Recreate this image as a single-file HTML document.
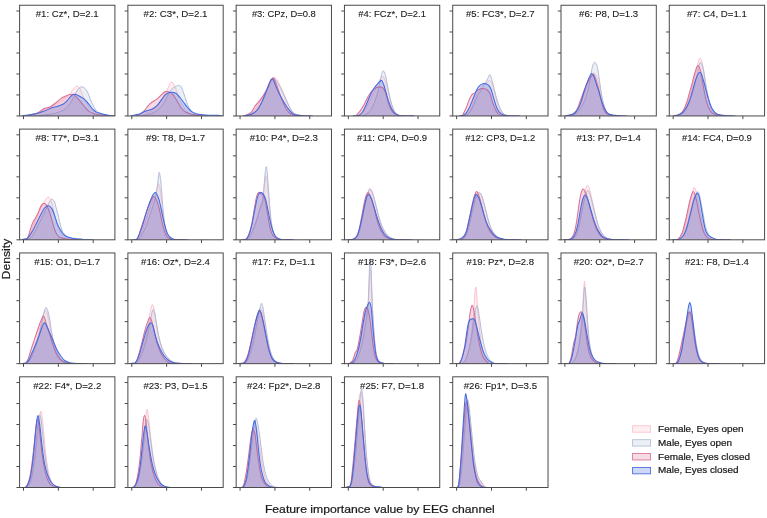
<!DOCTYPE html><html><head><meta charset="utf-8"><style>html,body{margin:0;padding:0;background:#fff;}svg{display:block;will-change:transform;}text{font-family:"Liberation Sans",sans-serif;fill:#1a1a1a;stroke:#1a1a1a;stroke-width:0.22px;}</style></head><body>
<svg width="767" height="518" viewBox="0 0 767 518">
<rect width="767" height="518" fill="#fff"/>
<clipPath id="cp0"><rect x="19.60" y="5.25" width="95.30" height="110.70"/></clipPath>
<g clip-path="url(#cp0)">
<path d="M22.00,115.95C22.50,115.92 23.33,116.04 25.00,115.80C26.67,115.56 29.17,115.30 32.00,114.50C34.83,113.70 38.67,112.42 42.00,111.00C45.33,109.58 49.00,107.58 52.00,106.00C55.00,104.42 57.67,103.00 60.00,101.50C62.33,100.00 64.22,98.38 66.00,97.00C67.78,95.62 69.68,94.25 70.70,93.20C71.72,92.15 71.50,91.58 72.10,90.70C72.70,89.82 73.47,88.63 74.30,87.90C75.13,87.17 76.15,86.18 77.10,86.30C78.05,86.42 79.28,87.63 80.00,88.60C80.72,89.57 80.92,90.92 81.40,92.10C81.88,93.28 82.18,94.15 82.90,95.70C83.62,97.25 84.75,99.62 85.70,101.40C86.65,103.18 87.65,104.97 88.60,106.40C89.55,107.83 90.33,108.98 91.40,110.00C92.47,111.02 93.80,111.90 95.00,112.50C96.20,113.10 96.93,113.05 98.60,113.60C100.27,114.15 103.43,115.41 105.00,115.80C106.57,116.19 107.50,115.92 108.00,115.95Z" fill="rgba(255,192,203,0.25)" stroke="none"/>
<path d="M22.00,115.95L22.00,115.95C22.50,115.92 23.33,116.04 25.00,115.80C26.67,115.56 29.17,115.30 32.00,114.50C34.83,113.70 38.67,112.42 42.00,111.00C45.33,109.58 49.00,107.58 52.00,106.00C55.00,104.42 57.67,103.00 60.00,101.50C62.33,100.00 64.22,98.38 66.00,97.00C67.78,95.62 69.68,94.25 70.70,93.20C71.72,92.15 71.50,91.58 72.10,90.70C72.70,89.82 73.47,88.63 74.30,87.90C75.13,87.17 76.15,86.18 77.10,86.30C78.05,86.42 79.28,87.63 80.00,88.60C80.72,89.57 80.92,90.92 81.40,92.10C81.88,93.28 82.18,94.15 82.90,95.70C83.62,97.25 84.75,99.62 85.70,101.40C86.65,103.18 87.65,104.97 88.60,106.40C89.55,107.83 90.33,108.98 91.40,110.00C92.47,111.02 93.80,111.90 95.00,112.50C96.20,113.10 96.93,113.05 98.60,113.60C100.27,114.15 103.43,115.41 105.00,115.80C106.57,116.19 107.50,115.92 108.00,115.95L114.90,115.95" fill="none" stroke="rgba(250,185,200,0.85)" stroke-width="1.00" stroke-linejoin="round"/>
<path d="M27.00,115.95C27.50,115.94 27.83,115.98 30.00,115.90C32.17,115.83 36.07,115.88 40.00,115.50C43.93,115.12 50.15,114.28 53.60,113.60C57.05,112.92 58.68,112.23 60.70,111.40C62.72,110.57 64.15,109.90 65.70,108.60C67.25,107.30 68.80,105.27 70.00,103.60C71.20,101.93 72.07,100.15 72.90,98.60C73.73,97.05 74.30,95.62 75.00,94.30C75.70,92.98 76.38,91.77 77.10,90.70C77.82,89.63 78.47,88.55 79.30,87.90C80.13,87.25 81.03,86.57 82.10,86.80C83.17,87.03 84.73,88.28 85.70,89.30C86.67,90.32 87.18,91.35 87.90,92.90C88.62,94.45 89.17,96.58 90.00,98.60C90.83,100.62 91.95,103.10 92.90,105.00C93.85,106.90 94.75,108.75 95.70,110.00C96.65,111.25 97.22,111.58 98.60,112.50C99.98,113.42 102.10,114.93 104.00,115.50C105.90,116.07 108.50,115.83 110.00,115.90C111.50,115.98 112.50,115.94 113.00,115.95Z" fill="rgba(176,196,222,0.25)" stroke="none"/>
<path d="M27.00,115.95L27.00,115.95C27.50,115.94 27.83,115.98 30.00,115.90C32.17,115.83 36.07,115.88 40.00,115.50C43.93,115.12 50.15,114.28 53.60,113.60C57.05,112.92 58.68,112.23 60.70,111.40C62.72,110.57 64.15,109.90 65.70,108.60C67.25,107.30 68.80,105.27 70.00,103.60C71.20,101.93 72.07,100.15 72.90,98.60C73.73,97.05 74.30,95.62 75.00,94.30C75.70,92.98 76.38,91.77 77.10,90.70C77.82,89.63 78.47,88.55 79.30,87.90C80.13,87.25 81.03,86.57 82.10,86.80C83.17,87.03 84.73,88.28 85.70,89.30C86.67,90.32 87.18,91.35 87.90,92.90C88.62,94.45 89.17,96.58 90.00,98.60C90.83,100.62 91.95,103.10 92.90,105.00C93.85,106.90 94.75,108.75 95.70,110.00C96.65,111.25 97.22,111.58 98.60,112.50C99.98,113.42 102.10,114.93 104.00,115.50C105.90,116.07 108.50,115.83 110.00,115.90C111.50,115.98 112.50,115.94 113.00,115.95L114.90,115.95" fill="none" stroke="rgba(172,182,208,0.9)" stroke-width="1.00" stroke-linejoin="round"/>
<path d="M27.00,115.95C27.50,115.86 28.40,115.81 30.00,115.40C31.60,114.99 34.20,114.65 36.60,113.50C39.00,112.35 42.23,109.55 44.40,108.50C46.57,107.45 47.72,108.13 49.60,107.20C51.48,106.27 53.85,104.33 55.70,102.90C57.55,101.47 59.03,99.73 60.70,98.60C62.37,97.47 64.15,96.77 65.70,96.10C67.25,95.43 68.80,94.90 70.00,94.60C71.20,94.30 71.95,94.00 72.90,94.30C73.85,94.60 74.75,95.57 75.70,96.40C76.65,97.23 77.53,98.10 78.60,99.30C79.67,100.50 80.92,102.17 82.10,103.60C83.28,105.03 84.50,106.60 85.70,107.90C86.90,109.20 88.10,110.52 89.30,111.40C90.50,112.28 91.48,112.63 92.90,113.20C94.32,113.77 95.67,114.43 97.80,114.80C99.93,115.17 103.88,115.21 105.70,115.40C107.52,115.59 108.20,115.86 108.70,115.95Z" fill="rgba(219,112,147,0.25)" stroke="none"/>
<path d="M27.00,115.95L27.00,115.95C27.50,115.86 28.40,115.81 30.00,115.40C31.60,114.99 34.20,114.65 36.60,113.50C39.00,112.35 42.23,109.55 44.40,108.50C46.57,107.45 47.72,108.13 49.60,107.20C51.48,106.27 53.85,104.33 55.70,102.90C57.55,101.47 59.03,99.73 60.70,98.60C62.37,97.47 64.15,96.77 65.70,96.10C67.25,95.43 68.80,94.90 70.00,94.60C71.20,94.30 71.95,94.00 72.90,94.30C73.85,94.60 74.75,95.57 75.70,96.40C76.65,97.23 77.53,98.10 78.60,99.30C79.67,100.50 80.92,102.17 82.10,103.60C83.28,105.03 84.50,106.60 85.70,107.90C86.90,109.20 88.10,110.52 89.30,111.40C90.50,112.28 91.48,112.63 92.90,113.20C94.32,113.77 95.67,114.43 97.80,114.80C99.93,115.17 103.88,115.21 105.70,115.40C107.52,115.59 108.20,115.86 108.70,115.95L114.90,115.95" fill="none" stroke="rgb(219,112,147)" stroke-width="1.05" stroke-linejoin="round"/>
<path d="M21.80,115.95C22.30,115.86 22.33,115.81 24.80,115.40C27.27,114.99 33.55,114.15 36.60,113.50C39.65,112.85 40.72,112.38 43.10,111.50C45.48,110.62 48.57,109.05 50.90,108.20C53.23,107.35 55.10,107.05 57.10,106.40C59.10,105.75 61.23,105.25 62.90,104.30C64.57,103.35 65.68,102.13 67.10,100.70C68.52,99.27 70.20,96.77 71.40,95.70C72.60,94.63 73.10,94.30 74.30,94.30C75.50,94.30 77.05,94.98 78.60,95.70C80.15,96.42 82.18,97.53 83.60,98.60C85.02,99.67 86.03,100.92 87.10,102.10C88.17,103.28 89.03,104.50 90.00,105.70C90.97,106.90 91.83,108.23 92.90,109.30C93.97,110.37 95.22,111.45 96.40,112.10C97.58,112.75 98.02,112.67 100.00,113.20C101.98,113.73 106.42,114.84 108.30,115.30C110.18,115.76 110.80,115.84 111.30,115.95Z" fill="rgba(65,105,225,0.25)" stroke="none"/>
<path d="M21.80,115.95L21.80,115.95C22.30,115.86 22.33,115.81 24.80,115.40C27.27,114.99 33.55,114.15 36.60,113.50C39.65,112.85 40.72,112.38 43.10,111.50C45.48,110.62 48.57,109.05 50.90,108.20C53.23,107.35 55.10,107.05 57.10,106.40C59.10,105.75 61.23,105.25 62.90,104.30C64.57,103.35 65.68,102.13 67.10,100.70C68.52,99.27 70.20,96.77 71.40,95.70C72.60,94.63 73.10,94.30 74.30,94.30C75.50,94.30 77.05,94.98 78.60,95.70C80.15,96.42 82.18,97.53 83.60,98.60C85.02,99.67 86.03,100.92 87.10,102.10C88.17,103.28 89.03,104.50 90.00,105.70C90.97,106.90 91.83,108.23 92.90,109.30C93.97,110.37 95.22,111.45 96.40,112.10C97.58,112.75 98.02,112.67 100.00,113.20C101.98,113.73 106.42,114.84 108.30,115.30C110.18,115.76 110.80,115.84 111.30,115.95L114.90,115.95" fill="none" stroke="rgb(65,105,225)" stroke-width="1.05" stroke-linejoin="round"/>
</g>
<rect x="19.60" y="5.25" width="95.30" height="110.70" fill="none" stroke="#4a4a4a" stroke-width="1.0"/>
<line x1="16.40" y1="115.95" x2="19.60" y2="115.95" stroke="#4a4a4a" stroke-width="1.0"/>
<line x1="16.40" y1="94.96" x2="19.60" y2="94.96" stroke="#4a4a4a" stroke-width="1.0"/>
<line x1="16.40" y1="73.97" x2="19.60" y2="73.97" stroke="#4a4a4a" stroke-width="1.0"/>
<line x1="16.40" y1="52.98" x2="19.60" y2="52.98" stroke="#4a4a4a" stroke-width="1.0"/>
<line x1="16.40" y1="31.99" x2="19.60" y2="31.99" stroke="#4a4a4a" stroke-width="1.0"/>
<line x1="16.40" y1="11.00" x2="19.60" y2="11.00" stroke="#4a4a4a" stroke-width="1.0"/>
<line x1="23.50" y1="115.95" x2="23.50" y2="119.15" stroke="#4a4a4a" stroke-width="1.0"/>
<line x1="58.35" y1="115.95" x2="58.35" y2="119.15" stroke="#4a4a4a" stroke-width="1.0"/>
<line x1="93.20" y1="115.95" x2="93.20" y2="119.15" stroke="#4a4a4a" stroke-width="1.0"/>
<text x="67.25" y="17.15" font-size="8.6" style="stroke-width:0.1px" text-anchor="middle" textLength="63.02" lengthAdjust="spacingAndGlyphs">#1: Cz*, D=2.1</text>
<clipPath id="cp1"><rect x="127.88" y="5.25" width="95.30" height="110.70"/></clipPath>
<g clip-path="url(#cp1)">
<path d="M140.06,115.95C140.56,115.76 141.47,115.50 143.06,114.83C144.65,114.16 147.43,113.30 149.62,111.94C151.81,110.59 154.22,108.66 156.18,106.69C158.15,104.72 159.90,102.36 161.43,100.13C162.96,97.90 164.28,95.32 165.37,93.31C166.46,91.29 167.23,89.70 167.99,88.06C168.76,86.42 169.42,84.45 169.96,83.46C170.51,82.48 170.77,82.22 171.28,82.15C171.78,82.09 172.43,82.41 172.98,83.07C173.53,83.73 173.97,84.82 174.56,86.09C175.15,87.36 175.87,88.82 176.52,90.68C177.18,92.54 177.51,94.84 178.49,97.24C179.48,99.65 181.12,102.93 182.43,105.12C183.74,107.31 184.84,108.84 186.37,110.37C187.90,111.90 189.87,113.47 191.62,114.30C193.37,115.14 195.49,115.08 196.87,115.35C198.24,115.63 199.37,115.85 199.87,115.95Z" fill="rgba(255,192,203,0.25)" stroke="none"/>
<path d="M140.06,115.95L140.06,115.95C140.56,115.76 141.47,115.50 143.06,114.83C144.65,114.16 147.43,113.30 149.62,111.94C151.81,110.59 154.22,108.66 156.18,106.69C158.15,104.72 159.90,102.36 161.43,100.13C162.96,97.90 164.28,95.32 165.37,93.31C166.46,91.29 167.23,89.70 167.99,88.06C168.76,86.42 169.42,84.45 169.96,83.46C170.51,82.48 170.77,82.22 171.28,82.15C171.78,82.09 172.43,82.41 172.98,83.07C173.53,83.73 173.97,84.82 174.56,86.09C175.15,87.36 175.87,88.82 176.52,90.68C177.18,92.54 177.51,94.84 178.49,97.24C179.48,99.65 181.12,102.93 182.43,105.12C183.74,107.31 184.84,108.84 186.37,110.37C187.90,111.90 189.87,113.47 191.62,114.30C193.37,115.14 195.49,115.08 196.87,115.35C198.24,115.63 199.37,115.85 199.87,115.95L208.87,115.95" fill="none" stroke="rgba(250,185,200,0.85)" stroke-width="1.00" stroke-linejoin="round"/>
<path d="M142.69,115.95C143.19,115.81 144.09,115.54 145.69,115.09C147.28,114.64 150.06,114.22 152.25,113.25C154.43,112.29 156.84,111.07 158.81,109.32C160.78,107.57 162.53,105.16 164.06,102.76C165.59,100.35 166.79,97.11 167.99,94.88C169.20,92.65 170.18,90.66 171.28,89.37C172.37,88.08 173.35,87.80 174.56,87.14C175.76,86.48 177.40,85.50 178.49,85.43C179.59,85.37 180.24,85.43 181.12,86.75C181.99,88.06 182.87,90.90 183.74,93.31C184.62,95.71 185.49,98.78 186.37,101.18C187.24,103.59 187.90,105.88 188.99,107.74C190.09,109.60 191.40,111.20 192.93,112.34C194.46,113.47 195.77,114.06 198.18,114.57C200.58,115.07 205.33,115.12 207.36,115.35C209.40,115.58 209.86,115.85 210.36,115.95Z" fill="rgba(176,196,222,0.25)" stroke="none"/>
<path d="M142.69,115.95L142.69,115.95C143.19,115.81 144.09,115.54 145.69,115.09C147.28,114.64 150.06,114.22 152.25,113.25C154.43,112.29 156.84,111.07 158.81,109.32C160.78,107.57 162.53,105.16 164.06,102.76C165.59,100.35 166.79,97.11 167.99,94.88C169.20,92.65 170.18,90.66 171.28,89.37C172.37,88.08 173.35,87.80 174.56,87.14C175.76,86.48 177.40,85.50 178.49,85.43C179.59,85.37 180.24,85.43 181.12,86.75C181.99,88.06 182.87,90.90 183.74,93.31C184.62,95.71 185.49,98.78 186.37,101.18C187.24,103.59 187.90,105.88 188.99,107.74C190.09,109.60 191.40,111.20 192.93,112.34C194.46,113.47 195.77,114.06 198.18,114.57C200.58,115.07 205.33,115.12 207.36,115.35C209.40,115.58 209.86,115.85 210.36,115.95L219.36,115.95" fill="none" stroke="rgba(172,182,208,0.9)" stroke-width="1.00" stroke-linejoin="round"/>
<path d="M136.12,115.95C136.62,115.72 137.75,115.45 139.12,114.57C140.50,113.68 142.62,112.38 144.37,110.63C146.12,108.88 147.43,106.08 149.62,104.07C151.81,102.06 155.09,100.52 157.50,98.56C159.90,96.59 162.53,93.44 164.06,92.26C165.59,91.08 165.59,91.40 166.68,91.47C167.78,91.54 169.53,92.08 170.62,92.65C171.71,93.22 172.15,93.46 173.24,94.88C174.34,96.30 175.87,99.04 177.18,101.18C178.49,103.32 179.81,105.99 181.12,107.74C182.43,109.49 183.31,110.59 185.06,111.68C186.80,112.77 189.65,113.71 191.62,114.30C193.59,114.90 195.49,114.95 196.87,115.22C198.24,115.50 199.37,115.83 199.87,115.95Z" fill="rgba(219,112,147,0.25)" stroke="none"/>
<path d="M136.12,115.95L136.12,115.95C136.62,115.72 137.75,115.45 139.12,114.57C140.50,113.68 142.62,112.38 144.37,110.63C146.12,108.88 147.43,106.08 149.62,104.07C151.81,102.06 155.09,100.52 157.50,98.56C159.90,96.59 162.53,93.44 164.06,92.26C165.59,91.08 165.59,91.40 166.68,91.47C167.78,91.54 169.53,92.08 170.62,92.65C171.71,93.22 172.15,93.46 173.24,94.88C174.34,96.30 175.87,99.04 177.18,101.18C178.49,103.32 179.81,105.99 181.12,107.74C182.43,109.49 183.31,110.59 185.06,111.68C186.80,112.77 189.65,113.71 191.62,114.30C193.59,114.90 195.49,114.95 196.87,115.22C198.24,115.50 199.37,115.83 199.87,115.95L208.87,115.95" fill="none" stroke="rgb(219,112,147)" stroke-width="1.05" stroke-linejoin="round"/>
<path d="M130.87,115.95C131.37,115.83 132.28,115.61 133.87,115.22C135.47,114.84 138.47,114.35 140.44,113.65C142.40,112.95 143.72,111.79 145.69,111.02C147.65,110.26 150.28,110.04 152.25,109.06C154.22,108.07 155.97,106.65 157.50,105.12C159.03,103.59 160.12,101.62 161.43,99.87C162.75,98.12 163.84,95.89 165.37,94.62C166.90,93.35 168.87,92.48 170.62,92.26C172.37,92.04 174.34,92.48 175.87,93.31C177.40,94.14 178.49,95.71 179.81,97.24C181.12,98.78 182.43,100.74 183.74,102.49C185.06,104.24 186.37,106.21 187.68,107.74C188.99,109.27 190.09,110.65 191.62,111.68C193.15,112.71 194.68,113.36 196.87,113.91C199.05,114.46 201.24,114.72 204.74,114.96C208.24,115.20 215.18,115.19 217.86,115.35C220.55,115.52 220.36,115.85 220.86,115.95Z" fill="rgba(65,105,225,0.25)" stroke="none"/>
<path d="M130.87,115.95L130.87,115.95C131.37,115.83 132.28,115.61 133.87,115.22C135.47,114.84 138.47,114.35 140.44,113.65C142.40,112.95 143.72,111.79 145.69,111.02C147.65,110.26 150.28,110.04 152.25,109.06C154.22,108.07 155.97,106.65 157.50,105.12C159.03,103.59 160.12,101.62 161.43,99.87C162.75,98.12 163.84,95.89 165.37,94.62C166.90,93.35 168.87,92.48 170.62,92.26C172.37,92.04 174.34,92.48 175.87,93.31C177.40,94.14 178.49,95.71 179.81,97.24C181.12,98.78 182.43,100.74 183.74,102.49C185.06,104.24 186.37,106.21 187.68,107.74C188.99,109.27 190.09,110.65 191.62,111.68C193.15,112.71 194.68,113.36 196.87,113.91C199.05,114.46 201.24,114.72 204.74,114.96C208.24,115.20 215.18,115.19 217.86,115.35C220.55,115.52 220.36,115.85 220.86,115.95L223.18,115.95" fill="none" stroke="rgb(65,105,225)" stroke-width="1.05" stroke-linejoin="round"/>
</g>
<rect x="127.88" y="5.25" width="95.30" height="110.70" fill="none" stroke="#4a4a4a" stroke-width="1.0"/>
<line x1="124.68" y1="115.95" x2="127.88" y2="115.95" stroke="#4a4a4a" stroke-width="1.0"/>
<line x1="124.68" y1="94.96" x2="127.88" y2="94.96" stroke="#4a4a4a" stroke-width="1.0"/>
<line x1="124.68" y1="73.97" x2="127.88" y2="73.97" stroke="#4a4a4a" stroke-width="1.0"/>
<line x1="124.68" y1="52.98" x2="127.88" y2="52.98" stroke="#4a4a4a" stroke-width="1.0"/>
<line x1="124.68" y1="31.99" x2="127.88" y2="31.99" stroke="#4a4a4a" stroke-width="1.0"/>
<line x1="124.68" y1="11.00" x2="127.88" y2="11.00" stroke="#4a4a4a" stroke-width="1.0"/>
<line x1="131.78" y1="115.95" x2="131.78" y2="119.15" stroke="#4a4a4a" stroke-width="1.0"/>
<line x1="166.63" y1="115.95" x2="166.63" y2="119.15" stroke="#4a4a4a" stroke-width="1.0"/>
<line x1="201.48" y1="115.95" x2="201.48" y2="119.15" stroke="#4a4a4a" stroke-width="1.0"/>
<text x="175.53" y="17.15" font-size="8.6" style="stroke-width:0.1px" text-anchor="middle" textLength="63.94" lengthAdjust="spacingAndGlyphs">#2: C3*, D=2.1</text>
<clipPath id="cp2"><rect x="236.16" y="5.25" width="95.30" height="110.70"/></clipPath>
<g clip-path="url(#cp2)">
<path d="M245.44,115.95C245.94,115.81 247.28,115.63 248.44,115.09C249.59,114.56 250.84,114.28 252.37,112.73C253.90,111.18 255.87,108.53 257.62,105.77C259.37,103.02 261.34,99.10 262.87,96.19C264.40,93.29 265.50,90.94 266.81,88.32C268.12,85.70 269.70,82.20 270.75,80.45C271.80,78.70 272.45,78.35 273.11,77.82C273.76,77.30 274.16,77.17 274.68,77.30C275.21,77.43 275.64,77.80 276.26,78.61C276.87,79.42 277.48,80.47 278.36,82.15C279.23,83.84 280.33,86.15 281.51,88.71C282.69,91.27 284.13,94.55 285.44,97.51C286.76,100.46 288.07,103.94 289.38,106.43C290.69,108.92 291.79,111.05 293.32,112.47C294.85,113.89 297.19,114.38 298.57,114.96C299.94,115.54 301.07,115.79 301.57,115.95Z" fill="rgba(255,192,203,0.25)" stroke="none"/>
<path d="M245.44,115.95L245.44,115.95C245.94,115.81 247.28,115.63 248.44,115.09C249.59,114.56 250.84,114.28 252.37,112.73C253.90,111.18 255.87,108.53 257.62,105.77C259.37,103.02 261.34,99.10 262.87,96.19C264.40,93.29 265.50,90.94 266.81,88.32C268.12,85.70 269.70,82.20 270.75,80.45C271.80,78.70 272.45,78.35 273.11,77.82C273.76,77.30 274.16,77.17 274.68,77.30C275.21,77.43 275.64,77.80 276.26,78.61C276.87,79.42 277.48,80.47 278.36,82.15C279.23,83.84 280.33,86.15 281.51,88.71C282.69,91.27 284.13,94.55 285.44,97.51C286.76,100.46 288.07,103.94 289.38,106.43C290.69,108.92 291.79,111.05 293.32,112.47C294.85,113.89 297.19,114.38 298.57,114.96C299.94,115.54 301.07,115.79 301.57,115.95L310.57,115.95" fill="none" stroke="rgba(250,185,200,0.85)" stroke-width="1.00" stroke-linejoin="round"/>
<path d="M245.44,115.95C245.94,115.83 247.06,115.67 248.44,115.22C249.81,114.77 251.94,114.50 253.69,113.25C255.43,112.01 257.18,110.41 258.93,107.74C260.68,105.07 262.65,100.70 264.18,97.24C265.71,93.79 266.92,89.90 268.12,87.01C269.32,84.12 270.48,81.36 271.40,79.92C272.32,78.48 272.91,78.35 273.63,78.35C274.35,78.35 274.86,78.83 275.73,79.92C276.61,81.01 277.70,82.79 278.88,84.91C280.06,87.03 281.51,89.90 282.82,92.65C284.13,95.41 285.44,98.67 286.76,101.44C288.07,104.22 289.38,107.26 290.69,109.32C292.01,111.37 293.14,112.80 294.63,113.78C296.12,114.76 298.29,114.86 299.62,115.22C300.95,115.58 302.12,115.83 302.62,115.95Z" fill="rgba(176,196,222,0.25)" stroke="none"/>
<path d="M245.44,115.95L245.44,115.95C245.94,115.83 247.06,115.67 248.44,115.22C249.81,114.77 251.94,114.50 253.69,113.25C255.43,112.01 257.18,110.41 258.93,107.74C260.68,105.07 262.65,100.70 264.18,97.24C265.71,93.79 266.92,89.90 268.12,87.01C269.32,84.12 270.48,81.36 271.40,79.92C272.32,78.48 272.91,78.35 273.63,78.35C274.35,78.35 274.86,78.83 275.73,79.92C276.61,81.01 277.70,82.79 278.88,84.91C280.06,87.03 281.51,89.90 282.82,92.65C284.13,95.41 285.44,98.67 286.76,101.44C288.07,104.22 289.38,107.26 290.69,109.32C292.01,111.37 293.14,112.80 294.63,113.78C296.12,114.76 298.29,114.86 299.62,115.22C300.95,115.58 302.12,115.83 302.62,115.95L311.62,115.95" fill="none" stroke="rgba(172,182,208,0.9)" stroke-width="1.00" stroke-linejoin="round"/>
<path d="M242.81,115.95C243.31,115.83 244.44,115.80 245.81,115.22C247.19,114.64 249.53,113.98 251.06,112.47C252.59,110.96 253.58,108.14 255.00,106.17C256.42,104.20 258.04,102.67 259.59,100.66C261.14,98.64 262.92,96.26 264.31,94.09C265.71,91.93 266.92,89.83 267.99,87.66C269.06,85.50 270.02,82.57 270.75,81.10C271.47,79.64 271.84,79.37 272.32,78.87C272.80,78.37 272.89,77.03 273.63,78.08C274.38,79.13 275.86,82.85 276.78,85.17C277.70,87.49 278.29,89.59 279.14,91.99C280.00,94.40 280.98,97.27 281.90,99.61C282.82,101.95 283.74,104.18 284.66,106.04C285.57,107.90 286.49,109.51 287.41,110.76C288.33,112.01 289.10,112.80 290.17,113.52C291.24,114.24 292.49,114.76 293.84,115.09C295.20,115.42 297.06,115.34 298.30,115.49C299.55,115.63 300.80,115.87 301.30,115.95Z" fill="rgba(219,112,147,0.25)" stroke="none"/>
<path d="M242.81,115.95L242.81,115.95C243.31,115.83 244.44,115.80 245.81,115.22C247.19,114.64 249.53,113.98 251.06,112.47C252.59,110.96 253.58,108.14 255.00,106.17C256.42,104.20 258.04,102.67 259.59,100.66C261.14,98.64 262.92,96.26 264.31,94.09C265.71,91.93 266.92,89.83 267.99,87.66C269.06,85.50 270.02,82.57 270.75,81.10C271.47,79.64 271.84,79.37 272.32,78.87C272.80,78.37 272.89,77.03 273.63,78.08C274.38,79.13 275.86,82.85 276.78,85.17C277.70,87.49 278.29,89.59 279.14,91.99C280.00,94.40 280.98,97.27 281.90,99.61C282.82,101.95 283.74,104.18 284.66,106.04C285.57,107.90 286.49,109.51 287.41,110.76C288.33,112.01 289.10,112.80 290.17,113.52C291.24,114.24 292.49,114.76 293.84,115.09C295.20,115.42 297.06,115.34 298.30,115.49C299.55,115.63 300.80,115.87 301.30,115.95L310.30,115.95" fill="none" stroke="rgb(219,112,147)" stroke-width="1.05" stroke-linejoin="round"/>
<path d="M244.12,115.95C244.62,115.83 245.75,115.58 247.12,115.22C248.50,114.86 250.62,114.76 252.37,113.78C254.12,112.80 256.09,111.20 257.62,109.32C259.15,107.44 260.25,105.16 261.56,102.49C262.87,99.83 264.29,96.33 265.50,93.31C266.70,90.29 267.90,86.61 268.78,84.38C269.65,82.15 270.20,80.80 270.75,79.92C271.29,79.05 271.58,79.05 272.06,79.13C272.54,79.22 272.78,78.74 273.63,80.45C274.49,82.15 275.97,86.64 277.18,89.37C278.38,92.10 279.60,94.53 280.85,96.85C282.10,99.17 283.41,101.27 284.66,103.28C285.90,105.29 287.11,107.31 288.33,108.92C289.56,110.54 290.78,111.99 292.01,112.99C293.23,114.00 294.19,114.55 295.68,114.96C297.17,115.38 299.55,115.32 300.93,115.49C302.30,115.65 303.43,115.87 303.93,115.95Z" fill="rgba(65,105,225,0.25)" stroke="none"/>
<path d="M244.12,115.95L244.12,115.95C244.62,115.83 245.75,115.58 247.12,115.22C248.50,114.86 250.62,114.76 252.37,113.78C254.12,112.80 256.09,111.20 257.62,109.32C259.15,107.44 260.25,105.16 261.56,102.49C262.87,99.83 264.29,96.33 265.50,93.31C266.70,90.29 267.90,86.61 268.78,84.38C269.65,82.15 270.20,80.80 270.75,79.92C271.29,79.05 271.58,79.05 272.06,79.13C272.54,79.22 272.78,78.74 273.63,80.45C274.49,82.15 275.97,86.64 277.18,89.37C278.38,92.10 279.60,94.53 280.85,96.85C282.10,99.17 283.41,101.27 284.66,103.28C285.90,105.29 287.11,107.31 288.33,108.92C289.56,110.54 290.78,111.99 292.01,112.99C293.23,114.00 294.19,114.55 295.68,114.96C297.17,115.38 299.55,115.32 300.93,115.49C302.30,115.65 303.43,115.87 303.93,115.95L312.93,115.95" fill="none" stroke="rgb(65,105,225)" stroke-width="1.05" stroke-linejoin="round"/>
</g>
<rect x="236.16" y="5.25" width="95.30" height="110.70" fill="none" stroke="#4a4a4a" stroke-width="1.0"/>
<line x1="232.96" y1="115.95" x2="236.16" y2="115.95" stroke="#4a4a4a" stroke-width="1.0"/>
<line x1="232.96" y1="94.96" x2="236.16" y2="94.96" stroke="#4a4a4a" stroke-width="1.0"/>
<line x1="232.96" y1="73.97" x2="236.16" y2="73.97" stroke="#4a4a4a" stroke-width="1.0"/>
<line x1="232.96" y1="52.98" x2="236.16" y2="52.98" stroke="#4a4a4a" stroke-width="1.0"/>
<line x1="232.96" y1="31.99" x2="236.16" y2="31.99" stroke="#4a4a4a" stroke-width="1.0"/>
<line x1="232.96" y1="11.00" x2="236.16" y2="11.00" stroke="#4a4a4a" stroke-width="1.0"/>
<line x1="240.06" y1="115.95" x2="240.06" y2="119.15" stroke="#4a4a4a" stroke-width="1.0"/>
<line x1="274.91" y1="115.95" x2="274.91" y2="119.15" stroke="#4a4a4a" stroke-width="1.0"/>
<line x1="309.76" y1="115.95" x2="309.76" y2="119.15" stroke="#4a4a4a" stroke-width="1.0"/>
<text x="283.81" y="17.15" font-size="8.6" style="stroke-width:0.1px" text-anchor="middle" textLength="63.87" lengthAdjust="spacingAndGlyphs">#3: CPz, D=0.8</text>
<clipPath id="cp3"><rect x="344.44" y="5.25" width="95.30" height="110.70"/></clipPath>
<g clip-path="url(#cp3)">
<path d="M355.36,115.95C355.86,115.95 357.39,116.22 358.36,115.95C359.33,115.68 360.13,115.24 361.16,114.31C362.19,113.38 363.40,111.98 364.52,110.39C365.64,108.81 366.76,106.85 367.88,104.79C369.00,102.74 370.12,100.31 371.24,98.07C372.36,95.83 373.57,93.59 374.60,91.35C375.62,89.12 376.52,86.60 377.40,84.64C378.27,82.68 379.11,80.87 379.86,79.60C380.61,78.33 381.26,77.49 381.88,77.02C382.49,76.55 382.90,75.90 383.56,76.80C384.21,77.69 385.05,80.16 385.80,82.40C386.54,84.64 387.34,87.62 388.03,90.24C388.73,92.85 389.29,95.46 389.94,98.07C390.59,100.69 391.15,103.58 391.95,105.91C392.76,108.25 393.73,110.58 394.75,112.07C395.78,113.56 396.99,114.22 398.11,114.87C399.23,115.52 400.41,115.77 401.47,115.95C402.53,116.13 403.97,115.95 404.47,115.95Z" fill="rgba(255,192,203,0.25)" stroke="none"/>
<path d="M355.36,115.95L355.36,115.95C355.86,115.95 357.39,116.22 358.36,115.95C359.33,115.68 360.13,115.24 361.16,114.31C362.19,113.38 363.40,111.98 364.52,110.39C365.64,108.81 366.76,106.85 367.88,104.79C369.00,102.74 370.12,100.31 371.24,98.07C372.36,95.83 373.57,93.59 374.60,91.35C375.62,89.12 376.52,86.60 377.40,84.64C378.27,82.68 379.11,80.87 379.86,79.60C380.61,78.33 381.26,77.49 381.88,77.02C382.49,76.55 382.90,75.90 383.56,76.80C384.21,77.69 385.05,80.16 385.80,82.40C386.54,84.64 387.34,87.62 388.03,90.24C388.73,92.85 389.29,95.46 389.94,98.07C390.59,100.69 391.15,103.58 391.95,105.91C392.76,108.25 393.73,110.58 394.75,112.07C395.78,113.56 396.99,114.22 398.11,114.87C399.23,115.52 400.41,115.77 401.47,115.95C402.53,116.13 403.97,115.95 404.47,115.95L413.47,115.95" fill="none" stroke="rgba(250,185,200,0.85)" stroke-width="1.00" stroke-linejoin="round"/>
<path d="M358.72,115.95C359.22,115.95 360.66,116.13 361.72,115.95C362.78,115.77 363.87,115.52 365.08,114.87C366.29,114.22 367.78,113.38 369.00,112.07C370.21,110.77 371.33,108.99 372.36,107.03C373.38,105.07 374.32,102.55 375.16,100.31C376.00,98.07 376.74,95.83 377.40,93.59C378.05,91.35 378.55,89.30 379.08,86.88C379.60,84.45 380.07,81.28 380.53,79.04C381.00,76.80 381.41,74.80 381.88,73.44C382.34,72.08 382.77,70.68 383.33,70.86C383.89,71.05 384.64,72.64 385.24,74.56C385.83,76.48 386.35,79.60 386.91,82.40C387.47,85.20 387.98,88.37 388.59,91.35C389.21,94.34 389.86,97.51 390.61,100.31C391.36,103.11 392.20,106.01 393.07,108.15C393.95,110.30 394.75,111.98 395.87,113.19C396.99,114.40 398.58,114.97 399.79,115.43C401.01,115.89 402.09,115.86 403.15,115.95C404.21,116.04 405.65,115.95 406.15,115.95Z" fill="rgba(176,196,222,0.25)" stroke="none"/>
<path d="M358.72,115.95L358.72,115.95C359.22,115.95 360.66,116.13 361.72,115.95C362.78,115.77 363.87,115.52 365.08,114.87C366.29,114.22 367.78,113.38 369.00,112.07C370.21,110.77 371.33,108.99 372.36,107.03C373.38,105.07 374.32,102.55 375.16,100.31C376.00,98.07 376.74,95.83 377.40,93.59C378.05,91.35 378.55,89.30 379.08,86.88C379.60,84.45 380.07,81.28 380.53,79.04C381.00,76.80 381.41,74.80 381.88,73.44C382.34,72.08 382.77,70.68 383.33,70.86C383.89,71.05 384.64,72.64 385.24,74.56C385.83,76.48 386.35,79.60 386.91,82.40C387.47,85.20 387.98,88.37 388.59,91.35C389.21,94.34 389.86,97.51 390.61,100.31C391.36,103.11 392.20,106.01 393.07,108.15C393.95,110.30 394.75,111.98 395.87,113.19C396.99,114.40 398.58,114.97 399.79,115.43C401.01,115.89 402.09,115.86 403.15,115.95C404.21,116.04 405.65,115.95 406.15,115.95L415.15,115.95" fill="none" stroke="rgba(172,182,208,0.9)" stroke-width="1.00" stroke-linejoin="round"/>
<path d="M352.56,115.95C353.06,115.95 354.78,116.22 355.56,115.95C356.34,115.68 356.40,115.24 357.24,114.31C358.08,113.38 359.48,111.98 360.60,110.39C361.72,108.81 362.84,106.85 363.96,104.79C365.08,102.74 366.20,100.13 367.32,98.07C368.44,96.02 369.56,93.97 370.68,92.47C371.80,90.98 373.01,89.96 374.04,89.12C375.06,88.28 375.81,87.81 376.84,87.44C377.86,87.06 379.17,86.78 380.20,86.88C381.22,86.97 382.30,87.47 383.00,88.00C383.69,88.52 383.87,89.08 384.34,90.01C384.81,90.94 385.31,92.16 385.80,93.59C386.28,95.03 386.78,96.95 387.25,98.63C387.72,100.31 388.00,101.90 388.59,103.67C389.19,105.45 389.99,107.69 390.83,109.27C391.67,110.86 392.51,112.20 393.63,113.19C394.75,114.18 396.34,114.75 397.55,115.21C398.77,115.67 399.85,115.83 400.91,115.95C401.97,116.07 403.41,115.95 403.91,115.95Z" fill="rgba(219,112,147,0.25)" stroke="none"/>
<path d="M352.56,115.95L352.56,115.95C353.06,115.95 354.78,116.22 355.56,115.95C356.34,115.68 356.40,115.24 357.24,114.31C358.08,113.38 359.48,111.98 360.60,110.39C361.72,108.81 362.84,106.85 363.96,104.79C365.08,102.74 366.20,100.13 367.32,98.07C368.44,96.02 369.56,93.97 370.68,92.47C371.80,90.98 373.01,89.96 374.04,89.12C375.06,88.28 375.81,87.81 376.84,87.44C377.86,87.06 379.17,86.78 380.20,86.88C381.22,86.97 382.30,87.47 383.00,88.00C383.69,88.52 383.87,89.08 384.34,90.01C384.81,90.94 385.31,92.16 385.80,93.59C386.28,95.03 386.78,96.95 387.25,98.63C387.72,100.31 388.00,101.90 388.59,103.67C389.19,105.45 389.99,107.69 390.83,109.27C391.67,110.86 392.51,112.20 393.63,113.19C394.75,114.18 396.34,114.75 397.55,115.21C398.77,115.67 399.85,115.83 400.91,115.95C401.97,116.07 403.41,115.95 403.91,115.95L412.91,115.95" fill="none" stroke="rgb(219,112,147)" stroke-width="1.05" stroke-linejoin="round"/>
<path d="M353.12,115.95C353.62,115.95 355.43,116.00 356.12,115.95C356.81,115.90 356.68,115.83 357.24,115.66C357.80,115.48 358.55,115.56 359.48,114.87C360.41,114.18 361.72,113.19 362.84,111.51C363.96,109.83 365.17,107.03 366.20,104.79C367.22,102.55 368.06,100.22 369.00,98.07C369.93,95.93 370.86,93.69 371.80,91.91C372.73,90.14 373.66,88.74 374.60,87.44C375.53,86.13 376.59,84.99 377.40,84.08C378.20,83.16 378.76,82.56 379.41,81.95C380.07,81.33 380.76,80.31 381.32,80.38C381.88,80.46 382.30,81.50 382.77,82.40C383.24,83.29 383.52,83.89 384.12,85.76C384.71,87.62 385.61,90.98 386.35,93.59C387.10,96.21 387.75,99.01 388.59,101.43C389.43,103.86 390.46,106.29 391.39,108.15C392.33,110.02 393.17,111.51 394.19,112.63C395.22,113.75 396.25,114.32 397.55,114.87C398.86,115.42 400.79,115.77 402.03,115.95C403.28,116.13 404.53,115.95 405.03,115.95Z" fill="rgba(65,105,225,0.25)" stroke="none"/>
<path d="M353.12,115.95L353.12,115.95C353.62,115.95 355.43,116.00 356.12,115.95C356.81,115.90 356.68,115.83 357.24,115.66C357.80,115.48 358.55,115.56 359.48,114.87C360.41,114.18 361.72,113.19 362.84,111.51C363.96,109.83 365.17,107.03 366.20,104.79C367.22,102.55 368.06,100.22 369.00,98.07C369.93,95.93 370.86,93.69 371.80,91.91C372.73,90.14 373.66,88.74 374.60,87.44C375.53,86.13 376.59,84.99 377.40,84.08C378.20,83.16 378.76,82.56 379.41,81.95C380.07,81.33 380.76,80.31 381.32,80.38C381.88,80.46 382.30,81.50 382.77,82.40C383.24,83.29 383.52,83.89 384.12,85.76C384.71,87.62 385.61,90.98 386.35,93.59C387.10,96.21 387.75,99.01 388.59,101.43C389.43,103.86 390.46,106.29 391.39,108.15C392.33,110.02 393.17,111.51 394.19,112.63C395.22,113.75 396.25,114.32 397.55,114.87C398.86,115.42 400.79,115.77 402.03,115.95C403.28,116.13 404.53,115.95 405.03,115.95L414.03,115.95" fill="none" stroke="rgb(65,105,225)" stroke-width="1.05" stroke-linejoin="round"/>
</g>
<rect x="344.44" y="5.25" width="95.30" height="110.70" fill="none" stroke="#4a4a4a" stroke-width="1.0"/>
<line x1="341.24" y1="115.95" x2="344.44" y2="115.95" stroke="#4a4a4a" stroke-width="1.0"/>
<line x1="341.24" y1="94.96" x2="344.44" y2="94.96" stroke="#4a4a4a" stroke-width="1.0"/>
<line x1="341.24" y1="73.97" x2="344.44" y2="73.97" stroke="#4a4a4a" stroke-width="1.0"/>
<line x1="341.24" y1="52.98" x2="344.44" y2="52.98" stroke="#4a4a4a" stroke-width="1.0"/>
<line x1="341.24" y1="31.99" x2="344.44" y2="31.99" stroke="#4a4a4a" stroke-width="1.0"/>
<line x1="341.24" y1="11.00" x2="344.44" y2="11.00" stroke="#4a4a4a" stroke-width="1.0"/>
<line x1="348.34" y1="115.95" x2="348.34" y2="119.15" stroke="#4a4a4a" stroke-width="1.0"/>
<line x1="383.19" y1="115.95" x2="383.19" y2="119.15" stroke="#4a4a4a" stroke-width="1.0"/>
<line x1="418.04" y1="115.95" x2="418.04" y2="119.15" stroke="#4a4a4a" stroke-width="1.0"/>
<text x="392.09" y="17.15" font-size="8.6" style="stroke-width:0.1px" text-anchor="middle" textLength="67.74" lengthAdjust="spacingAndGlyphs">#4: FCz*, D=2.1</text>
<clipPath id="cp4"><rect x="452.72" y="5.25" width="95.30" height="110.70"/></clipPath>
<g clip-path="url(#cp4)">
<path d="M462.12,115.95C462.62,115.89 464.11,116.04 465.12,115.56C466.13,115.09 467.16,114.37 468.19,113.11C469.21,111.84 470.24,110.04 471.26,107.99C472.28,105.94 473.31,103.21 474.33,100.82C475.35,98.44 476.38,95.79 477.40,93.66C478.42,91.53 479.45,89.56 480.47,88.03C481.49,86.49 482.52,85.39 483.54,84.45C484.56,83.51 485.59,83.05 486.61,82.40C487.64,81.75 488.83,80.56 489.68,80.56C490.54,80.56 491.13,81.41 491.73,82.40C492.33,83.39 492.75,84.87 493.27,86.49C493.78,88.11 494.29,90.08 494.80,92.12C495.31,94.17 495.74,96.47 496.34,98.78C496.93,101.08 497.62,103.81 498.38,105.94C499.15,108.07 500.00,110.12 500.94,111.57C501.88,113.02 502.99,113.98 504.01,114.64C505.04,115.31 506.07,115.34 507.08,115.56C508.09,115.78 509.58,115.89 510.08,115.95Z" fill="rgba(255,192,203,0.25)" stroke="none"/>
<path d="M462.12,115.95L462.12,115.95C462.62,115.89 464.11,116.04 465.12,115.56C466.13,115.09 467.16,114.37 468.19,113.11C469.21,111.84 470.24,110.04 471.26,107.99C472.28,105.94 473.31,103.21 474.33,100.82C475.35,98.44 476.38,95.79 477.40,93.66C478.42,91.53 479.45,89.56 480.47,88.03C481.49,86.49 482.52,85.39 483.54,84.45C484.56,83.51 485.59,83.05 486.61,82.40C487.64,81.75 488.83,80.56 489.68,80.56C490.54,80.56 491.13,81.41 491.73,82.40C492.33,83.39 492.75,84.87 493.27,86.49C493.78,88.11 494.29,90.08 494.80,92.12C495.31,94.17 495.74,96.47 496.34,98.78C496.93,101.08 497.62,103.81 498.38,105.94C499.15,108.07 500.00,110.12 500.94,111.57C501.88,113.02 502.99,113.98 504.01,114.64C505.04,115.31 506.07,115.34 507.08,115.56C508.09,115.78 509.58,115.89 510.08,115.95L519.08,115.95" fill="none" stroke="rgba(250,185,200,0.85)" stroke-width="1.00" stroke-linejoin="round"/>
<path d="M463.14,115.95C463.64,115.89 465.13,116.04 466.14,115.56C467.15,115.09 468.19,114.37 469.21,113.11C470.24,111.84 471.26,110.04 472.28,107.99C473.31,105.94 474.33,103.04 475.35,100.82C476.38,98.61 477.40,96.56 478.42,94.68C479.45,92.81 480.47,91.27 481.49,89.56C482.52,87.86 483.75,85.81 484.56,84.45C485.38,83.08 485.81,82.49 486.41,81.38C487.00,80.27 487.57,78.90 488.15,77.79C488.73,76.69 489.29,74.47 489.89,74.72C490.48,74.98 491.08,77.20 491.73,79.33C492.38,81.46 493.09,84.79 493.78,87.52C494.46,90.25 495.06,92.98 495.82,95.71C496.59,98.44 497.53,101.51 498.38,103.89C499.24,106.28 500.00,108.33 500.94,110.04C501.88,111.74 502.99,113.21 504.01,114.13C505.04,115.05 506.07,115.26 507.08,115.56C508.09,115.87 509.58,115.89 510.08,115.95Z" fill="rgba(176,196,222,0.25)" stroke="none"/>
<path d="M463.14,115.95L463.14,115.95C463.64,115.89 465.13,116.04 466.14,115.56C467.15,115.09 468.19,114.37 469.21,113.11C470.24,111.84 471.26,110.04 472.28,107.99C473.31,105.94 474.33,103.04 475.35,100.82C476.38,98.61 477.40,96.56 478.42,94.68C479.45,92.81 480.47,91.27 481.49,89.56C482.52,87.86 483.75,85.81 484.56,84.45C485.38,83.08 485.81,82.49 486.41,81.38C487.00,80.27 487.57,78.90 488.15,77.79C488.73,76.69 489.29,74.47 489.89,74.72C490.48,74.98 491.08,77.20 491.73,79.33C492.38,81.46 493.09,84.79 493.78,87.52C494.46,90.25 495.06,92.98 495.82,95.71C496.59,98.44 497.53,101.51 498.38,103.89C499.24,106.28 500.00,108.33 500.94,110.04C501.88,111.74 502.99,113.21 504.01,114.13C505.04,115.05 506.07,115.26 507.08,115.56C508.09,115.87 509.58,115.89 510.08,115.95L519.08,115.95" fill="none" stroke="rgba(172,182,208,0.9)" stroke-width="1.00" stroke-linejoin="round"/>
<path d="M459.05,115.95C459.55,115.85 461.38,115.66 462.05,115.36C462.72,115.05 462.39,115.36 463.07,114.13C463.75,112.90 465.12,110.38 466.14,107.99C467.16,105.60 468.36,101.85 469.21,99.80C470.06,97.75 470.66,96.68 471.26,95.71C471.86,94.73 472.20,94.44 472.79,93.97C473.39,93.49 474.07,93.44 474.84,92.84C475.61,92.24 476.46,91.07 477.40,90.38C478.34,89.70 479.45,89.05 480.47,88.75C481.49,88.44 482.52,88.40 483.54,88.54C484.56,88.68 485.67,88.97 486.61,89.56C487.55,90.16 488.49,91.10 489.17,92.12C489.85,93.15 490.11,93.92 490.71,95.71C491.30,97.50 492.07,100.82 492.75,102.87C493.44,104.92 494.12,106.45 494.80,107.99C495.48,109.52 495.99,110.97 496.85,112.08C497.70,113.19 498.72,114.06 499.92,114.64C501.11,115.22 502.83,115.34 504.01,115.56C505.19,115.78 506.51,115.89 507.01,115.95Z" fill="rgba(219,112,147,0.25)" stroke="none"/>
<path d="M459.05,115.95L459.05,115.95C459.55,115.85 461.38,115.66 462.05,115.36C462.72,115.05 462.39,115.36 463.07,114.13C463.75,112.90 465.12,110.38 466.14,107.99C467.16,105.60 468.36,101.85 469.21,99.80C470.06,97.75 470.66,96.68 471.26,95.71C471.86,94.73 472.20,94.44 472.79,93.97C473.39,93.49 474.07,93.44 474.84,92.84C475.61,92.24 476.46,91.07 477.40,90.38C478.34,89.70 479.45,89.05 480.47,88.75C481.49,88.44 482.52,88.40 483.54,88.54C484.56,88.68 485.67,88.97 486.61,89.56C487.55,90.16 488.49,91.10 489.17,92.12C489.85,93.15 490.11,93.92 490.71,95.71C491.30,97.50 492.07,100.82 492.75,102.87C493.44,104.92 494.12,106.45 494.80,107.99C495.48,109.52 495.99,110.97 496.85,112.08C497.70,113.19 498.72,114.06 499.92,114.64C501.11,115.22 502.83,115.34 504.01,115.56C505.19,115.78 506.51,115.89 507.01,115.95L516.01,115.95" fill="none" stroke="rgb(219,112,147)" stroke-width="1.05" stroke-linejoin="round"/>
<path d="M459.56,115.95C460.06,115.89 461.89,115.70 462.56,115.56C463.23,115.43 462.99,115.56 463.58,115.15C464.18,114.74 465.20,114.30 466.14,113.11C467.08,111.91 468.27,109.87 469.21,107.99C470.15,106.11 470.92,103.89 471.77,101.85C472.62,99.80 473.56,97.58 474.33,95.71C475.10,93.83 475.69,92.04 476.38,90.59C477.06,89.14 477.66,88.00 478.42,87.01C479.19,86.02 479.96,85.25 480.98,84.65C482.01,84.05 483.37,83.37 484.56,83.42C485.76,83.47 487.12,84.11 488.15,84.96C489.17,85.81 489.94,86.92 490.71,88.54C491.47,90.16 492.07,92.47 492.75,94.68C493.44,96.90 494.12,99.63 494.80,101.85C495.48,104.07 496.08,106.28 496.85,107.99C497.62,109.69 498.38,110.97 499.41,112.08C500.43,113.19 501.54,114.04 502.99,114.64C504.44,115.24 506.75,115.45 508.11,115.67C509.46,115.88 510.61,115.90 511.11,115.95Z" fill="rgba(65,105,225,0.25)" stroke="none"/>
<path d="M459.56,115.95L459.56,115.95C460.06,115.89 461.89,115.70 462.56,115.56C463.23,115.43 462.99,115.56 463.58,115.15C464.18,114.74 465.20,114.30 466.14,113.11C467.08,111.91 468.27,109.87 469.21,107.99C470.15,106.11 470.92,103.89 471.77,101.85C472.62,99.80 473.56,97.58 474.33,95.71C475.10,93.83 475.69,92.04 476.38,90.59C477.06,89.14 477.66,88.00 478.42,87.01C479.19,86.02 479.96,85.25 480.98,84.65C482.01,84.05 483.37,83.37 484.56,83.42C485.76,83.47 487.12,84.11 488.15,84.96C489.17,85.81 489.94,86.92 490.71,88.54C491.47,90.16 492.07,92.47 492.75,94.68C493.44,96.90 494.12,99.63 494.80,101.85C495.48,104.07 496.08,106.28 496.85,107.99C497.62,109.69 498.38,110.97 499.41,112.08C500.43,113.19 501.54,114.04 502.99,114.64C504.44,115.24 506.75,115.45 508.11,115.67C509.46,115.88 510.61,115.90 511.11,115.95L520.11,115.95" fill="none" stroke="rgb(65,105,225)" stroke-width="1.05" stroke-linejoin="round"/>
</g>
<rect x="452.72" y="5.25" width="95.30" height="110.70" fill="none" stroke="#4a4a4a" stroke-width="1.0"/>
<line x1="449.52" y1="115.95" x2="452.72" y2="115.95" stroke="#4a4a4a" stroke-width="1.0"/>
<line x1="449.52" y1="94.96" x2="452.72" y2="94.96" stroke="#4a4a4a" stroke-width="1.0"/>
<line x1="449.52" y1="73.97" x2="452.72" y2="73.97" stroke="#4a4a4a" stroke-width="1.0"/>
<line x1="449.52" y1="52.98" x2="452.72" y2="52.98" stroke="#4a4a4a" stroke-width="1.0"/>
<line x1="449.52" y1="31.99" x2="452.72" y2="31.99" stroke="#4a4a4a" stroke-width="1.0"/>
<line x1="449.52" y1="11.00" x2="452.72" y2="11.00" stroke="#4a4a4a" stroke-width="1.0"/>
<line x1="456.62" y1="115.95" x2="456.62" y2="119.15" stroke="#4a4a4a" stroke-width="1.0"/>
<line x1="491.47" y1="115.95" x2="491.47" y2="119.15" stroke="#4a4a4a" stroke-width="1.0"/>
<line x1="526.32" y1="115.95" x2="526.32" y2="119.15" stroke="#4a4a4a" stroke-width="1.0"/>
<text x="500.37" y="17.15" font-size="8.6" style="stroke-width:0.1px" text-anchor="middle" textLength="68.65" lengthAdjust="spacingAndGlyphs">#5: FC3*, D=2.7</text>
<clipPath id="cp5"><rect x="561.00" y="5.25" width="95.30" height="110.70"/></clipPath>
<g clip-path="url(#cp5)">
<path d="M569.12,115.95C569.62,115.81 570.97,115.72 572.12,115.09C573.28,114.47 574.75,113.87 576.06,112.20C577.37,110.54 578.69,108.05 580.00,105.12C581.31,102.19 582.62,98.12 583.93,94.62C585.25,91.12 586.67,87.18 587.87,84.12C589.07,81.06 590.10,78.11 591.15,76.25C592.20,74.39 593.19,72.75 594.17,72.97C595.15,73.18 596.25,75.66 597.06,77.56C597.87,79.46 598.37,81.71 599.03,84.38C599.68,87.05 600.34,90.55 600.99,93.57C601.65,96.59 602.31,99.91 602.96,102.49C603.62,105.07 604.17,107.20 604.93,109.06C605.70,110.91 606.46,112.62 607.56,113.65C608.65,114.68 610.34,114.84 611.49,115.22C612.65,115.61 613.99,115.83 614.49,115.95Z" fill="rgba(255,192,203,0.25)" stroke="none"/>
<path d="M569.12,115.95L569.12,115.95C569.62,115.81 570.97,115.72 572.12,115.09C573.28,114.47 574.75,113.87 576.06,112.20C577.37,110.54 578.69,108.05 580.00,105.12C581.31,102.19 582.62,98.12 583.93,94.62C585.25,91.12 586.67,87.18 587.87,84.12C589.07,81.06 590.10,78.11 591.15,76.25C592.20,74.39 593.19,72.75 594.17,72.97C595.15,73.18 596.25,75.66 597.06,77.56C597.87,79.46 598.37,81.71 599.03,84.38C599.68,87.05 600.34,90.55 600.99,93.57C601.65,96.59 602.31,99.91 602.96,102.49C603.62,105.07 604.17,107.20 604.93,109.06C605.70,110.91 606.46,112.62 607.56,113.65C608.65,114.68 610.34,114.84 611.49,115.22C612.65,115.61 613.99,115.83 614.49,115.95L623.49,115.95" fill="none" stroke="rgba(250,185,200,0.85)" stroke-width="1.00" stroke-linejoin="round"/>
<path d="M567.81,115.95C568.31,115.83 569.65,115.50 570.81,115.22C571.97,114.95 573.44,115.00 574.75,114.30C576.06,113.60 577.37,112.55 578.69,111.02C580.00,109.49 581.42,107.41 582.62,105.12C583.83,102.82 584.92,100.09 585.90,97.24C586.89,94.40 587.81,91.12 588.53,88.06C589.25,85.00 589.73,81.71 590.23,78.87C590.74,76.03 591.11,73.29 591.55,71.00C591.98,68.70 592.33,66.56 592.86,65.09C593.38,63.63 594.04,62.20 594.70,62.20C595.35,62.20 596.23,63.63 596.80,65.09C597.36,66.56 597.67,68.48 598.11,71.00C598.55,73.51 598.98,77.12 599.42,80.18C599.86,83.25 600.25,86.31 600.73,89.37C601.21,92.43 601.72,95.71 602.31,98.56C602.90,101.40 603.62,104.24 604.28,106.43C604.93,108.62 605.48,110.37 606.24,111.68C607.01,112.99 607.78,113.71 608.87,114.30C609.96,114.90 611.65,114.95 612.81,115.22C613.96,115.50 615.31,115.83 615.81,115.95Z" fill="rgba(176,196,222,0.25)" stroke="none"/>
<path d="M567.81,115.95L567.81,115.95C568.31,115.83 569.65,115.50 570.81,115.22C571.97,114.95 573.44,115.00 574.75,114.30C576.06,113.60 577.37,112.55 578.69,111.02C580.00,109.49 581.42,107.41 582.62,105.12C583.83,102.82 584.92,100.09 585.90,97.24C586.89,94.40 587.81,91.12 588.53,88.06C589.25,85.00 589.73,81.71 590.23,78.87C590.74,76.03 591.11,73.29 591.55,71.00C591.98,68.70 592.33,66.56 592.86,65.09C593.38,63.63 594.04,62.20 594.70,62.20C595.35,62.20 596.23,63.63 596.80,65.09C597.36,66.56 597.67,68.48 598.11,71.00C598.55,73.51 598.98,77.12 599.42,80.18C599.86,83.25 600.25,86.31 600.73,89.37C601.21,92.43 601.72,95.71 602.31,98.56C602.90,101.40 603.62,104.24 604.28,106.43C604.93,108.62 605.48,110.37 606.24,111.68C607.01,112.99 607.78,113.71 608.87,114.30C609.96,114.90 611.65,114.95 612.81,115.22C613.96,115.50 615.31,115.83 615.81,115.95L624.81,115.95" fill="none" stroke="rgba(172,182,208,0.9)" stroke-width="1.00" stroke-linejoin="round"/>
<path d="M566.50,115.95C567.00,115.83 568.56,115.45 569.50,115.22C570.44,114.99 571.14,115.16 572.12,114.57C573.11,113.98 574.42,112.93 575.40,111.68C576.39,110.43 577.15,109.06 578.03,107.09C578.90,105.12 579.67,102.56 580.65,99.87C581.64,97.18 582.84,93.74 583.93,90.94C585.03,88.15 586.12,85.30 587.22,83.07C588.31,80.84 589.47,79.02 590.50,77.56C591.52,76.09 592.51,74.06 593.38,74.28C594.26,74.50 595.02,77.01 595.75,78.87C596.47,80.73 597.06,83.03 597.71,85.43C598.37,87.84 599.03,90.46 599.68,93.31C600.34,96.15 600.99,99.87 601.65,102.49C602.31,105.12 602.85,107.26 603.62,109.06C604.38,110.85 605.15,112.25 606.24,113.25C607.34,114.26 609.02,114.64 610.18,115.09C611.34,115.54 612.68,115.81 613.18,115.95Z" fill="rgba(219,112,147,0.25)" stroke="none"/>
<path d="M566.50,115.95L566.50,115.95C567.00,115.83 568.56,115.45 569.50,115.22C570.44,114.99 571.14,115.16 572.12,114.57C573.11,113.98 574.42,112.93 575.40,111.68C576.39,110.43 577.15,109.06 578.03,107.09C578.90,105.12 579.67,102.56 580.65,99.87C581.64,97.18 582.84,93.74 583.93,90.94C585.03,88.15 586.12,85.30 587.22,83.07C588.31,80.84 589.47,79.02 590.50,77.56C591.52,76.09 592.51,74.06 593.38,74.28C594.26,74.50 595.02,77.01 595.75,78.87C596.47,80.73 597.06,83.03 597.71,85.43C598.37,87.84 599.03,90.46 599.68,93.31C600.34,96.15 600.99,99.87 601.65,102.49C602.31,105.12 602.85,107.26 603.62,109.06C604.38,110.85 605.15,112.25 606.24,113.25C607.34,114.26 609.02,114.64 610.18,115.09C611.34,115.54 612.68,115.81 613.18,115.95L622.18,115.95" fill="none" stroke="rgb(219,112,147)" stroke-width="1.05" stroke-linejoin="round"/>
<path d="M565.19,115.95C565.69,115.85 566.81,115.67 568.19,115.35C569.56,115.04 572.12,114.65 573.44,114.04C574.75,113.43 575.19,112.73 576.06,111.68C576.94,110.63 577.81,109.49 578.69,107.74C579.56,105.99 580.43,103.81 581.31,101.18C582.18,98.56 583.06,94.84 583.93,91.99C584.81,89.15 585.68,86.53 586.56,84.12C587.43,81.71 588.37,79.31 589.18,77.56C589.99,75.81 590.65,73.84 591.41,73.62C592.18,73.40 592.95,74.50 593.78,76.25C594.61,78.00 595.53,81.50 596.40,84.12C597.28,86.75 598.15,89.15 599.03,91.99C599.90,94.84 600.78,98.56 601.65,101.18C602.53,103.81 603.40,105.88 604.28,107.74C605.15,109.60 605.92,111.20 606.90,112.34C607.88,113.47 608.76,114.06 610.18,114.57C611.60,115.07 614.06,115.12 615.43,115.35C616.81,115.58 617.93,115.85 618.43,115.95Z" fill="rgba(65,105,225,0.25)" stroke="none"/>
<path d="M565.19,115.95L565.19,115.95C565.69,115.85 566.81,115.67 568.19,115.35C569.56,115.04 572.12,114.65 573.44,114.04C574.75,113.43 575.19,112.73 576.06,111.68C576.94,110.63 577.81,109.49 578.69,107.74C579.56,105.99 580.43,103.81 581.31,101.18C582.18,98.56 583.06,94.84 583.93,91.99C584.81,89.15 585.68,86.53 586.56,84.12C587.43,81.71 588.37,79.31 589.18,77.56C589.99,75.81 590.65,73.84 591.41,73.62C592.18,73.40 592.95,74.50 593.78,76.25C594.61,78.00 595.53,81.50 596.40,84.12C597.28,86.75 598.15,89.15 599.03,91.99C599.90,94.84 600.78,98.56 601.65,101.18C602.53,103.81 603.40,105.88 604.28,107.74C605.15,109.60 605.92,111.20 606.90,112.34C607.88,113.47 608.76,114.06 610.18,114.57C611.60,115.07 614.06,115.12 615.43,115.35C616.81,115.58 617.93,115.85 618.43,115.95L627.43,115.95" fill="none" stroke="rgb(65,105,225)" stroke-width="1.05" stroke-linejoin="round"/>
</g>
<rect x="561.00" y="5.25" width="95.30" height="110.70" fill="none" stroke="#4a4a4a" stroke-width="1.0"/>
<line x1="557.80" y1="115.95" x2="561.00" y2="115.95" stroke="#4a4a4a" stroke-width="1.0"/>
<line x1="557.80" y1="94.96" x2="561.00" y2="94.96" stroke="#4a4a4a" stroke-width="1.0"/>
<line x1="557.80" y1="73.97" x2="561.00" y2="73.97" stroke="#4a4a4a" stroke-width="1.0"/>
<line x1="557.80" y1="52.98" x2="561.00" y2="52.98" stroke="#4a4a4a" stroke-width="1.0"/>
<line x1="557.80" y1="31.99" x2="561.00" y2="31.99" stroke="#4a4a4a" stroke-width="1.0"/>
<line x1="557.80" y1="11.00" x2="561.00" y2="11.00" stroke="#4a4a4a" stroke-width="1.0"/>
<line x1="564.90" y1="115.95" x2="564.90" y2="119.15" stroke="#4a4a4a" stroke-width="1.0"/>
<line x1="599.75" y1="115.95" x2="599.75" y2="119.15" stroke="#4a4a4a" stroke-width="1.0"/>
<line x1="634.60" y1="115.95" x2="634.60" y2="119.15" stroke="#4a4a4a" stroke-width="1.0"/>
<text x="608.65" y="17.15" font-size="8.6" style="stroke-width:0.1px" text-anchor="middle" textLength="59.06" lengthAdjust="spacingAndGlyphs">#6: P8, D=1.3</text>
<clipPath id="cp6"><rect x="669.28" y="5.25" width="95.30" height="110.70"/></clipPath>
<g clip-path="url(#cp6)">
<path d="M674.50,115.95C675.00,115.83 676.45,115.61 677.50,115.22C678.55,114.84 679.58,114.68 680.78,113.65C681.98,112.62 683.51,111.13 684.72,109.06C685.92,106.98 687.01,104.02 688.00,101.18C688.98,98.34 689.75,95.06 690.62,91.99C691.50,88.93 692.42,85.87 693.25,82.81C694.08,79.75 694.95,76.25 695.61,73.62C696.27,71.00 696.70,69.14 697.18,67.06C697.66,64.98 698.01,62.64 698.50,61.15C698.98,59.67 699.52,58.14 700.07,58.14C700.62,58.14 701.27,59.67 701.78,61.15C702.28,62.64 702.65,64.76 703.09,67.06C703.53,69.36 703.96,72.09 704.40,74.93C704.84,77.78 705.21,81.06 705.71,84.12C706.22,87.18 706.83,90.24 707.42,93.31C708.01,96.37 708.56,99.87 709.26,102.49C709.96,105.12 710.79,107.31 711.62,109.06C712.45,110.80 713.15,112.01 714.24,112.99C715.34,113.98 717.02,114.47 718.18,114.96C719.34,115.45 720.68,115.79 721.18,115.95Z" fill="rgba(255,192,203,0.25)" stroke="none"/>
<path d="M674.50,115.95L674.50,115.95C675.00,115.83 676.45,115.61 677.50,115.22C678.55,114.84 679.58,114.68 680.78,113.65C681.98,112.62 683.51,111.13 684.72,109.06C685.92,106.98 687.01,104.02 688.00,101.18C688.98,98.34 689.75,95.06 690.62,91.99C691.50,88.93 692.42,85.87 693.25,82.81C694.08,79.75 694.95,76.25 695.61,73.62C696.27,71.00 696.70,69.14 697.18,67.06C697.66,64.98 698.01,62.64 698.50,61.15C698.98,59.67 699.52,58.14 700.07,58.14C700.62,58.14 701.27,59.67 701.78,61.15C702.28,62.64 702.65,64.76 703.09,67.06C703.53,69.36 703.96,72.09 704.40,74.93C704.84,77.78 705.21,81.06 705.71,84.12C706.22,87.18 706.83,90.24 707.42,93.31C708.01,96.37 708.56,99.87 709.26,102.49C709.96,105.12 710.79,107.31 711.62,109.06C712.45,110.80 713.15,112.01 714.24,112.99C715.34,113.98 717.02,114.47 718.18,114.96C719.34,115.45 720.68,115.79 721.18,115.95L730.18,115.95" fill="none" stroke="rgba(250,185,200,0.85)" stroke-width="1.00" stroke-linejoin="round"/>
<path d="M677.12,115.95C677.62,115.76 678.97,115.54 680.12,114.83C681.28,114.12 682.75,113.19 684.06,111.68C685.37,110.17 686.79,108.18 688.00,105.77C689.20,103.37 690.29,100.20 691.28,97.24C692.26,94.29 693.09,91.12 693.90,88.06C694.71,85.00 695.48,81.71 696.13,78.87C696.79,76.03 697.34,73.29 697.84,71.00C698.34,68.70 698.71,66.51 699.15,65.09C699.59,63.67 699.96,62.47 700.46,62.47C700.97,62.47 701.62,63.56 702.17,65.09C702.72,66.62 703.26,69.14 703.75,71.65C704.23,74.17 704.58,77.23 705.06,80.18C705.54,83.14 706.06,86.31 706.63,89.37C707.20,92.43 707.79,95.71 708.47,98.56C709.15,101.40 709.85,104.24 710.70,106.43C711.55,108.62 712.56,110.37 713.59,111.68C714.62,112.99 715.45,113.69 716.87,114.30C718.29,114.92 720.74,115.08 722.12,115.35C723.49,115.63 724.62,115.85 725.12,115.95Z" fill="rgba(176,196,222,0.25)" stroke="none"/>
<path d="M677.12,115.95L677.12,115.95C677.62,115.76 678.97,115.54 680.12,114.83C681.28,114.12 682.75,113.19 684.06,111.68C685.37,110.17 686.79,108.18 688.00,105.77C689.20,103.37 690.29,100.20 691.28,97.24C692.26,94.29 693.09,91.12 693.90,88.06C694.71,85.00 695.48,81.71 696.13,78.87C696.79,76.03 697.34,73.29 697.84,71.00C698.34,68.70 698.71,66.51 699.15,65.09C699.59,63.67 699.96,62.47 700.46,62.47C700.97,62.47 701.62,63.56 702.17,65.09C702.72,66.62 703.26,69.14 703.75,71.65C704.23,74.17 704.58,77.23 705.06,80.18C705.54,83.14 706.06,86.31 706.63,89.37C707.20,92.43 707.79,95.71 708.47,98.56C709.15,101.40 709.85,104.24 710.70,106.43C711.55,108.62 712.56,110.37 713.59,111.68C714.62,112.99 715.45,113.69 716.87,114.30C718.29,114.92 720.74,115.08 722.12,115.35C723.49,115.63 724.62,115.85 725.12,115.95L734.12,115.95" fill="none" stroke="rgba(172,182,208,0.9)" stroke-width="1.00" stroke-linejoin="round"/>
<path d="M673.19,115.95C673.69,115.83 675.03,115.54 676.19,115.22C677.34,114.91 678.92,114.85 680.12,114.04C681.33,113.23 682.31,112.29 683.40,110.37C684.50,108.44 685.70,105.34 686.69,102.49C687.67,99.65 688.43,96.37 689.31,93.31C690.18,90.24 691.17,86.96 691.93,84.12C692.70,81.28 693.25,78.65 693.90,76.25C694.56,73.84 695.22,71.48 695.87,69.69C696.53,67.89 697.18,65.70 697.84,65.49C698.50,65.27 699.22,66.80 699.81,68.37C700.40,69.95 700.90,72.53 701.38,74.93C701.86,77.34 702.19,79.97 702.70,82.81C703.20,85.65 703.79,88.93 704.40,91.99C705.01,95.06 705.65,98.56 706.37,101.18C707.09,103.81 707.86,105.88 708.73,107.74C709.61,109.60 710.48,111.18 711.62,112.34C712.76,113.50 714.03,114.20 715.56,114.70C717.09,115.20 719.43,115.15 720.81,115.35C722.18,115.56 723.31,115.85 723.81,115.95Z" fill="rgba(219,112,147,0.25)" stroke="none"/>
<path d="M673.19,115.95L673.19,115.95C673.69,115.83 675.03,115.54 676.19,115.22C677.34,114.91 678.92,114.85 680.12,114.04C681.33,113.23 682.31,112.29 683.40,110.37C684.50,108.44 685.70,105.34 686.69,102.49C687.67,99.65 688.43,96.37 689.31,93.31C690.18,90.24 691.17,86.96 691.93,84.12C692.70,81.28 693.25,78.65 693.90,76.25C694.56,73.84 695.22,71.48 695.87,69.69C696.53,67.89 697.18,65.70 697.84,65.49C698.50,65.27 699.22,66.80 699.81,68.37C700.40,69.95 700.90,72.53 701.38,74.93C701.86,77.34 702.19,79.97 702.70,82.81C703.20,85.65 703.79,88.93 704.40,91.99C705.01,95.06 705.65,98.56 706.37,101.18C707.09,103.81 707.86,105.88 708.73,107.74C709.61,109.60 710.48,111.18 711.62,112.34C712.76,113.50 714.03,114.20 715.56,114.70C717.09,115.20 719.43,115.15 720.81,115.35C722.18,115.56 723.31,115.85 723.81,115.95L732.81,115.95" fill="none" stroke="rgb(219,112,147)" stroke-width="1.05" stroke-linejoin="round"/>
<path d="M674.50,115.95C675.00,115.83 676.23,115.72 677.50,115.22C678.76,114.73 680.78,113.98 682.09,112.99C683.40,112.01 684.28,111.02 685.37,109.32C686.47,107.61 687.67,105.16 688.65,102.76C689.64,100.35 690.40,97.73 691.28,94.88C692.15,92.04 693.14,88.32 693.90,85.70C694.67,83.07 695.22,81.01 695.87,79.13C696.53,77.25 697.18,75.55 697.84,74.41C698.50,73.27 699.15,72.22 699.81,72.31C700.46,72.40 701.12,73.40 701.78,74.93C702.43,76.47 703.02,78.87 703.75,81.50C704.47,84.12 705.28,87.62 706.11,90.68C706.94,93.74 707.81,97.03 708.73,99.87C709.65,102.71 710.59,105.66 711.62,107.74C712.65,109.82 713.81,111.20 714.90,112.34C715.99,113.47 716.76,114.06 718.18,114.57C719.60,115.07 722.06,115.12 723.43,115.35C724.81,115.58 725.93,115.85 726.43,115.95Z" fill="rgba(65,105,225,0.25)" stroke="none"/>
<path d="M674.50,115.95L674.50,115.95C675.00,115.83 676.23,115.72 677.50,115.22C678.76,114.73 680.78,113.98 682.09,112.99C683.40,112.01 684.28,111.02 685.37,109.32C686.47,107.61 687.67,105.16 688.65,102.76C689.64,100.35 690.40,97.73 691.28,94.88C692.15,92.04 693.14,88.32 693.90,85.70C694.67,83.07 695.22,81.01 695.87,79.13C696.53,77.25 697.18,75.55 697.84,74.41C698.50,73.27 699.15,72.22 699.81,72.31C700.46,72.40 701.12,73.40 701.78,74.93C702.43,76.47 703.02,78.87 703.75,81.50C704.47,84.12 705.28,87.62 706.11,90.68C706.94,93.74 707.81,97.03 708.73,99.87C709.65,102.71 710.59,105.66 711.62,107.74C712.65,109.82 713.81,111.20 714.90,112.34C715.99,113.47 716.76,114.06 718.18,114.57C719.60,115.07 722.06,115.12 723.43,115.35C724.81,115.58 725.93,115.85 726.43,115.95L735.43,115.95" fill="none" stroke="rgb(65,105,225)" stroke-width="1.05" stroke-linejoin="round"/>
</g>
<rect x="669.28" y="5.25" width="95.30" height="110.70" fill="none" stroke="#4a4a4a" stroke-width="1.0"/>
<line x1="666.08" y1="115.95" x2="669.28" y2="115.95" stroke="#4a4a4a" stroke-width="1.0"/>
<line x1="666.08" y1="94.96" x2="669.28" y2="94.96" stroke="#4a4a4a" stroke-width="1.0"/>
<line x1="666.08" y1="73.97" x2="669.28" y2="73.97" stroke="#4a4a4a" stroke-width="1.0"/>
<line x1="666.08" y1="52.98" x2="669.28" y2="52.98" stroke="#4a4a4a" stroke-width="1.0"/>
<line x1="666.08" y1="31.99" x2="669.28" y2="31.99" stroke="#4a4a4a" stroke-width="1.0"/>
<line x1="666.08" y1="11.00" x2="669.28" y2="11.00" stroke="#4a4a4a" stroke-width="1.0"/>
<line x1="673.18" y1="115.95" x2="673.18" y2="119.15" stroke="#4a4a4a" stroke-width="1.0"/>
<line x1="708.03" y1="115.95" x2="708.03" y2="119.15" stroke="#4a4a4a" stroke-width="1.0"/>
<line x1="742.88" y1="115.95" x2="742.88" y2="119.15" stroke="#4a4a4a" stroke-width="1.0"/>
<text x="716.93" y="17.15" font-size="8.6" style="stroke-width:0.1px" text-anchor="middle" textLength="59.84" lengthAdjust="spacingAndGlyphs">#7: C4, D=1.1</text>
<clipPath id="cp7"><rect x="19.60" y="129.10" width="95.30" height="110.70"/></clipPath>
<g clip-path="url(#cp7)">
<path d="M23.25,239.80C23.75,239.67 25.40,239.43 26.25,239.03C27.10,238.62 27.52,238.68 28.33,237.36C29.14,236.04 30.19,233.31 31.11,231.11C32.04,228.91 32.96,226.48 33.89,224.17C34.81,221.85 35.74,219.42 36.67,217.22C37.59,215.02 38.52,212.94 39.44,210.97C40.37,209.00 41.30,207.15 42.22,205.42C43.15,203.68 44.19,201.83 45.00,200.56C45.81,199.28 46.50,198.36 47.08,197.78C47.66,197.20 48.01,196.97 48.47,197.08C48.94,197.20 49.28,197.43 49.86,198.47C50.44,199.51 51.25,201.13 51.94,203.33C52.64,205.53 53.33,208.66 54.03,211.67C54.72,214.68 55.30,218.38 56.11,221.39C56.92,224.40 57.85,227.29 58.89,229.72C59.93,232.15 60.97,234.47 62.36,235.97C63.75,237.48 65.72,238.24 67.22,238.75C68.73,239.26 70.19,238.85 71.39,239.03C72.58,239.20 73.89,239.67 74.39,239.80Z" fill="rgba(255,192,203,0.25)" stroke="none"/>
<path d="M23.25,239.80L23.25,239.80C23.75,239.67 25.40,239.43 26.25,239.03C27.10,238.62 27.52,238.68 28.33,237.36C29.14,236.04 30.19,233.31 31.11,231.11C32.04,228.91 32.96,226.48 33.89,224.17C34.81,221.85 35.74,219.42 36.67,217.22C37.59,215.02 38.52,212.94 39.44,210.97C40.37,209.00 41.30,207.15 42.22,205.42C43.15,203.68 44.19,201.83 45.00,200.56C45.81,199.28 46.50,198.36 47.08,197.78C47.66,197.20 48.01,196.97 48.47,197.08C48.94,197.20 49.28,197.43 49.86,198.47C50.44,199.51 51.25,201.13 51.94,203.33C52.64,205.53 53.33,208.66 54.03,211.67C54.72,214.68 55.30,218.38 56.11,221.39C56.92,224.40 57.85,227.29 58.89,229.72C59.93,232.15 60.97,234.47 62.36,235.97C63.75,237.48 65.72,238.24 67.22,238.75C68.73,239.26 70.19,238.85 71.39,239.03C72.58,239.20 73.89,239.67 74.39,239.80L83.39,239.80" fill="none" stroke="rgba(250,185,200,0.85)" stroke-width="1.00" stroke-linejoin="round"/>
<path d="M25.33,239.80C25.83,239.67 27.37,239.43 28.33,239.03C29.30,238.62 29.95,238.68 31.11,237.36C32.27,236.04 33.89,233.54 35.28,231.11C36.67,228.68 38.06,225.56 39.44,222.78C40.83,220.00 42.34,217.11 43.61,214.44C44.88,211.78 46.04,209.00 47.08,206.81C48.12,204.61 49.00,202.52 49.86,201.25C50.72,199.98 51.46,199.05 52.22,199.17C52.99,199.28 53.75,200.32 54.44,201.94C55.14,203.56 55.69,206.34 56.39,208.89C57.08,211.44 57.92,214.44 58.61,217.22C59.31,220.00 59.81,223.01 60.56,225.56C61.30,228.10 61.94,230.65 63.06,232.50C64.17,234.35 65.60,235.63 67.22,236.67C68.84,237.71 70.93,238.36 72.78,238.75C74.63,239.14 76.91,238.85 78.33,239.03C79.76,239.20 80.83,239.67 81.33,239.80Z" fill="rgba(176,196,222,0.25)" stroke="none"/>
<path d="M25.33,239.80L25.33,239.80C25.83,239.67 27.37,239.43 28.33,239.03C29.30,238.62 29.95,238.68 31.11,237.36C32.27,236.04 33.89,233.54 35.28,231.11C36.67,228.68 38.06,225.56 39.44,222.78C40.83,220.00 42.34,217.11 43.61,214.44C44.88,211.78 46.04,209.00 47.08,206.81C48.12,204.61 49.00,202.52 49.86,201.25C50.72,199.98 51.46,199.05 52.22,199.17C52.99,199.28 53.75,200.32 54.44,201.94C55.14,203.56 55.69,206.34 56.39,208.89C57.08,211.44 57.92,214.44 58.61,217.22C59.31,220.00 59.81,223.01 60.56,225.56C61.30,228.10 61.94,230.65 63.06,232.50C64.17,234.35 65.60,235.63 67.22,236.67C68.84,237.71 70.93,238.36 72.78,238.75C74.63,239.14 76.91,238.85 78.33,239.03C79.76,239.20 80.83,239.67 81.33,239.80L90.33,239.80" fill="none" stroke="rgba(172,182,208,0.9)" stroke-width="1.00" stroke-linejoin="round"/>
<path d="M23.25,239.80C23.75,239.67 25.52,239.32 26.25,239.03C26.98,238.74 27.18,238.91 27.64,238.06C28.10,237.20 28.45,235.74 29.03,233.89C29.61,232.04 30.42,228.98 31.11,226.94C31.81,224.91 32.50,223.06 33.19,221.67C33.89,220.28 34.47,220.05 35.28,218.61C36.09,217.18 37.13,215.09 38.06,213.06C38.98,211.02 39.86,208.01 40.83,206.39C41.81,204.77 42.85,203.38 43.89,203.33C44.93,203.29 46.09,204.49 47.08,206.11C48.08,207.73 48.94,210.28 49.86,213.06C50.79,215.83 51.83,220.00 52.64,222.78C53.45,225.56 53.91,227.64 54.72,229.72C55.53,231.81 56.34,233.89 57.50,235.28C58.66,236.67 60.05,237.43 61.67,238.06C63.29,238.68 65.80,238.74 67.22,239.03C68.65,239.32 69.72,239.67 70.22,239.80Z" fill="rgba(219,112,147,0.25)" stroke="none"/>
<path d="M23.25,239.80L23.25,239.80C23.75,239.67 25.52,239.32 26.25,239.03C26.98,238.74 27.18,238.91 27.64,238.06C28.10,237.20 28.45,235.74 29.03,233.89C29.61,232.04 30.42,228.98 31.11,226.94C31.81,224.91 32.50,223.06 33.19,221.67C33.89,220.28 34.47,220.05 35.28,218.61C36.09,217.18 37.13,215.09 38.06,213.06C38.98,211.02 39.86,208.01 40.83,206.39C41.81,204.77 42.85,203.38 43.89,203.33C44.93,203.29 46.09,204.49 47.08,206.11C48.08,207.73 48.94,210.28 49.86,213.06C50.79,215.83 51.83,220.00 52.64,222.78C53.45,225.56 53.91,227.64 54.72,229.72C55.53,231.81 56.34,233.89 57.50,235.28C58.66,236.67 60.05,237.43 61.67,238.06C63.29,238.68 65.80,238.74 67.22,239.03C68.65,239.32 69.72,239.67 70.22,239.80L79.22,239.80" fill="none" stroke="rgb(219,112,147)" stroke-width="1.05" stroke-linejoin="round"/>
<path d="M21.17,239.80C21.67,239.67 23.44,239.16 24.17,239.03C24.90,238.90 24.86,239.31 25.56,239.03C26.25,238.75 27.18,238.68 28.33,237.36C29.49,236.04 31.11,233.54 32.50,231.11C33.89,228.68 35.28,225.56 36.67,222.78C38.06,220.00 39.44,216.99 40.83,214.44C42.22,211.90 43.73,208.94 45.00,207.50C46.27,206.06 47.31,205.60 48.47,205.83C49.63,206.06 50.90,207.22 51.94,208.89C52.99,210.56 53.80,213.29 54.72,215.83C55.65,218.38 56.57,221.85 57.50,224.17C58.43,226.48 59.24,227.99 60.28,229.72C61.32,231.46 62.36,233.31 63.75,234.58C65.14,235.86 66.64,236.67 68.61,237.36C70.58,238.06 73.47,238.47 75.56,238.75C77.64,239.03 79.69,238.85 81.11,239.03C82.54,239.20 83.61,239.67 84.11,239.80Z" fill="rgba(65,105,225,0.25)" stroke="none"/>
<path d="M21.17,239.80L21.17,239.80C21.67,239.67 23.44,239.16 24.17,239.03C24.90,238.90 24.86,239.31 25.56,239.03C26.25,238.75 27.18,238.68 28.33,237.36C29.49,236.04 31.11,233.54 32.50,231.11C33.89,228.68 35.28,225.56 36.67,222.78C38.06,220.00 39.44,216.99 40.83,214.44C42.22,211.90 43.73,208.94 45.00,207.50C46.27,206.06 47.31,205.60 48.47,205.83C49.63,206.06 50.90,207.22 51.94,208.89C52.99,210.56 53.80,213.29 54.72,215.83C55.65,218.38 56.57,221.85 57.50,224.17C58.43,226.48 59.24,227.99 60.28,229.72C61.32,231.46 62.36,233.31 63.75,234.58C65.14,235.86 66.64,236.67 68.61,237.36C70.58,238.06 73.47,238.47 75.56,238.75C77.64,239.03 79.69,238.85 81.11,239.03C82.54,239.20 83.61,239.67 84.11,239.80L93.11,239.80" fill="none" stroke="rgb(65,105,225)" stroke-width="1.05" stroke-linejoin="round"/>
</g>
<rect x="19.60" y="129.10" width="95.30" height="110.70" fill="none" stroke="#4a4a4a" stroke-width="1.0"/>
<line x1="16.40" y1="239.80" x2="19.60" y2="239.80" stroke="#4a4a4a" stroke-width="1.0"/>
<line x1="16.40" y1="218.81" x2="19.60" y2="218.81" stroke="#4a4a4a" stroke-width="1.0"/>
<line x1="16.40" y1="197.82" x2="19.60" y2="197.82" stroke="#4a4a4a" stroke-width="1.0"/>
<line x1="16.40" y1="176.83" x2="19.60" y2="176.83" stroke="#4a4a4a" stroke-width="1.0"/>
<line x1="16.40" y1="155.84" x2="19.60" y2="155.84" stroke="#4a4a4a" stroke-width="1.0"/>
<line x1="16.40" y1="134.85" x2="19.60" y2="134.85" stroke="#4a4a4a" stroke-width="1.0"/>
<line x1="23.50" y1="239.80" x2="23.50" y2="243.00" stroke="#4a4a4a" stroke-width="1.0"/>
<line x1="58.35" y1="239.80" x2="58.35" y2="243.00" stroke="#4a4a4a" stroke-width="1.0"/>
<line x1="93.20" y1="239.80" x2="93.20" y2="243.00" stroke="#4a4a4a" stroke-width="1.0"/>
<text x="67.25" y="141.00" font-size="8.6" style="stroke-width:0.1px" text-anchor="middle" textLength="63.22" lengthAdjust="spacingAndGlyphs">#8: T7*, D=3.1</text>
<clipPath id="cp8"><rect x="127.88" y="129.10" width="95.30" height="110.70"/></clipPath>
<g clip-path="url(#cp8)">
<path d="M134.12,239.80C134.62,239.80 136.23,240.24 137.12,239.78C138.02,239.33 138.57,238.78 139.50,237.09C140.42,235.40 141.61,232.48 142.66,229.65C143.72,226.83 144.77,223.32 145.83,220.16C146.89,216.99 147.94,213.69 149.00,210.66C150.05,207.62 151.16,204.59 152.16,201.95C153.17,199.31 154.22,197.07 155.01,194.83C155.80,192.58 156.38,190.34 156.91,188.49C157.44,186.65 157.76,184.14 158.18,183.75C158.60,183.35 159.02,184.54 159.44,186.12C159.87,187.70 160.29,190.21 160.71,193.24C161.13,196.28 161.56,200.37 161.98,204.32C162.40,208.28 162.77,213.03 163.24,216.99C163.72,220.95 164.25,225.04 164.83,228.07C165.41,231.10 165.93,233.43 166.73,235.19C167.52,236.96 168.57,237.91 169.58,238.68C170.58,239.44 171.71,239.60 172.74,239.78C173.77,239.97 175.24,239.80 175.74,239.80Z" fill="rgba(255,192,203,0.25)" stroke="none"/>
<path d="M134.12,239.80L134.12,239.80C134.62,239.80 136.23,240.24 137.12,239.78C138.02,239.33 138.57,238.78 139.50,237.09C140.42,235.40 141.61,232.48 142.66,229.65C143.72,226.83 144.77,223.32 145.83,220.16C146.89,216.99 147.94,213.69 149.00,210.66C150.05,207.62 151.16,204.59 152.16,201.95C153.17,199.31 154.22,197.07 155.01,194.83C155.80,192.58 156.38,190.34 156.91,188.49C157.44,186.65 157.76,184.14 158.18,183.75C158.60,183.35 159.02,184.54 159.44,186.12C159.87,187.70 160.29,190.21 160.71,193.24C161.13,196.28 161.56,200.37 161.98,204.32C162.40,208.28 162.77,213.03 163.24,216.99C163.72,220.95 164.25,225.04 164.83,228.07C165.41,231.10 165.93,233.43 166.73,235.19C167.52,236.96 168.57,237.91 169.58,238.68C170.58,239.44 171.71,239.60 172.74,239.78C173.77,239.97 175.24,239.80 175.74,239.80L184.74,239.80" fill="none" stroke="rgba(250,185,200,0.85)" stroke-width="1.00" stroke-linejoin="round"/>
<path d="M134.92,239.80C135.42,239.80 137.02,240.16 137.92,239.78C138.81,239.41 139.37,238.86 140.29,237.57C141.21,236.28 142.40,234.14 143.46,232.03C144.51,229.92 145.57,227.67 146.62,224.90C147.68,222.13 148.73,218.57 149.79,215.41C150.84,212.24 152.03,208.81 152.95,205.91C153.88,203.01 154.67,200.63 155.33,197.99C155.99,195.35 156.49,192.72 156.91,190.08C157.33,187.44 157.60,184.54 157.86,182.16C158.13,179.79 158.26,177.47 158.49,175.83C158.73,174.19 159.02,172.35 159.29,172.35C159.55,172.35 159.81,174.19 160.08,175.83C160.34,177.47 160.61,179.52 160.87,182.16C161.13,184.80 161.37,187.97 161.66,191.66C161.95,195.35 162.24,200.10 162.61,204.32C162.98,208.55 163.45,213.30 163.88,216.99C164.30,220.68 164.64,223.72 165.14,226.49C165.64,229.26 166.20,231.76 166.88,233.61C167.57,235.46 168.28,236.54 169.26,237.57C170.24,238.60 171.66,239.41 172.74,239.78C173.82,240.16 175.24,239.80 175.74,239.80Z" fill="rgba(176,196,222,0.25)" stroke="none"/>
<path d="M134.92,239.80L134.92,239.80C135.42,239.80 137.02,240.16 137.92,239.78C138.81,239.41 139.37,238.86 140.29,237.57C141.21,236.28 142.40,234.14 143.46,232.03C144.51,229.92 145.57,227.67 146.62,224.90C147.68,222.13 148.73,218.57 149.79,215.41C150.84,212.24 152.03,208.81 152.95,205.91C153.88,203.01 154.67,200.63 155.33,197.99C155.99,195.35 156.49,192.72 156.91,190.08C157.33,187.44 157.60,184.54 157.86,182.16C158.13,179.79 158.26,177.47 158.49,175.83C158.73,174.19 159.02,172.35 159.29,172.35C159.55,172.35 159.81,174.19 160.08,175.83C160.34,177.47 160.61,179.52 160.87,182.16C161.13,184.80 161.37,187.97 161.66,191.66C161.95,195.35 162.24,200.10 162.61,204.32C162.98,208.55 163.45,213.30 163.88,216.99C164.30,220.68 164.64,223.72 165.14,226.49C165.64,229.26 166.20,231.76 166.88,233.61C167.57,235.46 168.28,236.54 169.26,237.57C170.24,238.60 171.66,239.41 172.74,239.78C173.82,240.16 175.24,239.80 175.74,239.80L184.74,239.80" fill="none" stroke="rgba(172,182,208,0.9)" stroke-width="1.00" stroke-linejoin="round"/>
<path d="M133.33,239.80C133.83,239.80 135.44,240.42 136.33,239.78C137.23,239.15 137.92,237.94 138.71,235.99C139.50,234.03 140.16,230.97 141.08,228.07C142.00,225.17 143.19,221.74 144.25,218.57C145.30,215.41 146.36,211.98 147.41,209.07C148.47,206.17 149.52,203.27 150.58,201.16C151.63,199.05 152.69,196.41 153.75,196.41C154.80,196.41 155.99,199.05 156.91,201.16C157.83,203.27 158.49,205.91 159.29,209.07C160.08,212.24 160.87,216.73 161.66,220.16C162.45,223.59 163.24,227.01 164.04,229.65C164.83,232.29 165.49,234.48 166.41,235.99C167.33,237.49 168.52,238.04 169.58,238.68C170.63,239.31 171.71,239.60 172.74,239.78C173.77,239.97 175.24,239.80 175.74,239.80Z" fill="rgba(219,112,147,0.25)" stroke="none"/>
<path d="M133.33,239.80L133.33,239.80C133.83,239.80 135.44,240.42 136.33,239.78C137.23,239.15 137.92,237.94 138.71,235.99C139.50,234.03 140.16,230.97 141.08,228.07C142.00,225.17 143.19,221.74 144.25,218.57C145.30,215.41 146.36,211.98 147.41,209.07C148.47,206.17 149.52,203.27 150.58,201.16C151.63,199.05 152.69,196.41 153.75,196.41C154.80,196.41 155.99,199.05 156.91,201.16C157.83,203.27 158.49,205.91 159.29,209.07C160.08,212.24 160.87,216.73 161.66,220.16C162.45,223.59 163.24,227.01 164.04,229.65C164.83,232.29 165.49,234.48 166.41,235.99C167.33,237.49 168.52,238.04 169.58,238.68C170.63,239.31 171.71,239.60 172.74,239.78C173.77,239.97 175.24,239.80 175.74,239.80L184.74,239.80" fill="none" stroke="rgb(219,112,147)" stroke-width="1.05" stroke-linejoin="round"/>
<path d="M132.54,239.80C133.04,239.80 134.78,239.95 135.54,239.78C136.30,239.62 136.46,239.86 137.12,238.83C137.78,237.81 138.57,235.93 139.50,233.61C140.42,231.29 141.61,228.20 142.66,224.90C143.72,221.61 144.77,217.25 145.83,213.82C146.89,210.39 147.94,207.23 149.00,204.32C150.05,201.42 151.11,198.39 152.16,196.41C153.22,194.43 154.27,192.19 155.33,192.45C156.38,192.72 157.57,195.49 158.49,197.99C159.42,200.50 160.08,204.06 160.87,207.49C161.66,210.92 162.45,215.14 163.24,218.57C164.04,222.00 164.83,225.43 165.62,228.07C166.41,230.71 167.07,232.74 167.99,234.40C168.92,236.06 169.84,237.15 171.16,238.04C172.48,238.94 174.62,239.49 175.91,239.78C177.20,240.08 178.41,239.80 178.91,239.80Z" fill="rgba(65,105,225,0.25)" stroke="none"/>
<path d="M132.54,239.80L132.54,239.80C133.04,239.80 134.78,239.95 135.54,239.78C136.30,239.62 136.46,239.86 137.12,238.83C137.78,237.81 138.57,235.93 139.50,233.61C140.42,231.29 141.61,228.20 142.66,224.90C143.72,221.61 144.77,217.25 145.83,213.82C146.89,210.39 147.94,207.23 149.00,204.32C150.05,201.42 151.11,198.39 152.16,196.41C153.22,194.43 154.27,192.19 155.33,192.45C156.38,192.72 157.57,195.49 158.49,197.99C159.42,200.50 160.08,204.06 160.87,207.49C161.66,210.92 162.45,215.14 163.24,218.57C164.04,222.00 164.83,225.43 165.62,228.07C166.41,230.71 167.07,232.74 167.99,234.40C168.92,236.06 169.84,237.15 171.16,238.04C172.48,238.94 174.62,239.49 175.91,239.78C177.20,240.08 178.41,239.80 178.91,239.80L187.91,239.80" fill="none" stroke="rgb(65,105,225)" stroke-width="1.05" stroke-linejoin="round"/>
</g>
<rect x="127.88" y="129.10" width="95.30" height="110.70" fill="none" stroke="#4a4a4a" stroke-width="1.0"/>
<line x1="124.68" y1="239.80" x2="127.88" y2="239.80" stroke="#4a4a4a" stroke-width="1.0"/>
<line x1="124.68" y1="218.81" x2="127.88" y2="218.81" stroke="#4a4a4a" stroke-width="1.0"/>
<line x1="124.68" y1="197.82" x2="127.88" y2="197.82" stroke="#4a4a4a" stroke-width="1.0"/>
<line x1="124.68" y1="176.83" x2="127.88" y2="176.83" stroke="#4a4a4a" stroke-width="1.0"/>
<line x1="124.68" y1="155.84" x2="127.88" y2="155.84" stroke="#4a4a4a" stroke-width="1.0"/>
<line x1="124.68" y1="134.85" x2="127.88" y2="134.85" stroke="#4a4a4a" stroke-width="1.0"/>
<line x1="131.78" y1="239.80" x2="131.78" y2="243.00" stroke="#4a4a4a" stroke-width="1.0"/>
<line x1="166.63" y1="239.80" x2="166.63" y2="243.00" stroke="#4a4a4a" stroke-width="1.0"/>
<line x1="201.48" y1="239.80" x2="201.48" y2="243.00" stroke="#4a4a4a" stroke-width="1.0"/>
<text x="175.53" y="141.00" font-size="8.6" style="stroke-width:0.1px" text-anchor="middle" textLength="59.12" lengthAdjust="spacingAndGlyphs">#9: T8, D=1.7</text>
<clipPath id="cp9"><rect x="236.16" y="129.10" width="95.30" height="110.70"/></clipPath>
<g clip-path="url(#cp9)">
<path d="M242.92,239.80C243.42,239.80 245.02,240.08 245.92,239.78C246.81,239.49 247.37,239.20 248.29,238.04C249.21,236.88 250.40,235.01 251.46,232.82C252.51,230.63 253.57,227.81 254.62,224.90C255.68,222.00 256.81,218.57 257.79,215.41C258.76,212.24 259.69,208.55 260.48,205.91C261.27,203.27 262.01,201.95 262.54,199.58C263.06,197.20 263.30,194.56 263.65,191.66C263.99,188.76 264.28,184.67 264.59,182.16C264.91,179.66 265.23,177.41 265.54,176.62C265.86,175.83 266.18,176.23 266.49,177.41C266.81,178.60 267.13,180.84 267.44,183.75C267.76,186.65 268.05,190.61 268.39,194.83C268.74,199.05 269.08,204.59 269.50,209.07C269.92,213.56 270.37,217.91 270.93,221.74C271.48,225.56 271.98,229.39 272.83,232.03C273.67,234.67 274.88,236.28 275.99,237.57C277.10,238.86 278.39,239.41 279.48,239.78C280.56,240.16 281.98,239.80 282.48,239.80Z" fill="rgba(255,192,203,0.25)" stroke="none"/>
<path d="M242.92,239.80L242.92,239.80C243.42,239.80 245.02,240.08 245.92,239.78C246.81,239.49 247.37,239.20 248.29,238.04C249.21,236.88 250.40,235.01 251.46,232.82C252.51,230.63 253.57,227.81 254.62,224.90C255.68,222.00 256.81,218.57 257.79,215.41C258.76,212.24 259.69,208.55 260.48,205.91C261.27,203.27 262.01,201.95 262.54,199.58C263.06,197.20 263.30,194.56 263.65,191.66C263.99,188.76 264.28,184.67 264.59,182.16C264.91,179.66 265.23,177.41 265.54,176.62C265.86,175.83 266.18,176.23 266.49,177.41C266.81,178.60 267.13,180.84 267.44,183.75C267.76,186.65 268.05,190.61 268.39,194.83C268.74,199.05 269.08,204.59 269.50,209.07C269.92,213.56 270.37,217.91 270.93,221.74C271.48,225.56 271.98,229.39 272.83,232.03C273.67,234.67 274.88,236.28 275.99,237.57C277.10,238.86 278.39,239.41 279.48,239.78C280.56,240.16 281.98,239.80 282.48,239.80L291.48,239.80" fill="none" stroke="rgba(250,185,200,0.85)" stroke-width="1.00" stroke-linejoin="round"/>
<path d="M242.92,239.80C243.42,239.80 245.02,240.02 245.92,239.78C246.81,239.54 247.37,239.39 248.29,238.36C249.21,237.33 250.40,235.59 251.46,233.61C252.51,231.63 253.57,229.26 254.62,226.49C255.68,223.72 256.81,220.16 257.79,216.99C258.76,213.82 259.69,209.87 260.48,207.49C261.27,205.12 262.06,204.85 262.54,202.74C263.01,200.63 263.04,197.99 263.33,194.83C263.62,191.66 263.96,187.44 264.28,183.75C264.59,180.05 264.91,175.51 265.23,172.66C265.54,169.81 265.83,166.65 266.18,166.65C266.52,166.65 266.97,169.81 267.29,172.66C267.60,175.51 267.79,179.79 268.08,183.75C268.37,187.70 268.68,191.92 269.03,196.41C269.37,200.89 269.71,206.17 270.14,210.66C270.56,215.14 270.98,219.63 271.56,223.32C272.14,227.01 272.75,230.39 273.62,232.82C274.49,235.25 275.73,236.72 276.78,237.89C277.84,239.05 278.92,239.47 279.95,239.78C280.98,240.10 282.45,239.80 282.95,239.80Z" fill="rgba(176,196,222,0.25)" stroke="none"/>
<path d="M242.92,239.80L242.92,239.80C243.42,239.80 245.02,240.02 245.92,239.78C246.81,239.54 247.37,239.39 248.29,238.36C249.21,237.33 250.40,235.59 251.46,233.61C252.51,231.63 253.57,229.26 254.62,226.49C255.68,223.72 256.81,220.16 257.79,216.99C258.76,213.82 259.69,209.87 260.48,207.49C261.27,205.12 262.06,204.85 262.54,202.74C263.01,200.63 263.04,197.99 263.33,194.83C263.62,191.66 263.96,187.44 264.28,183.75C264.59,180.05 264.91,175.51 265.23,172.66C265.54,169.81 265.83,166.65 266.18,166.65C266.52,166.65 266.97,169.81 267.29,172.66C267.60,175.51 267.79,179.79 268.08,183.75C268.37,187.70 268.68,191.92 269.03,196.41C269.37,200.89 269.71,206.17 270.14,210.66C270.56,215.14 270.98,219.63 271.56,223.32C272.14,227.01 272.75,230.39 273.62,232.82C274.49,235.25 275.73,236.72 276.78,237.89C277.84,239.05 278.92,239.47 279.95,239.78C280.98,240.10 282.45,239.80 282.95,239.80L291.95,239.80" fill="none" stroke="rgba(172,182,208,0.9)" stroke-width="1.00" stroke-linejoin="round"/>
<path d="M242.12,239.80C242.62,239.80 244.23,240.16 245.12,239.78C246.02,239.41 246.71,238.99 247.50,237.57C248.29,236.14 249.13,233.61 249.87,231.24C250.61,228.86 251.32,226.22 251.93,223.32C252.54,220.42 252.99,216.99 253.51,213.82C254.04,210.66 254.57,207.23 255.10,204.32C255.62,201.42 256.10,198.39 256.68,196.41C257.26,194.43 257.74,192.85 258.58,192.45C259.42,192.06 260.82,193.24 261.75,194.04C262.67,194.83 263.46,195.75 264.12,197.20C264.78,198.65 265.18,200.24 265.70,202.74C266.23,205.25 266.76,209.07 267.29,212.24C267.81,215.41 268.34,218.84 268.87,221.74C269.40,224.64 269.79,227.41 270.45,229.65C271.11,231.90 271.90,233.74 272.83,235.19C273.75,236.65 274.94,237.59 275.99,238.36C277.05,239.13 278.13,239.54 279.16,239.78C280.19,240.02 281.66,239.80 282.16,239.80Z" fill="rgba(219,112,147,0.25)" stroke="none"/>
<path d="M242.12,239.80L242.12,239.80C242.62,239.80 244.23,240.16 245.12,239.78C246.02,239.41 246.71,238.99 247.50,237.57C248.29,236.14 249.13,233.61 249.87,231.24C250.61,228.86 251.32,226.22 251.93,223.32C252.54,220.42 252.99,216.99 253.51,213.82C254.04,210.66 254.57,207.23 255.10,204.32C255.62,201.42 256.10,198.39 256.68,196.41C257.26,194.43 257.74,192.85 258.58,192.45C259.42,192.06 260.82,193.24 261.75,194.04C262.67,194.83 263.46,195.75 264.12,197.20C264.78,198.65 265.18,200.24 265.70,202.74C266.23,205.25 266.76,209.07 267.29,212.24C267.81,215.41 268.34,218.84 268.87,221.74C269.40,224.64 269.79,227.41 270.45,229.65C271.11,231.90 271.90,233.74 272.83,235.19C273.75,236.65 274.94,237.59 275.99,238.36C277.05,239.13 278.13,239.54 279.16,239.78C280.19,240.02 281.66,239.80 282.16,239.80L291.16,239.80" fill="none" stroke="rgb(219,112,147)" stroke-width="1.05" stroke-linejoin="round"/>
<path d="M241.33,239.80C241.83,239.80 243.44,239.97 244.33,239.78C245.23,239.60 245.86,239.71 246.71,238.68C247.55,237.65 248.61,235.64 249.40,233.61C250.19,231.58 250.85,228.99 251.46,226.49C252.06,223.98 252.51,221.21 253.04,218.57C253.57,215.93 254.09,213.30 254.62,210.66C255.15,208.02 255.68,205.12 256.20,202.74C256.73,200.37 257.13,198.12 257.79,196.41C258.45,194.69 259.24,192.85 260.16,192.45C261.09,192.06 262.48,193.11 263.33,194.04C264.17,194.96 264.70,196.54 265.23,197.99C265.76,199.44 266.02,200.63 266.49,202.74C266.97,204.85 267.55,208.02 268.08,210.66C268.61,213.30 269.08,215.93 269.66,218.57C270.24,221.21 270.90,224.11 271.56,226.49C272.22,228.86 272.88,231.10 273.62,232.82C274.36,234.53 275.07,235.77 275.99,236.78C276.92,237.78 278.10,238.33 279.16,238.83C280.21,239.34 281.30,239.62 282.32,239.78C283.35,239.95 284.82,239.80 285.32,239.80Z" fill="rgba(65,105,225,0.25)" stroke="none"/>
<path d="M241.33,239.80L241.33,239.80C241.83,239.80 243.44,239.97 244.33,239.78C245.23,239.60 245.86,239.71 246.71,238.68C247.55,237.65 248.61,235.64 249.40,233.61C250.19,231.58 250.85,228.99 251.46,226.49C252.06,223.98 252.51,221.21 253.04,218.57C253.57,215.93 254.09,213.30 254.62,210.66C255.15,208.02 255.68,205.12 256.20,202.74C256.73,200.37 257.13,198.12 257.79,196.41C258.45,194.69 259.24,192.85 260.16,192.45C261.09,192.06 262.48,193.11 263.33,194.04C264.17,194.96 264.70,196.54 265.23,197.99C265.76,199.44 266.02,200.63 266.49,202.74C266.97,204.85 267.55,208.02 268.08,210.66C268.61,213.30 269.08,215.93 269.66,218.57C270.24,221.21 270.90,224.11 271.56,226.49C272.22,228.86 272.88,231.10 273.62,232.82C274.36,234.53 275.07,235.77 275.99,236.78C276.92,237.78 278.10,238.33 279.16,238.83C280.21,239.34 281.30,239.62 282.32,239.78C283.35,239.95 284.82,239.80 285.32,239.80L294.32,239.80" fill="none" stroke="rgb(65,105,225)" stroke-width="1.05" stroke-linejoin="round"/>
</g>
<rect x="236.16" y="129.10" width="95.30" height="110.70" fill="none" stroke="#4a4a4a" stroke-width="1.0"/>
<line x1="232.96" y1="239.80" x2="236.16" y2="239.80" stroke="#4a4a4a" stroke-width="1.0"/>
<line x1="232.96" y1="218.81" x2="236.16" y2="218.81" stroke="#4a4a4a" stroke-width="1.0"/>
<line x1="232.96" y1="197.82" x2="236.16" y2="197.82" stroke="#4a4a4a" stroke-width="1.0"/>
<line x1="232.96" y1="176.83" x2="236.16" y2="176.83" stroke="#4a4a4a" stroke-width="1.0"/>
<line x1="232.96" y1="155.84" x2="236.16" y2="155.84" stroke="#4a4a4a" stroke-width="1.0"/>
<line x1="232.96" y1="134.85" x2="236.16" y2="134.85" stroke="#4a4a4a" stroke-width="1.0"/>
<line x1="240.06" y1="239.80" x2="240.06" y2="243.00" stroke="#4a4a4a" stroke-width="1.0"/>
<line x1="274.91" y1="239.80" x2="274.91" y2="243.00" stroke="#4a4a4a" stroke-width="1.0"/>
<line x1="309.76" y1="239.80" x2="309.76" y2="243.00" stroke="#4a4a4a" stroke-width="1.0"/>
<text x="283.81" y="141.00" font-size="8.6" style="stroke-width:0.1px" text-anchor="middle" textLength="68.37" lengthAdjust="spacingAndGlyphs">#10: P4*, D=2.3</text>
<clipPath id="cp10"><rect x="344.44" y="129.10" width="95.30" height="110.70"/></clipPath>
<g clip-path="url(#cp10)">
<path d="M349.47,239.80C349.97,239.80 351.64,239.91 352.47,239.80C353.29,239.69 353.65,239.66 354.41,239.17C355.16,238.67 356.24,237.94 357.00,236.84C357.75,235.74 358.29,234.57 358.94,232.57C359.58,230.56 360.23,227.72 360.88,224.81C361.52,221.90 362.17,218.45 362.82,215.10C363.46,211.76 364.11,207.99 364.76,204.75C365.40,201.52 366.05,198.11 366.70,195.70C367.35,193.28 368.10,191.45 368.64,190.27C369.18,189.08 369.39,188.43 369.93,188.58C370.47,188.73 371.12,189.34 371.87,191.17C372.63,193.00 373.60,196.45 374.46,199.58C375.32,202.71 376.19,206.59 377.05,209.93C377.91,213.27 378.73,216.61 379.64,219.63C380.54,222.65 381.40,225.56 382.48,228.04C383.56,230.52 384.75,232.78 386.10,234.51C387.46,236.23 389.12,237.51 390.63,238.39C392.14,239.27 393.90,239.56 395.16,239.80C396.41,240.04 397.66,239.80 398.16,239.80Z" fill="rgba(255,192,203,0.25)" stroke="none"/>
<path d="M349.47,239.80L349.47,239.80C349.97,239.80 351.64,239.91 352.47,239.80C353.29,239.69 353.65,239.66 354.41,239.17C355.16,238.67 356.24,237.94 357.00,236.84C357.75,235.74 358.29,234.57 358.94,232.57C359.58,230.56 360.23,227.72 360.88,224.81C361.52,221.90 362.17,218.45 362.82,215.10C363.46,211.76 364.11,207.99 364.76,204.75C365.40,201.52 366.05,198.11 366.70,195.70C367.35,193.28 368.10,191.45 368.64,190.27C369.18,189.08 369.39,188.43 369.93,188.58C370.47,188.73 371.12,189.34 371.87,191.17C372.63,193.00 373.60,196.45 374.46,199.58C375.32,202.71 376.19,206.59 377.05,209.93C377.91,213.27 378.73,216.61 379.64,219.63C380.54,222.65 381.40,225.56 382.48,228.04C383.56,230.52 384.75,232.78 386.10,234.51C387.46,236.23 389.12,237.51 390.63,238.39C392.14,239.27 393.90,239.56 395.16,239.80C396.41,240.04 397.66,239.80 398.16,239.80L407.16,239.80" fill="none" stroke="rgba(250,185,200,0.85)" stroke-width="1.00" stroke-linejoin="round"/>
<path d="M349.47,239.80C349.97,239.80 351.64,239.88 352.47,239.80C353.29,239.72 353.65,239.75 354.41,239.29C355.16,238.84 356.24,238.15 357.00,237.10C357.75,236.04 358.29,234.90 358.94,232.96C359.58,231.02 360.23,228.26 360.88,225.45C361.52,222.65 362.17,219.37 362.82,216.14C363.46,212.90 364.11,209.24 364.76,206.05C365.40,202.86 366.05,199.47 366.70,196.99C367.35,194.51 368.06,192.42 368.64,191.17C369.22,189.92 369.54,189.17 370.19,189.49C370.84,189.81 371.70,191.00 372.52,193.11C373.34,195.22 374.24,198.93 375.11,202.17C375.97,205.40 376.83,209.28 377.69,212.52C378.56,215.75 379.31,218.77 380.28,221.57C381.25,224.37 382.33,227.07 383.52,229.33C384.70,231.60 386.00,233.65 387.40,235.16C388.80,236.66 390.42,237.62 391.92,238.39C393.43,239.16 395.20,239.56 396.45,239.80C397.71,240.04 398.95,239.80 399.45,239.80Z" fill="rgba(176,196,222,0.25)" stroke="none"/>
<path d="M349.47,239.80L349.47,239.80C349.97,239.80 351.64,239.88 352.47,239.80C353.29,239.72 353.65,239.75 354.41,239.29C355.16,238.84 356.24,238.15 357.00,237.10C357.75,236.04 358.29,234.90 358.94,232.96C359.58,231.02 360.23,228.26 360.88,225.45C361.52,222.65 362.17,219.37 362.82,216.14C363.46,212.90 364.11,209.24 364.76,206.05C365.40,202.86 366.05,199.47 366.70,196.99C367.35,194.51 368.06,192.42 368.64,191.17C369.22,189.92 369.54,189.17 370.19,189.49C370.84,189.81 371.70,191.00 372.52,193.11C373.34,195.22 374.24,198.93 375.11,202.17C375.97,205.40 376.83,209.28 377.69,212.52C378.56,215.75 379.31,218.77 380.28,221.57C381.25,224.37 382.33,227.07 383.52,229.33C384.70,231.60 386.00,233.65 387.40,235.16C388.80,236.66 390.42,237.62 391.92,238.39C393.43,239.16 395.20,239.56 396.45,239.80C397.71,240.04 398.95,239.80 399.45,239.80L408.45,239.80" fill="none" stroke="rgba(172,182,208,0.9)" stroke-width="1.00" stroke-linejoin="round"/>
<path d="M348.82,239.80C349.32,239.80 351.00,239.91 351.82,239.80C352.64,239.69 353.01,239.62 353.76,239.17C354.52,238.71 355.59,238.20 356.35,237.10C357.10,236.00 357.64,234.72 358.29,232.57C358.94,230.41 359.58,227.29 360.23,224.16C360.88,221.03 361.52,217.26 362.17,213.81C362.82,210.36 363.46,206.48 364.11,203.46C364.76,200.44 365.40,197.53 366.05,195.70C366.70,193.87 367.24,192.36 367.99,192.46C368.75,192.57 369.72,194.30 370.58,196.35C371.44,198.39 372.30,201.63 373.17,204.75C374.03,207.88 374.89,211.87 375.75,215.10C376.62,218.34 377.48,221.57 378.34,224.16C379.20,226.75 379.96,228.69 380.93,230.63C381.90,232.57 382.98,234.51 384.16,235.80C385.35,237.10 386.64,237.72 388.04,238.39C389.45,239.06 391.32,239.56 392.57,239.80C393.83,240.04 395.07,239.80 395.57,239.80Z" fill="rgba(219,112,147,0.25)" stroke="none"/>
<path d="M348.82,239.80L348.82,239.80C349.32,239.80 351.00,239.91 351.82,239.80C352.64,239.69 353.01,239.62 353.76,239.17C354.52,238.71 355.59,238.20 356.35,237.10C357.10,236.00 357.64,234.72 358.29,232.57C358.94,230.41 359.58,227.29 360.23,224.16C360.88,221.03 361.52,217.26 362.17,213.81C362.82,210.36 363.46,206.48 364.11,203.46C364.76,200.44 365.40,197.53 366.05,195.70C366.70,193.87 367.24,192.36 367.99,192.46C368.75,192.57 369.72,194.30 370.58,196.35C371.44,198.39 372.30,201.63 373.17,204.75C374.03,207.88 374.89,211.87 375.75,215.10C376.62,218.34 377.48,221.57 378.34,224.16C379.20,226.75 379.96,228.69 380.93,230.63C381.90,232.57 382.98,234.51 384.16,235.80C385.35,237.10 386.64,237.72 388.04,238.39C389.45,239.06 391.32,239.56 392.57,239.80C393.83,240.04 395.07,239.80 395.57,239.80L404.57,239.80" fill="none" stroke="rgb(219,112,147)" stroke-width="1.05" stroke-linejoin="round"/>
<path d="M346.88,239.80C347.38,239.80 349.17,239.84 349.88,239.80C350.60,239.76 350.42,239.75 351.17,239.55C351.93,239.36 353.44,239.27 354.41,238.65C355.38,238.02 356.24,237.14 357.00,235.80C357.75,234.47 358.29,232.78 358.94,230.63C359.58,228.47 360.23,225.67 360.88,222.87C361.52,220.06 362.17,216.83 362.82,213.81C363.46,210.79 364.11,207.56 364.76,204.75C365.40,201.95 366.05,198.72 366.70,196.99C367.35,195.27 367.88,194.19 368.64,194.40C369.39,194.62 370.36,196.35 371.23,198.29C372.09,200.23 372.95,203.24 373.81,206.05C374.68,208.85 375.54,212.30 376.40,215.10C377.26,217.91 378.13,220.49 378.99,222.87C379.85,225.24 380.61,227.39 381.58,229.33C382.55,231.27 383.62,233.11 384.81,234.51C386.00,235.91 387.18,236.97 388.69,237.74C390.20,238.52 391.92,238.82 393.87,239.17C395.81,239.51 398.76,239.69 400.33,239.80C401.91,239.91 402.83,239.80 403.33,239.80Z" fill="rgba(65,105,225,0.25)" stroke="none"/>
<path d="M346.88,239.80L346.88,239.80C347.38,239.80 349.17,239.84 349.88,239.80C350.60,239.76 350.42,239.75 351.17,239.55C351.93,239.36 353.44,239.27 354.41,238.65C355.38,238.02 356.24,237.14 357.00,235.80C357.75,234.47 358.29,232.78 358.94,230.63C359.58,228.47 360.23,225.67 360.88,222.87C361.52,220.06 362.17,216.83 362.82,213.81C363.46,210.79 364.11,207.56 364.76,204.75C365.40,201.95 366.05,198.72 366.70,196.99C367.35,195.27 367.88,194.19 368.64,194.40C369.39,194.62 370.36,196.35 371.23,198.29C372.09,200.23 372.95,203.24 373.81,206.05C374.68,208.85 375.54,212.30 376.40,215.10C377.26,217.91 378.13,220.49 378.99,222.87C379.85,225.24 380.61,227.39 381.58,229.33C382.55,231.27 383.62,233.11 384.81,234.51C386.00,235.91 387.18,236.97 388.69,237.74C390.20,238.52 391.92,238.82 393.87,239.17C395.81,239.51 398.76,239.69 400.33,239.80C401.91,239.91 402.83,239.80 403.33,239.80L412.33,239.80" fill="none" stroke="rgb(65,105,225)" stroke-width="1.05" stroke-linejoin="round"/>
</g>
<rect x="344.44" y="129.10" width="95.30" height="110.70" fill="none" stroke="#4a4a4a" stroke-width="1.0"/>
<line x1="341.24" y1="239.80" x2="344.44" y2="239.80" stroke="#4a4a4a" stroke-width="1.0"/>
<line x1="341.24" y1="218.81" x2="344.44" y2="218.81" stroke="#4a4a4a" stroke-width="1.0"/>
<line x1="341.24" y1="197.82" x2="344.44" y2="197.82" stroke="#4a4a4a" stroke-width="1.0"/>
<line x1="341.24" y1="176.83" x2="344.44" y2="176.83" stroke="#4a4a4a" stroke-width="1.0"/>
<line x1="341.24" y1="155.84" x2="344.44" y2="155.84" stroke="#4a4a4a" stroke-width="1.0"/>
<line x1="341.24" y1="134.85" x2="344.44" y2="134.85" stroke="#4a4a4a" stroke-width="1.0"/>
<line x1="348.34" y1="239.80" x2="348.34" y2="243.00" stroke="#4a4a4a" stroke-width="1.0"/>
<line x1="383.19" y1="239.80" x2="383.19" y2="243.00" stroke="#4a4a4a" stroke-width="1.0"/>
<line x1="418.04" y1="239.80" x2="418.04" y2="243.00" stroke="#4a4a4a" stroke-width="1.0"/>
<text x="392.09" y="141.00" font-size="8.6" style="stroke-width:0.1px" text-anchor="middle" textLength="70.00" lengthAdjust="spacingAndGlyphs">#11: CP4, D=0.9</text>
<clipPath id="cp11"><rect x="452.72" y="129.10" width="95.30" height="110.70"/></clipPath>
<g clip-path="url(#cp11)">
<path d="M457.82,239.80C458.32,239.80 459.89,239.99 460.82,239.80C461.75,239.61 462.55,239.42 463.41,238.65C464.27,237.87 465.24,236.71 466.00,235.16C466.75,233.60 467.29,231.60 467.94,229.33C468.58,227.07 469.23,224.37 469.88,221.57C470.52,218.77 471.17,215.43 471.82,212.52C472.46,209.61 473.11,206.69 473.76,204.11C474.40,201.52 475.05,198.82 475.70,196.99C476.35,195.16 476.99,193.87 477.64,193.11C478.29,192.36 478.93,192.03 479.58,192.46C480.23,192.90 480.77,193.76 481.52,195.70C482.27,197.64 483.24,200.98 484.11,204.11C484.97,207.23 485.83,211.22 486.69,214.46C487.56,217.69 488.31,220.71 489.28,223.51C490.25,226.32 491.33,229.12 492.52,231.27C493.70,233.43 495.00,235.18 496.40,236.45C497.80,237.72 499.42,238.35 500.92,238.91C502.43,239.47 504.20,239.65 505.45,239.80C506.71,239.95 507.95,239.80 508.45,239.80Z" fill="rgba(255,192,203,0.25)" stroke="none"/>
<path d="M457.82,239.80L457.82,239.80C458.32,239.80 459.89,239.99 460.82,239.80C461.75,239.61 462.55,239.42 463.41,238.65C464.27,237.87 465.24,236.71 466.00,235.16C466.75,233.60 467.29,231.60 467.94,229.33C468.58,227.07 469.23,224.37 469.88,221.57C470.52,218.77 471.17,215.43 471.82,212.52C472.46,209.61 473.11,206.69 473.76,204.11C474.40,201.52 475.05,198.82 475.70,196.99C476.35,195.16 476.99,193.87 477.64,193.11C478.29,192.36 478.93,192.03 479.58,192.46C480.23,192.90 480.77,193.76 481.52,195.70C482.27,197.64 483.24,200.98 484.11,204.11C484.97,207.23 485.83,211.22 486.69,214.46C487.56,217.69 488.31,220.71 489.28,223.51C490.25,226.32 491.33,229.12 492.52,231.27C493.70,233.43 495.00,235.18 496.40,236.45C497.80,237.72 499.42,238.35 500.92,238.91C502.43,239.47 504.20,239.65 505.45,239.80C506.71,239.95 507.95,239.80 508.45,239.80L517.45,239.80" fill="none" stroke="rgba(250,185,200,0.85)" stroke-width="1.00" stroke-linejoin="round"/>
<path d="M457.82,239.80C458.32,239.80 459.89,239.97 460.82,239.80C461.75,239.63 462.55,239.49 463.41,238.78C464.27,238.07 465.24,237.01 466.00,235.54C466.75,234.08 467.29,232.20 467.94,229.98C468.58,227.76 469.23,224.96 469.88,222.22C470.52,219.48 471.17,216.35 471.82,213.55C472.46,210.75 473.11,207.95 473.76,205.40C474.40,202.86 474.99,200.16 475.70,198.29C476.41,196.41 477.29,195.01 478.03,194.15C478.76,193.28 479.41,192.64 480.10,193.11C480.79,193.59 481.39,194.84 482.17,196.99C482.94,199.15 483.89,202.81 484.75,206.05C485.62,209.28 486.48,213.16 487.34,216.40C488.20,219.63 488.96,222.76 489.93,225.45C490.90,228.15 491.87,230.63 493.16,232.57C494.46,234.51 496.18,236.00 497.69,237.10C499.20,238.20 500.71,238.71 502.22,239.17C503.73,239.62 505.49,239.69 506.75,239.80C508.00,239.91 509.25,239.80 509.75,239.80Z" fill="rgba(176,196,222,0.25)" stroke="none"/>
<path d="M457.82,239.80L457.82,239.80C458.32,239.80 459.89,239.97 460.82,239.80C461.75,239.63 462.55,239.49 463.41,238.78C464.27,238.07 465.24,237.01 466.00,235.54C466.75,234.08 467.29,232.20 467.94,229.98C468.58,227.76 469.23,224.96 469.88,222.22C470.52,219.48 471.17,216.35 471.82,213.55C472.46,210.75 473.11,207.95 473.76,205.40C474.40,202.86 474.99,200.16 475.70,198.29C476.41,196.41 477.29,195.01 478.03,194.15C478.76,193.28 479.41,192.64 480.10,193.11C480.79,193.59 481.39,194.84 482.17,196.99C482.94,199.15 483.89,202.81 484.75,206.05C485.62,209.28 486.48,213.16 487.34,216.40C488.20,219.63 488.96,222.76 489.93,225.45C490.90,228.15 491.87,230.63 493.16,232.57C494.46,234.51 496.18,236.00 497.69,237.10C499.20,238.20 500.71,238.71 502.22,239.17C503.73,239.62 505.49,239.69 506.75,239.80C508.00,239.91 509.25,239.80 509.75,239.80L518.75,239.80" fill="none" stroke="rgba(172,182,208,0.9)" stroke-width="1.00" stroke-linejoin="round"/>
<path d="M457.17,239.80C457.67,239.80 459.24,240.04 460.17,239.80C461.11,239.56 461.94,239.16 462.76,238.39C463.58,237.62 464.40,236.66 465.09,235.16C465.78,233.65 466.32,231.60 466.90,229.33C467.48,227.07 467.98,224.37 468.58,221.57C469.19,218.77 469.88,215.53 470.52,212.52C471.17,209.50 471.82,206.26 472.46,203.46C473.11,200.66 473.71,197.68 474.40,195.70C475.09,193.71 475.85,191.56 476.60,191.56C477.36,191.56 478.11,193.50 478.93,195.70C479.75,197.90 480.66,201.52 481.52,204.75C482.38,207.99 483.24,211.87 484.11,215.10C484.97,218.34 485.72,221.46 486.69,224.16C487.66,226.85 488.74,229.33 489.93,231.27C491.11,233.21 492.52,234.62 493.81,235.80C495.10,236.99 496.29,237.72 497.69,238.39C499.09,239.06 500.96,239.56 502.22,239.80C503.47,240.04 504.72,239.80 505.22,239.80Z" fill="rgba(219,112,147,0.25)" stroke="none"/>
<path d="M457.17,239.80L457.17,239.80C457.67,239.80 459.24,240.04 460.17,239.80C461.11,239.56 461.94,239.16 462.76,238.39C463.58,237.62 464.40,236.66 465.09,235.16C465.78,233.65 466.32,231.60 466.90,229.33C467.48,227.07 467.98,224.37 468.58,221.57C469.19,218.77 469.88,215.53 470.52,212.52C471.17,209.50 471.82,206.26 472.46,203.46C473.11,200.66 473.71,197.68 474.40,195.70C475.09,193.71 475.85,191.56 476.60,191.56C477.36,191.56 478.11,193.50 478.93,195.70C479.75,197.90 480.66,201.52 481.52,204.75C482.38,207.99 483.24,211.87 484.11,215.10C484.97,218.34 485.72,221.46 486.69,224.16C487.66,226.85 488.74,229.33 489.93,231.27C491.11,233.21 492.52,234.62 493.81,235.80C495.10,236.99 496.29,237.72 497.69,238.39C499.09,239.06 500.96,239.56 502.22,239.80C503.47,240.04 504.72,239.80 505.22,239.80L514.22,239.80" fill="none" stroke="rgb(219,112,147)" stroke-width="1.05" stroke-linejoin="round"/>
<path d="M453.29,239.80C453.79,239.80 455.58,239.86 456.29,239.80C457.01,239.74 456.83,239.66 457.59,239.42C458.34,239.19 459.74,238.99 460.82,238.39C461.90,237.79 463.09,237.10 464.06,235.80C465.03,234.51 465.89,232.78 466.64,230.63C467.40,228.47 467.94,225.67 468.58,222.87C469.23,220.06 469.88,216.83 470.52,213.81C471.17,210.79 471.82,207.45 472.46,204.75C473.11,202.06 473.76,199.36 474.40,197.64C475.05,195.91 475.59,194.30 476.35,194.40C477.10,194.51 478.07,196.35 478.93,198.29C479.80,200.23 480.66,203.24 481.52,206.05C482.38,208.85 483.24,212.30 484.11,215.10C484.97,217.91 485.72,220.49 486.69,222.87C487.66,225.24 488.74,227.39 489.93,229.33C491.11,231.27 492.41,233.11 493.81,234.51C495.21,235.91 496.61,236.97 498.34,237.74C500.06,238.52 502.33,238.82 504.16,239.17C505.99,239.51 507.97,239.69 509.33,239.80C510.70,239.91 511.83,239.80 512.33,239.80Z" fill="rgba(65,105,225,0.25)" stroke="none"/>
<path d="M453.29,239.80L453.29,239.80C453.79,239.80 455.58,239.86 456.29,239.80C457.01,239.74 456.83,239.66 457.59,239.42C458.34,239.19 459.74,238.99 460.82,238.39C461.90,237.79 463.09,237.10 464.06,235.80C465.03,234.51 465.89,232.78 466.64,230.63C467.40,228.47 467.94,225.67 468.58,222.87C469.23,220.06 469.88,216.83 470.52,213.81C471.17,210.79 471.82,207.45 472.46,204.75C473.11,202.06 473.76,199.36 474.40,197.64C475.05,195.91 475.59,194.30 476.35,194.40C477.10,194.51 478.07,196.35 478.93,198.29C479.80,200.23 480.66,203.24 481.52,206.05C482.38,208.85 483.24,212.30 484.11,215.10C484.97,217.91 485.72,220.49 486.69,222.87C487.66,225.24 488.74,227.39 489.93,229.33C491.11,231.27 492.41,233.11 493.81,234.51C495.21,235.91 496.61,236.97 498.34,237.74C500.06,238.52 502.33,238.82 504.16,239.17C505.99,239.51 507.97,239.69 509.33,239.80C510.70,239.91 511.83,239.80 512.33,239.80L521.33,239.80" fill="none" stroke="rgb(65,105,225)" stroke-width="1.05" stroke-linejoin="round"/>
</g>
<rect x="452.72" y="129.10" width="95.30" height="110.70" fill="none" stroke="#4a4a4a" stroke-width="1.0"/>
<line x1="449.52" y1="239.80" x2="452.72" y2="239.80" stroke="#4a4a4a" stroke-width="1.0"/>
<line x1="449.52" y1="218.81" x2="452.72" y2="218.81" stroke="#4a4a4a" stroke-width="1.0"/>
<line x1="449.52" y1="197.82" x2="452.72" y2="197.82" stroke="#4a4a4a" stroke-width="1.0"/>
<line x1="449.52" y1="176.83" x2="452.72" y2="176.83" stroke="#4a4a4a" stroke-width="1.0"/>
<line x1="449.52" y1="155.84" x2="452.72" y2="155.84" stroke="#4a4a4a" stroke-width="1.0"/>
<line x1="449.52" y1="134.85" x2="452.72" y2="134.85" stroke="#4a4a4a" stroke-width="1.0"/>
<line x1="456.62" y1="239.80" x2="456.62" y2="243.00" stroke="#4a4a4a" stroke-width="1.0"/>
<line x1="491.47" y1="239.80" x2="491.47" y2="243.00" stroke="#4a4a4a" stroke-width="1.0"/>
<line x1="526.32" y1="239.80" x2="526.32" y2="243.00" stroke="#4a4a4a" stroke-width="1.0"/>
<text x="500.37" y="141.00" font-size="8.6" style="stroke-width:0.1px" text-anchor="middle" textLength="70.00" lengthAdjust="spacingAndGlyphs">#12: CP3, D=1.2</text>
<clipPath id="cp12"><rect x="561.00" y="129.10" width="95.30" height="110.70"/></clipPath>
<g clip-path="url(#cp12)">
<path d="M565.82,239.80C566.32,239.80 568.11,239.82 568.82,239.80C569.54,239.78 569.40,239.92 570.12,239.68C570.83,239.45 572.12,239.25 573.09,238.39C574.06,237.53 575.07,236.45 575.94,234.51C576.80,232.57 577.51,229.76 578.27,226.75C579.02,223.73 579.77,220.06 580.46,216.40C581.15,212.73 581.76,208.42 582.40,204.75C583.05,201.09 583.74,197.21 584.35,194.40C584.95,191.60 585.49,189.45 586.03,187.94C586.57,186.43 587.00,185.13 587.58,185.35C588.16,185.56 588.83,187.07 589.52,189.23C590.21,191.39 590.96,195.05 591.72,198.29C592.47,201.52 593.27,205.19 594.05,208.64C594.82,212.08 595.56,215.75 596.38,218.98C597.20,222.22 597.95,225.45 598.96,228.04C599.98,230.63 601.12,232.78 602.46,234.51C603.79,236.23 605.37,237.51 606.98,238.39C608.60,239.27 610.80,239.56 612.16,239.80C613.52,240.04 614.66,239.80 615.16,239.80Z" fill="rgba(255,192,203,0.25)" stroke="none"/>
<path d="M565.82,239.80L565.82,239.80C566.32,239.80 568.11,239.82 568.82,239.80C569.54,239.78 569.40,239.92 570.12,239.68C570.83,239.45 572.12,239.25 573.09,238.39C574.06,237.53 575.07,236.45 575.94,234.51C576.80,232.57 577.51,229.76 578.27,226.75C579.02,223.73 579.77,220.06 580.46,216.40C581.15,212.73 581.76,208.42 582.40,204.75C583.05,201.09 583.74,197.21 584.35,194.40C584.95,191.60 585.49,189.45 586.03,187.94C586.57,186.43 587.00,185.13 587.58,185.35C588.16,185.56 588.83,187.07 589.52,189.23C590.21,191.39 590.96,195.05 591.72,198.29C592.47,201.52 593.27,205.19 594.05,208.64C594.82,212.08 595.56,215.75 596.38,218.98C597.20,222.22 597.95,225.45 598.96,228.04C599.98,230.63 601.12,232.78 602.46,234.51C603.79,236.23 605.37,237.51 606.98,238.39C608.60,239.27 610.80,239.56 612.16,239.80C613.52,240.04 614.66,239.80 615.16,239.80L624.16,239.80" fill="none" stroke="rgba(250,185,200,0.85)" stroke-width="1.00" stroke-linejoin="round"/>
<path d="M566.47,239.80C566.97,239.80 568.75,239.82 569.47,239.80C570.18,239.78 570.07,239.92 570.76,239.68C571.45,239.45 572.66,239.25 573.61,238.39C574.56,237.53 575.59,236.34 576.45,234.51C577.32,232.68 578.05,230.20 578.78,227.39C579.52,224.59 580.18,221.03 580.85,217.69C581.52,214.35 582.15,210.58 582.79,207.34C583.44,204.11 584.11,200.77 584.73,198.29C585.36,195.81 585.96,193.76 586.54,192.46C587.13,191.17 587.58,189.98 588.23,190.52C588.87,191.06 589.67,193.33 590.43,195.70C591.18,198.07 591.93,201.52 592.75,204.75C593.57,207.99 594.48,211.87 595.34,215.10C596.20,218.34 596.96,221.36 597.93,224.16C598.90,226.96 599.98,229.81 601.16,231.92C602.35,234.03 603.64,235.65 605.04,236.84C606.45,238.02 608.06,238.54 609.57,239.04C611.08,239.53 612.84,239.67 614.10,239.80C615.35,239.93 616.60,239.80 617.10,239.80Z" fill="rgba(176,196,222,0.25)" stroke="none"/>
<path d="M566.47,239.80L566.47,239.80C566.97,239.80 568.75,239.82 569.47,239.80C570.18,239.78 570.07,239.92 570.76,239.68C571.45,239.45 572.66,239.25 573.61,238.39C574.56,237.53 575.59,236.34 576.45,234.51C577.32,232.68 578.05,230.20 578.78,227.39C579.52,224.59 580.18,221.03 580.85,217.69C581.52,214.35 582.15,210.58 582.79,207.34C583.44,204.11 584.11,200.77 584.73,198.29C585.36,195.81 585.96,193.76 586.54,192.46C587.13,191.17 587.58,189.98 588.23,190.52C588.87,191.06 589.67,193.33 590.43,195.70C591.18,198.07 591.93,201.52 592.75,204.75C593.57,207.99 594.48,211.87 595.34,215.10C596.20,218.34 596.96,221.36 597.93,224.16C598.90,226.96 599.98,229.81 601.16,231.92C602.35,234.03 603.64,235.65 605.04,236.84C606.45,238.02 608.06,238.54 609.57,239.04C611.08,239.53 612.84,239.67 614.10,239.80C615.35,239.93 616.60,239.80 617.10,239.80L626.10,239.80" fill="none" stroke="rgba(172,182,208,0.9)" stroke-width="1.00" stroke-linejoin="round"/>
<path d="M564.53,239.80C565.03,239.80 566.81,239.82 567.53,239.80C568.24,239.78 568.17,239.92 568.82,239.68C569.47,239.45 570.61,239.25 571.41,238.39C572.21,237.53 572.94,236.23 573.61,234.51C574.28,232.78 574.86,230.63 575.42,228.04C575.98,225.45 576.50,222.00 576.97,218.98C577.45,215.97 577.83,212.95 578.27,209.93C578.70,206.91 579.08,203.68 579.56,200.87C580.03,198.07 580.53,195.09 581.11,193.11C581.69,191.13 582.30,189.08 583.05,188.97C583.81,188.86 584.78,190.48 585.64,192.46C586.50,194.45 587.36,197.75 588.23,200.87C589.09,204.00 589.95,207.99 590.81,211.22C591.68,214.46 592.54,217.48 593.40,220.28C594.26,223.08 595.02,225.78 595.99,228.04C596.96,230.30 598.04,232.24 599.22,233.86C600.41,235.48 601.70,236.82 603.10,237.74C604.50,238.67 606.34,239.08 607.63,239.42C608.92,239.77 609.83,239.74 610.87,239.80C611.90,239.86 613.37,239.80 613.87,239.80Z" fill="rgba(219,112,147,0.25)" stroke="none"/>
<path d="M564.53,239.80L564.53,239.80C565.03,239.80 566.81,239.82 567.53,239.80C568.24,239.78 568.17,239.92 568.82,239.68C569.47,239.45 570.61,239.25 571.41,238.39C572.21,237.53 572.94,236.23 573.61,234.51C574.28,232.78 574.86,230.63 575.42,228.04C575.98,225.45 576.50,222.00 576.97,218.98C577.45,215.97 577.83,212.95 578.27,209.93C578.70,206.91 579.08,203.68 579.56,200.87C580.03,198.07 580.53,195.09 581.11,193.11C581.69,191.13 582.30,189.08 583.05,188.97C583.81,188.86 584.78,190.48 585.64,192.46C586.50,194.45 587.36,197.75 588.23,200.87C589.09,204.00 589.95,207.99 590.81,211.22C591.68,214.46 592.54,217.48 593.40,220.28C594.26,223.08 595.02,225.78 595.99,228.04C596.96,230.30 598.04,232.24 599.22,233.86C600.41,235.48 601.70,236.82 603.10,237.74C604.50,238.67 606.34,239.08 607.63,239.42C608.92,239.77 609.83,239.74 610.87,239.80C611.90,239.86 613.37,239.80 613.87,239.80L622.87,239.80" fill="none" stroke="rgb(219,112,147)" stroke-width="1.05" stroke-linejoin="round"/>
<path d="M563.23,239.80C563.73,239.80 565.52,239.82 566.23,239.80C566.95,239.78 566.77,239.83 567.53,239.68C568.28,239.53 569.75,239.38 570.76,238.91C571.78,238.43 572.75,238.00 573.61,236.84C574.47,235.67 575.23,234.03 575.94,231.92C576.65,229.81 577.27,226.96 577.88,224.16C578.48,221.36 579.02,218.12 579.56,215.10C580.10,212.08 580.53,208.85 581.11,206.05C581.69,203.24 582.40,200.12 583.05,198.29C583.70,196.45 584.24,194.94 584.99,195.05C585.75,195.16 586.72,196.88 587.58,198.93C588.44,200.98 589.30,204.43 590.17,207.34C591.03,210.25 591.89,213.59 592.75,216.40C593.62,219.20 594.44,221.79 595.34,224.16C596.25,226.53 597.11,228.69 598.19,230.63C599.27,232.57 600.45,234.51 601.81,235.80C603.17,237.10 604.61,237.79 606.34,238.39C608.06,238.99 610.33,239.19 612.16,239.42C613.99,239.66 615.97,239.74 617.33,239.80C618.70,239.86 619.83,239.80 620.33,239.80Z" fill="rgba(65,105,225,0.25)" stroke="none"/>
<path d="M563.23,239.80L563.23,239.80C563.73,239.80 565.52,239.82 566.23,239.80C566.95,239.78 566.77,239.83 567.53,239.68C568.28,239.53 569.75,239.38 570.76,238.91C571.78,238.43 572.75,238.00 573.61,236.84C574.47,235.67 575.23,234.03 575.94,231.92C576.65,229.81 577.27,226.96 577.88,224.16C578.48,221.36 579.02,218.12 579.56,215.10C580.10,212.08 580.53,208.85 581.11,206.05C581.69,203.24 582.40,200.12 583.05,198.29C583.70,196.45 584.24,194.94 584.99,195.05C585.75,195.16 586.72,196.88 587.58,198.93C588.44,200.98 589.30,204.43 590.17,207.34C591.03,210.25 591.89,213.59 592.75,216.40C593.62,219.20 594.44,221.79 595.34,224.16C596.25,226.53 597.11,228.69 598.19,230.63C599.27,232.57 600.45,234.51 601.81,235.80C603.17,237.10 604.61,237.79 606.34,238.39C608.06,238.99 610.33,239.19 612.16,239.42C613.99,239.66 615.97,239.74 617.33,239.80C618.70,239.86 619.83,239.80 620.33,239.80L629.33,239.80" fill="none" stroke="rgb(65,105,225)" stroke-width="1.05" stroke-linejoin="round"/>
</g>
<rect x="561.00" y="129.10" width="95.30" height="110.70" fill="none" stroke="#4a4a4a" stroke-width="1.0"/>
<line x1="557.80" y1="239.80" x2="561.00" y2="239.80" stroke="#4a4a4a" stroke-width="1.0"/>
<line x1="557.80" y1="218.81" x2="561.00" y2="218.81" stroke="#4a4a4a" stroke-width="1.0"/>
<line x1="557.80" y1="197.82" x2="561.00" y2="197.82" stroke="#4a4a4a" stroke-width="1.0"/>
<line x1="557.80" y1="176.83" x2="561.00" y2="176.83" stroke="#4a4a4a" stroke-width="1.0"/>
<line x1="557.80" y1="155.84" x2="561.00" y2="155.84" stroke="#4a4a4a" stroke-width="1.0"/>
<line x1="557.80" y1="134.85" x2="561.00" y2="134.85" stroke="#4a4a4a" stroke-width="1.0"/>
<line x1="564.90" y1="239.80" x2="564.90" y2="243.00" stroke="#4a4a4a" stroke-width="1.0"/>
<line x1="599.75" y1="239.80" x2="599.75" y2="243.00" stroke="#4a4a4a" stroke-width="1.0"/>
<line x1="634.60" y1="239.80" x2="634.60" y2="243.00" stroke="#4a4a4a" stroke-width="1.0"/>
<text x="608.65" y="141.00" font-size="8.6" style="stroke-width:0.1px" text-anchor="middle" textLength="64.27" lengthAdjust="spacingAndGlyphs">#13: P7, D=1.4</text>
<clipPath id="cp13"><rect x="669.28" y="129.10" width="95.30" height="110.70"/></clipPath>
<g clip-path="url(#cp13)">
<path d="M673.82,239.80C674.32,239.80 676.11,239.86 676.82,239.80C677.54,239.74 677.47,239.88 678.12,239.42C678.76,238.97 679.84,238.35 680.70,237.10C681.56,235.85 682.54,233.86 683.29,231.92C684.04,229.98 684.58,228.04 685.23,225.45C685.88,222.87 686.52,219.42 687.17,216.40C687.82,213.38 688.46,210.36 689.11,207.34C689.76,204.32 690.40,201.09 691.05,198.29C691.70,195.48 692.45,192.36 692.99,190.52C693.53,188.69 693.81,187.29 694.29,187.29C694.76,187.29 695.30,188.69 695.84,190.52C696.38,192.36 696.92,195.27 697.52,198.29C698.12,201.30 698.81,205.19 699.46,208.64C700.11,212.08 700.75,215.75 701.40,218.98C702.05,222.22 702.59,225.45 703.34,228.04C704.10,230.63 704.96,232.83 705.93,234.51C706.90,236.19 707.98,237.25 709.16,238.13C710.35,239.01 711.90,239.52 713.04,239.80C714.19,240.08 715.54,239.80 716.04,239.80Z" fill="rgba(255,192,203,0.25)" stroke="none"/>
<path d="M673.82,239.80L673.82,239.80C674.32,239.80 676.11,239.86 676.82,239.80C677.54,239.74 677.47,239.88 678.12,239.42C678.76,238.97 679.84,238.35 680.70,237.10C681.56,235.85 682.54,233.86 683.29,231.92C684.04,229.98 684.58,228.04 685.23,225.45C685.88,222.87 686.52,219.42 687.17,216.40C687.82,213.38 688.46,210.36 689.11,207.34C689.76,204.32 690.40,201.09 691.05,198.29C691.70,195.48 692.45,192.36 692.99,190.52C693.53,188.69 693.81,187.29 694.29,187.29C694.76,187.29 695.30,188.69 695.84,190.52C696.38,192.36 696.92,195.27 697.52,198.29C698.12,201.30 698.81,205.19 699.46,208.64C700.11,212.08 700.75,215.75 701.40,218.98C702.05,222.22 702.59,225.45 703.34,228.04C704.10,230.63 704.96,232.83 705.93,234.51C706.90,236.19 707.98,237.25 709.16,238.13C710.35,239.01 711.90,239.52 713.04,239.80C714.19,240.08 715.54,239.80 716.04,239.80L725.04,239.80" fill="none" stroke="rgba(250,185,200,0.85)" stroke-width="1.00" stroke-linejoin="round"/>
<path d="M674.47,239.80C674.97,239.80 676.75,239.84 677.47,239.80C678.18,239.76 678.07,239.90 678.76,239.55C679.45,239.21 680.70,238.80 681.61,237.74C682.51,236.69 683.38,235.05 684.20,233.21C685.01,231.38 685.75,229.23 686.52,226.75C687.30,224.27 688.10,221.36 688.85,218.34C689.61,215.32 690.32,211.65 691.05,208.64C691.78,205.62 692.50,202.64 693.25,200.23C694.01,197.81 694.80,195.55 695.58,194.15C696.36,192.74 697.22,191.56 697.91,191.82C698.60,192.08 699.14,193.54 699.72,195.70C700.30,197.85 700.80,201.52 701.40,204.75C702.00,207.99 702.69,211.65 703.34,215.10C703.99,218.55 704.53,222.43 705.28,225.45C706.04,228.47 706.90,231.27 707.87,233.21C708.84,235.16 709.92,236.13 711.10,237.10C712.29,238.07 713.80,238.59 714.98,239.04C716.17,239.49 717.18,239.67 718.22,239.80C719.26,239.93 720.72,239.80 721.22,239.80Z" fill="rgba(176,196,222,0.25)" stroke="none"/>
<path d="M674.47,239.80L674.47,239.80C674.97,239.80 676.75,239.84 677.47,239.80C678.18,239.76 678.07,239.90 678.76,239.55C679.45,239.21 680.70,238.80 681.61,237.74C682.51,236.69 683.38,235.05 684.20,233.21C685.01,231.38 685.75,229.23 686.52,226.75C687.30,224.27 688.10,221.36 688.85,218.34C689.61,215.32 690.32,211.65 691.05,208.64C691.78,205.62 692.50,202.64 693.25,200.23C694.01,197.81 694.80,195.55 695.58,194.15C696.36,192.74 697.22,191.56 697.91,191.82C698.60,192.08 699.14,193.54 699.72,195.70C700.30,197.85 700.80,201.52 701.40,204.75C702.00,207.99 702.69,211.65 703.34,215.10C703.99,218.55 704.53,222.43 705.28,225.45C706.04,228.47 706.90,231.27 707.87,233.21C708.84,235.16 709.92,236.13 711.10,237.10C712.29,238.07 713.80,238.59 714.98,239.04C716.17,239.49 717.18,239.67 718.22,239.80C719.26,239.93 720.72,239.80 721.22,239.80L730.22,239.80" fill="none" stroke="rgba(172,182,208,0.9)" stroke-width="1.00" stroke-linejoin="round"/>
<path d="M672.53,239.80C673.03,239.80 674.81,239.82 675.53,239.80C676.24,239.78 676.17,240.03 676.82,239.68C677.47,239.34 678.55,238.82 679.41,237.74C680.27,236.66 681.24,235.05 682.00,233.21C682.75,231.38 683.29,229.12 683.94,226.75C684.58,224.37 685.23,221.79 685.88,218.98C686.52,216.18 687.17,212.95 687.82,209.93C688.46,206.91 689.11,203.46 689.76,200.87C690.40,198.29 691.12,195.96 691.70,194.40C692.28,192.85 692.71,191.56 693.25,191.56C693.79,191.56 694.33,192.64 694.93,194.40C695.54,196.17 696.23,199.15 696.87,202.17C697.52,205.19 698.17,209.28 698.81,212.52C699.46,215.75 700.11,218.77 700.75,221.57C701.40,224.37 701.94,227.07 702.69,229.33C703.45,231.60 704.31,233.65 705.28,235.16C706.25,236.66 707.33,237.62 708.52,238.39C709.70,239.16 711.25,239.56 712.40,239.80C713.54,240.04 714.90,239.80 715.40,239.80Z" fill="rgba(219,112,147,0.25)" stroke="none"/>
<path d="M672.53,239.80L672.53,239.80C673.03,239.80 674.81,239.82 675.53,239.80C676.24,239.78 676.17,240.03 676.82,239.68C677.47,239.34 678.55,238.82 679.41,237.74C680.27,236.66 681.24,235.05 682.00,233.21C682.75,231.38 683.29,229.12 683.94,226.75C684.58,224.37 685.23,221.79 685.88,218.98C686.52,216.18 687.17,212.95 687.82,209.93C688.46,206.91 689.11,203.46 689.76,200.87C690.40,198.29 691.12,195.96 691.70,194.40C692.28,192.85 692.71,191.56 693.25,191.56C693.79,191.56 694.33,192.64 694.93,194.40C695.54,196.17 696.23,199.15 696.87,202.17C697.52,205.19 698.17,209.28 698.81,212.52C699.46,215.75 700.11,218.77 700.75,221.57C701.40,224.37 701.94,227.07 702.69,229.33C703.45,231.60 704.31,233.65 705.28,235.16C706.25,236.66 707.33,237.62 708.52,238.39C709.70,239.16 711.25,239.56 712.40,239.80C713.54,240.04 714.90,239.80 715.40,239.80L724.40,239.80" fill="none" stroke="rgb(219,112,147)" stroke-width="1.05" stroke-linejoin="round"/>
<path d="M672.53,239.80C673.03,239.80 674.81,239.82 675.53,239.80C676.24,239.78 676.07,239.88 676.82,239.68C677.58,239.49 678.98,239.29 680.06,238.65C681.13,238.00 682.32,237.14 683.29,235.80C684.26,234.47 685.12,232.57 685.88,230.63C686.63,228.69 687.17,226.53 687.82,224.16C688.46,221.79 689.11,218.98 689.76,216.40C690.40,213.81 691.05,211.22 691.70,208.64C692.35,206.05 692.99,203.03 693.64,200.87C694.29,198.72 694.98,196.99 695.58,195.70C696.18,194.40 696.72,193.11 697.26,193.11C697.80,193.11 698.27,193.97 698.81,195.70C699.35,197.42 699.96,200.66 700.50,203.46C701.03,206.26 701.53,209.50 702.05,212.52C702.57,215.53 703.06,218.77 703.60,221.57C704.14,224.37 704.68,227.29 705.28,229.33C705.89,231.38 706.47,232.68 707.22,233.86C707.98,235.05 708.95,235.78 709.81,236.45C710.67,237.12 711.43,237.42 712.40,237.87C713.37,238.32 714.55,238.84 715.63,239.17C716.71,239.49 717.83,239.69 718.87,239.80C719.90,239.91 721.37,239.80 721.87,239.80Z" fill="rgba(65,105,225,0.25)" stroke="none"/>
<path d="M672.53,239.80L672.53,239.80C673.03,239.80 674.81,239.82 675.53,239.80C676.24,239.78 676.07,239.88 676.82,239.68C677.58,239.49 678.98,239.29 680.06,238.65C681.13,238.00 682.32,237.14 683.29,235.80C684.26,234.47 685.12,232.57 685.88,230.63C686.63,228.69 687.17,226.53 687.82,224.16C688.46,221.79 689.11,218.98 689.76,216.40C690.40,213.81 691.05,211.22 691.70,208.64C692.35,206.05 692.99,203.03 693.64,200.87C694.29,198.72 694.98,196.99 695.58,195.70C696.18,194.40 696.72,193.11 697.26,193.11C697.80,193.11 698.27,193.97 698.81,195.70C699.35,197.42 699.96,200.66 700.50,203.46C701.03,206.26 701.53,209.50 702.05,212.52C702.57,215.53 703.06,218.77 703.60,221.57C704.14,224.37 704.68,227.29 705.28,229.33C705.89,231.38 706.47,232.68 707.22,233.86C707.98,235.05 708.95,235.78 709.81,236.45C710.67,237.12 711.43,237.42 712.40,237.87C713.37,238.32 714.55,238.84 715.63,239.17C716.71,239.49 717.83,239.69 718.87,239.80C719.90,239.91 721.37,239.80 721.87,239.80L730.87,239.80" fill="none" stroke="rgb(65,105,225)" stroke-width="1.05" stroke-linejoin="round"/>
</g>
<rect x="669.28" y="129.10" width="95.30" height="110.70" fill="none" stroke="#4a4a4a" stroke-width="1.0"/>
<line x1="666.08" y1="239.80" x2="669.28" y2="239.80" stroke="#4a4a4a" stroke-width="1.0"/>
<line x1="666.08" y1="218.81" x2="669.28" y2="218.81" stroke="#4a4a4a" stroke-width="1.0"/>
<line x1="666.08" y1="197.82" x2="669.28" y2="197.82" stroke="#4a4a4a" stroke-width="1.0"/>
<line x1="666.08" y1="176.83" x2="669.28" y2="176.83" stroke="#4a4a4a" stroke-width="1.0"/>
<line x1="666.08" y1="155.84" x2="669.28" y2="155.84" stroke="#4a4a4a" stroke-width="1.0"/>
<line x1="666.08" y1="134.85" x2="669.28" y2="134.85" stroke="#4a4a4a" stroke-width="1.0"/>
<line x1="673.18" y1="239.80" x2="673.18" y2="243.00" stroke="#4a4a4a" stroke-width="1.0"/>
<line x1="708.03" y1="239.80" x2="708.03" y2="243.00" stroke="#4a4a4a" stroke-width="1.0"/>
<line x1="742.88" y1="239.80" x2="742.88" y2="243.00" stroke="#4a4a4a" stroke-width="1.0"/>
<text x="716.93" y="141.00" font-size="8.6" style="stroke-width:0.1px" text-anchor="middle" textLength="69.77" lengthAdjust="spacingAndGlyphs">#14: FC4, D=0.9</text>
<clipPath id="cp14"><rect x="19.60" y="252.95" width="95.30" height="110.70"/></clipPath>
<g clip-path="url(#cp14)">
<path d="M22.10,363.65C22.60,363.59 24.17,363.56 25.10,363.31C26.02,363.06 26.69,363.16 27.64,362.17C28.60,361.17 29.77,359.41 30.83,357.32C31.89,355.24 32.95,352.65 34.01,349.68C35.07,346.71 36.24,342.89 37.20,339.49C38.15,336.09 38.96,332.48 39.75,329.30C40.53,326.11 41.27,322.93 41.91,320.38C42.55,317.83 43.01,315.67 43.57,314.01C44.12,312.36 44.69,310.76 45.22,310.45C45.75,310.13 46.24,310.87 46.75,312.10C47.26,313.33 47.75,315.39 48.28,317.83C48.81,320.28 49.34,323.57 49.94,326.75C50.53,329.94 51.10,333.55 51.85,336.94C52.59,340.34 53.44,344.06 54.39,347.13C55.35,350.21 56.41,353.18 57.58,355.41C58.75,357.64 60.02,359.26 61.40,360.51C62.78,361.76 64.27,362.46 65.86,362.93C67.45,363.40 69.61,363.19 70.96,363.31C72.30,363.43 73.46,363.59 73.96,363.65Z" fill="rgba(255,192,203,0.25)" stroke="none"/>
<path d="M22.10,363.65L22.10,363.65C22.60,363.59 24.17,363.56 25.10,363.31C26.02,363.06 26.69,363.16 27.64,362.17C28.60,361.17 29.77,359.41 30.83,357.32C31.89,355.24 32.95,352.65 34.01,349.68C35.07,346.71 36.24,342.89 37.20,339.49C38.15,336.09 38.96,332.48 39.75,329.30C40.53,326.11 41.27,322.93 41.91,320.38C42.55,317.83 43.01,315.67 43.57,314.01C44.12,312.36 44.69,310.76 45.22,310.45C45.75,310.13 46.24,310.87 46.75,312.10C47.26,313.33 47.75,315.39 48.28,317.83C48.81,320.28 49.34,323.57 49.94,326.75C50.53,329.94 51.10,333.55 51.85,336.94C52.59,340.34 53.44,344.06 54.39,347.13C55.35,350.21 56.41,353.18 57.58,355.41C58.75,357.64 60.02,359.26 61.40,360.51C62.78,361.76 64.27,362.46 65.86,362.93C67.45,363.40 69.61,363.19 70.96,363.31C72.30,363.43 73.46,363.59 73.96,363.65L82.96,363.65" fill="none" stroke="rgba(250,185,200,0.85)" stroke-width="1.00" stroke-linejoin="round"/>
<path d="M22.73,363.65C23.23,363.59 24.81,363.56 25.73,363.31C26.66,363.06 27.32,363.16 28.28,362.17C29.24,361.17 30.40,359.41 31.46,357.32C32.53,355.24 33.59,352.65 34.65,349.68C35.71,346.71 36.88,342.89 37.83,339.49C38.79,336.09 39.64,332.48 40.38,329.30C41.13,326.11 41.76,322.93 42.29,320.38C42.82,317.83 43.14,315.82 43.57,314.01C43.99,312.21 44.42,310.66 44.84,309.55C45.27,308.45 45.69,307.39 46.11,307.39C46.54,307.39 46.96,308.45 47.39,309.55C47.81,310.66 48.24,312.21 48.66,314.01C49.09,315.82 49.51,317.83 49.94,320.38C50.36,322.93 50.72,326.33 51.21,329.30C51.70,332.27 52.23,335.24 52.87,338.22C53.50,341.19 54.14,344.37 55.03,347.13C55.92,349.89 57.05,352.61 58.22,354.78C59.38,356.94 60.66,358.81 62.04,360.13C63.42,361.44 65.01,362.14 66.50,362.68C67.98,363.21 69.71,363.15 70.96,363.31C72.20,363.47 73.46,363.59 73.96,363.65Z" fill="rgba(176,196,222,0.25)" stroke="none"/>
<path d="M22.73,363.65L22.73,363.65C23.23,363.59 24.81,363.56 25.73,363.31C26.66,363.06 27.32,363.16 28.28,362.17C29.24,361.17 30.40,359.41 31.46,357.32C32.53,355.24 33.59,352.65 34.65,349.68C35.71,346.71 36.88,342.89 37.83,339.49C38.79,336.09 39.64,332.48 40.38,329.30C41.13,326.11 41.76,322.93 42.29,320.38C42.82,317.83 43.14,315.82 43.57,314.01C43.99,312.21 44.42,310.66 44.84,309.55C45.27,308.45 45.69,307.39 46.11,307.39C46.54,307.39 46.96,308.45 47.39,309.55C47.81,310.66 48.24,312.21 48.66,314.01C49.09,315.82 49.51,317.83 49.94,320.38C50.36,322.93 50.72,326.33 51.21,329.30C51.70,332.27 52.23,335.24 52.87,338.22C53.50,341.19 54.14,344.37 55.03,347.13C55.92,349.89 57.05,352.61 58.22,354.78C59.38,356.94 60.66,358.81 62.04,360.13C63.42,361.44 65.01,362.14 66.50,362.68C67.98,363.21 69.71,363.15 70.96,363.31C72.20,363.47 73.46,363.59 73.96,363.65L82.96,363.65" fill="none" stroke="rgba(172,182,208,0.9)" stroke-width="1.00" stroke-linejoin="round"/>
<path d="M21.46,363.65C21.96,363.59 23.75,363.41 24.46,363.31C25.17,363.21 25.10,363.84 25.73,363.06C26.37,362.27 27.32,361.04 28.28,358.60C29.24,356.16 30.30,352.02 31.46,348.41C32.63,344.80 34.01,340.76 35.29,336.94C36.56,333.12 38.05,328.49 39.11,325.48C40.17,322.46 40.98,320.45 41.66,318.85C42.34,317.26 42.70,316.09 43.18,315.92C43.67,315.75 44.10,316.67 44.59,317.83C45.07,319.00 45.33,320.38 46.11,322.93C46.90,325.48 48.24,329.72 49.30,333.12C50.36,336.52 51.42,340.13 52.48,343.31C53.55,346.50 54.50,349.68 55.67,352.23C56.84,354.78 58.22,357.01 59.49,358.60C60.76,360.19 62.04,361.02 63.31,361.78C64.59,362.55 66.00,362.87 67.13,363.18C68.27,363.50 69.63,363.57 70.13,363.65Z" fill="rgba(219,112,147,0.25)" stroke="none"/>
<path d="M21.46,363.65L21.46,363.65C21.96,363.59 23.75,363.41 24.46,363.31C25.17,363.21 25.10,363.84 25.73,363.06C26.37,362.27 27.32,361.04 28.28,358.60C29.24,356.16 30.30,352.02 31.46,348.41C32.63,344.80 34.01,340.76 35.29,336.94C36.56,333.12 38.05,328.49 39.11,325.48C40.17,322.46 40.98,320.45 41.66,318.85C42.34,317.26 42.70,316.09 43.18,315.92C43.67,315.75 44.10,316.67 44.59,317.83C45.07,319.00 45.33,320.38 46.11,322.93C46.90,325.48 48.24,329.72 49.30,333.12C50.36,336.52 51.42,340.13 52.48,343.31C53.55,346.50 54.50,349.68 55.67,352.23C56.84,354.78 58.22,357.01 59.49,358.60C60.76,360.19 62.04,361.02 63.31,361.78C64.59,362.55 66.00,362.87 67.13,363.18C68.27,363.50 69.63,363.57 70.13,363.65L79.13,363.65" fill="none" stroke="rgb(219,112,147)" stroke-width="1.05" stroke-linejoin="round"/>
<path d="M22.10,363.65C22.60,363.59 24.38,363.45 25.10,363.31C25.81,363.17 25.73,363.38 26.37,362.80C27.01,362.23 28.07,361.32 28.92,359.87C29.77,358.43 30.62,356.05 31.46,354.14C32.31,352.23 33.16,350.42 34.01,348.41C34.86,346.39 35.71,344.16 36.56,342.04C37.41,339.92 38.26,338.00 39.11,335.67C39.96,333.33 40.91,330.04 41.66,328.03C42.40,326.01 43.10,324.42 43.57,323.57C44.03,322.72 44.03,322.72 44.46,322.93C44.88,323.14 45.31,323.35 46.11,324.84C46.92,326.33 48.13,329.19 49.30,331.85C50.47,334.50 51.85,337.79 53.12,340.76C54.39,343.74 55.67,347.13 56.94,349.68C58.22,352.23 59.49,354.25 60.76,356.05C62.04,357.86 63.10,359.41 64.59,360.51C66.07,361.61 67.98,362.21 69.68,362.68C71.38,363.14 73.43,363.15 74.78,363.31C76.13,363.47 77.28,363.59 77.78,363.65Z" fill="rgba(65,105,225,0.25)" stroke="none"/>
<path d="M22.10,363.65L22.10,363.65C22.60,363.59 24.38,363.45 25.10,363.31C25.81,363.17 25.73,363.38 26.37,362.80C27.01,362.23 28.07,361.32 28.92,359.87C29.77,358.43 30.62,356.05 31.46,354.14C32.31,352.23 33.16,350.42 34.01,348.41C34.86,346.39 35.71,344.16 36.56,342.04C37.41,339.92 38.26,338.00 39.11,335.67C39.96,333.33 40.91,330.04 41.66,328.03C42.40,326.01 43.10,324.42 43.57,323.57C44.03,322.72 44.03,322.72 44.46,322.93C44.88,323.14 45.31,323.35 46.11,324.84C46.92,326.33 48.13,329.19 49.30,331.85C50.47,334.50 51.85,337.79 53.12,340.76C54.39,343.74 55.67,347.13 56.94,349.68C58.22,352.23 59.49,354.25 60.76,356.05C62.04,357.86 63.10,359.41 64.59,360.51C66.07,361.61 67.98,362.21 69.68,362.68C71.38,363.14 73.43,363.15 74.78,363.31C76.13,363.47 77.28,363.59 77.78,363.65L86.78,363.65" fill="none" stroke="rgb(65,105,225)" stroke-width="1.05" stroke-linejoin="round"/>
</g>
<rect x="19.60" y="252.95" width="95.30" height="110.70" fill="none" stroke="#4a4a4a" stroke-width="1.0"/>
<line x1="16.40" y1="363.65" x2="19.60" y2="363.65" stroke="#4a4a4a" stroke-width="1.0"/>
<line x1="16.40" y1="342.66" x2="19.60" y2="342.66" stroke="#4a4a4a" stroke-width="1.0"/>
<line x1="16.40" y1="321.67" x2="19.60" y2="321.67" stroke="#4a4a4a" stroke-width="1.0"/>
<line x1="16.40" y1="300.68" x2="19.60" y2="300.68" stroke="#4a4a4a" stroke-width="1.0"/>
<line x1="16.40" y1="279.69" x2="19.60" y2="279.69" stroke="#4a4a4a" stroke-width="1.0"/>
<line x1="16.40" y1="258.70" x2="19.60" y2="258.70" stroke="#4a4a4a" stroke-width="1.0"/>
<line x1="23.50" y1="363.65" x2="23.50" y2="366.85" stroke="#4a4a4a" stroke-width="1.0"/>
<line x1="58.35" y1="363.65" x2="58.35" y2="366.85" stroke="#4a4a4a" stroke-width="1.0"/>
<line x1="93.20" y1="363.65" x2="93.20" y2="366.85" stroke="#4a4a4a" stroke-width="1.0"/>
<text x="67.25" y="264.85" font-size="8.6" style="stroke-width:0.1px" text-anchor="middle" textLength="65.78" lengthAdjust="spacingAndGlyphs">#15: O1, D=1.7</text>
<clipPath id="cp15"><rect x="127.88" y="252.95" width="95.30" height="110.70"/></clipPath>
<g clip-path="url(#cp15)">
<path d="M130.10,363.65C130.60,363.59 132.38,363.37 133.10,363.31C133.81,363.26 133.63,363.78 134.37,363.31C135.11,362.85 136.49,362.14 137.55,360.51C138.62,358.87 139.68,356.16 140.74,353.50C141.80,350.85 142.97,347.77 143.92,344.59C144.88,341.40 145.73,337.79 146.47,334.39C147.21,331.00 147.81,327.60 148.38,324.20C148.96,320.81 149.44,316.77 149.91,314.01C150.38,311.25 150.76,309.24 151.18,307.64C151.61,306.05 152.03,304.46 152.46,304.46C152.88,304.46 153.31,306.05 153.73,307.64C154.16,309.24 154.58,311.46 155.01,314.01C155.43,316.56 155.79,319.75 156.28,322.93C156.77,326.11 157.24,329.72 157.94,333.12C158.64,336.52 159.53,340.13 160.48,343.31C161.44,346.50 162.39,349.68 163.67,352.23C164.94,354.78 166.43,356.90 168.13,358.60C169.83,360.30 172.06,361.63 173.86,362.42C175.66,363.21 177.61,363.11 178.96,363.31C180.30,363.52 181.46,363.59 181.96,363.65Z" fill="rgba(255,192,203,0.25)" stroke="none"/>
<path d="M130.10,363.65L130.10,363.65C130.60,363.59 132.38,363.37 133.10,363.31C133.81,363.26 133.63,363.78 134.37,363.31C135.11,362.85 136.49,362.14 137.55,360.51C138.62,358.87 139.68,356.16 140.74,353.50C141.80,350.85 142.97,347.77 143.92,344.59C144.88,341.40 145.73,337.79 146.47,334.39C147.21,331.00 147.81,327.60 148.38,324.20C148.96,320.81 149.44,316.77 149.91,314.01C150.38,311.25 150.76,309.24 151.18,307.64C151.61,306.05 152.03,304.46 152.46,304.46C152.88,304.46 153.31,306.05 153.73,307.64C154.16,309.24 154.58,311.46 155.01,314.01C155.43,316.56 155.79,319.75 156.28,322.93C156.77,326.11 157.24,329.72 157.94,333.12C158.64,336.52 159.53,340.13 160.48,343.31C161.44,346.50 162.39,349.68 163.67,352.23C164.94,354.78 166.43,356.90 168.13,358.60C169.83,360.30 172.06,361.63 173.86,362.42C175.66,363.21 177.61,363.11 178.96,363.31C180.30,363.52 181.46,363.59 181.96,363.65L190.96,363.65" fill="none" stroke="rgba(250,185,200,0.85)" stroke-width="1.00" stroke-linejoin="round"/>
<path d="M130.73,363.65C131.23,363.59 133.02,363.37 133.73,363.31C134.44,363.26 134.26,363.67 135.01,363.31C135.75,362.95 137.13,362.57 138.19,361.15C139.25,359.72 140.36,357.11 141.38,354.78C142.39,352.44 143.39,349.89 144.31,347.13C145.22,344.37 146.07,341.40 146.85,338.22C147.64,335.03 148.38,331.21 149.02,328.03C149.66,324.84 150.19,321.66 150.68,319.11C151.16,316.56 151.52,314.33 151.95,312.74C152.37,311.15 152.80,309.55 153.22,309.55C153.65,309.55 154.07,311.15 154.50,312.74C154.92,314.33 155.30,316.56 155.77,319.11C156.24,321.66 156.73,324.84 157.30,328.03C157.87,331.21 158.47,335.03 159.21,338.22C159.95,341.40 160.70,344.37 161.76,347.13C162.82,349.89 164.09,352.55 165.58,354.78C167.07,357.01 168.98,359.17 170.68,360.51C172.37,361.85 173.97,362.34 175.77,362.80C177.58,363.27 180.05,363.17 181.50,363.31C182.96,363.45 184.00,363.59 184.50,363.65Z" fill="rgba(176,196,222,0.25)" stroke="none"/>
<path d="M130.73,363.65L130.73,363.65C131.23,363.59 133.02,363.37 133.73,363.31C134.44,363.26 134.26,363.67 135.01,363.31C135.75,362.95 137.13,362.57 138.19,361.15C139.25,359.72 140.36,357.11 141.38,354.78C142.39,352.44 143.39,349.89 144.31,347.13C145.22,344.37 146.07,341.40 146.85,338.22C147.64,335.03 148.38,331.21 149.02,328.03C149.66,324.84 150.19,321.66 150.68,319.11C151.16,316.56 151.52,314.33 151.95,312.74C152.37,311.15 152.80,309.55 153.22,309.55C153.65,309.55 154.07,311.15 154.50,312.74C154.92,314.33 155.30,316.56 155.77,319.11C156.24,321.66 156.73,324.84 157.30,328.03C157.87,331.21 158.47,335.03 159.21,338.22C159.95,341.40 160.70,344.37 161.76,347.13C162.82,349.89 164.09,352.55 165.58,354.78C167.07,357.01 168.98,359.17 170.68,360.51C172.37,361.85 173.97,362.34 175.77,362.80C177.58,363.27 180.05,363.17 181.50,363.31C182.96,363.45 184.00,363.59 184.50,363.65L193.50,363.65" fill="none" stroke="rgba(172,182,208,0.9)" stroke-width="1.00" stroke-linejoin="round"/>
<path d="M130.10,363.65C130.60,363.59 132.28,363.41 133.10,363.31C133.91,363.21 134.26,363.84 135.01,363.06C135.75,362.27 136.70,360.83 137.55,358.60C138.40,356.37 139.25,352.87 140.10,349.68C140.95,346.50 141.80,342.89 142.65,339.49C143.50,336.09 144.35,332.27 145.20,329.30C146.05,326.33 147.00,323.67 147.75,321.66C148.49,319.64 149.02,317.41 149.66,317.20C150.29,316.99 150.93,318.58 151.57,320.38C152.20,322.19 152.84,325.27 153.48,328.03C154.11,330.79 154.65,333.97 155.39,336.94C156.13,339.92 156.98,343.10 157.94,345.86C158.89,348.62 159.95,351.27 161.12,353.50C162.29,355.73 163.67,357.75 164.94,359.24C166.22,360.72 167.49,361.74 168.76,362.42C170.04,363.10 171.45,363.11 172.59,363.31C173.72,363.52 175.09,363.59 175.59,363.65Z" fill="rgba(219,112,147,0.25)" stroke="none"/>
<path d="M130.10,363.65L130.10,363.65C130.60,363.59 132.28,363.41 133.10,363.31C133.91,363.21 134.26,363.84 135.01,363.06C135.75,362.27 136.70,360.83 137.55,358.60C138.40,356.37 139.25,352.87 140.10,349.68C140.95,346.50 141.80,342.89 142.65,339.49C143.50,336.09 144.35,332.27 145.20,329.30C146.05,326.33 147.00,323.67 147.75,321.66C148.49,319.64 149.02,317.41 149.66,317.20C150.29,316.99 150.93,318.58 151.57,320.38C152.20,322.19 152.84,325.27 153.48,328.03C154.11,330.79 154.65,333.97 155.39,336.94C156.13,339.92 156.98,343.10 157.94,345.86C158.89,348.62 159.95,351.27 161.12,353.50C162.29,355.73 163.67,357.75 164.94,359.24C166.22,360.72 167.49,361.74 168.76,362.42C170.04,363.10 171.45,363.11 172.59,363.31C173.72,363.52 175.09,363.59 175.59,363.65L184.59,363.65" fill="none" stroke="rgb(219,112,147)" stroke-width="1.05" stroke-linejoin="round"/>
<path d="M129.46,363.65C129.96,363.59 131.75,363.37 132.46,363.31C133.17,363.26 133.20,363.46 133.73,363.31C134.26,363.16 134.90,363.42 135.64,362.42C136.39,361.42 137.34,359.45 138.19,357.32C139.04,355.20 139.89,352.44 140.74,349.68C141.59,346.92 142.44,343.74 143.29,340.76C144.14,337.79 144.99,334.39 145.83,331.85C146.68,329.30 147.58,327.01 148.38,325.48C149.19,323.95 149.93,322.68 150.68,322.68C151.42,322.68 152.16,323.74 152.84,325.48C153.52,327.22 154.01,330.36 154.75,333.12C155.49,335.88 156.34,339.28 157.30,342.04C158.25,344.80 159.32,347.35 160.48,349.68C161.65,352.02 162.93,354.25 164.31,356.05C165.69,357.86 167.17,359.41 168.76,360.51C170.36,361.61 172.16,362.21 173.86,362.68C175.56,363.14 177.61,363.15 178.96,363.31C180.30,363.47 181.46,363.59 181.96,363.65Z" fill="rgba(65,105,225,0.25)" stroke="none"/>
<path d="M129.46,363.65L129.46,363.65C129.96,363.59 131.75,363.37 132.46,363.31C133.17,363.26 133.20,363.46 133.73,363.31C134.26,363.16 134.90,363.42 135.64,362.42C136.39,361.42 137.34,359.45 138.19,357.32C139.04,355.20 139.89,352.44 140.74,349.68C141.59,346.92 142.44,343.74 143.29,340.76C144.14,337.79 144.99,334.39 145.83,331.85C146.68,329.30 147.58,327.01 148.38,325.48C149.19,323.95 149.93,322.68 150.68,322.68C151.42,322.68 152.16,323.74 152.84,325.48C153.52,327.22 154.01,330.36 154.75,333.12C155.49,335.88 156.34,339.28 157.30,342.04C158.25,344.80 159.32,347.35 160.48,349.68C161.65,352.02 162.93,354.25 164.31,356.05C165.69,357.86 167.17,359.41 168.76,360.51C170.36,361.61 172.16,362.21 173.86,362.68C175.56,363.14 177.61,363.15 178.96,363.31C180.30,363.47 181.46,363.59 181.96,363.65L190.96,363.65" fill="none" stroke="rgb(65,105,225)" stroke-width="1.05" stroke-linejoin="round"/>
</g>
<rect x="127.88" y="252.95" width="95.30" height="110.70" fill="none" stroke="#4a4a4a" stroke-width="1.0"/>
<line x1="124.68" y1="363.65" x2="127.88" y2="363.65" stroke="#4a4a4a" stroke-width="1.0"/>
<line x1="124.68" y1="342.66" x2="127.88" y2="342.66" stroke="#4a4a4a" stroke-width="1.0"/>
<line x1="124.68" y1="321.67" x2="127.88" y2="321.67" stroke="#4a4a4a" stroke-width="1.0"/>
<line x1="124.68" y1="300.68" x2="127.88" y2="300.68" stroke="#4a4a4a" stroke-width="1.0"/>
<line x1="124.68" y1="279.69" x2="127.88" y2="279.69" stroke="#4a4a4a" stroke-width="1.0"/>
<line x1="124.68" y1="258.70" x2="127.88" y2="258.70" stroke="#4a4a4a" stroke-width="1.0"/>
<line x1="131.78" y1="363.65" x2="131.78" y2="366.85" stroke="#4a4a4a" stroke-width="1.0"/>
<line x1="166.63" y1="363.65" x2="166.63" y2="366.85" stroke="#4a4a4a" stroke-width="1.0"/>
<line x1="201.48" y1="363.65" x2="201.48" y2="366.85" stroke="#4a4a4a" stroke-width="1.0"/>
<text x="175.53" y="264.85" font-size="8.6" style="stroke-width:0.1px" text-anchor="middle" textLength="68.97" lengthAdjust="spacingAndGlyphs">#16: Oz*, D=2.4</text>
<clipPath id="cp16"><rect x="236.16" y="252.95" width="95.30" height="110.70"/></clipPath>
<g clip-path="url(#cp16)">
<path d="M239.88,363.65C240.38,363.60 242.08,363.48 242.88,363.34C243.68,363.20 243.89,363.49 244.66,362.81C245.43,362.13 246.55,361.18 247.50,359.26C248.45,357.33 249.45,354.37 250.34,351.26C251.23,348.16 252.00,344.46 252.83,340.61C253.66,336.76 254.54,332.02 255.31,328.17C256.08,324.33 256.79,320.48 257.45,317.52C258.10,314.56 258.69,312.04 259.22,310.41C259.75,308.78 260.17,307.75 260.64,307.75C261.12,307.75 261.56,308.78 262.06,310.41C262.57,312.04 263.13,314.70 263.66,317.52C264.20,320.33 264.67,323.73 265.26,327.29C265.85,330.84 266.50,335.13 267.21,338.83C267.93,342.53 268.67,346.38 269.52,349.49C270.38,352.60 271.30,355.47 272.37,357.48C273.43,359.49 274.62,360.59 275.92,361.57C277.22,362.54 278.97,363.00 280.18,363.34C281.39,363.69 282.68,363.60 283.18,363.65Z" fill="rgba(255,192,203,0.25)" stroke="none"/>
<path d="M239.88,363.65L239.88,363.65C240.38,363.60 242.08,363.48 242.88,363.34C243.68,363.20 243.89,363.49 244.66,362.81C245.43,362.13 246.55,361.18 247.50,359.26C248.45,357.33 249.45,354.37 250.34,351.26C251.23,348.16 252.00,344.46 252.83,340.61C253.66,336.76 254.54,332.02 255.31,328.17C256.08,324.33 256.79,320.48 257.45,317.52C258.10,314.56 258.69,312.04 259.22,310.41C259.75,308.78 260.17,307.75 260.64,307.75C261.12,307.75 261.56,308.78 262.06,310.41C262.57,312.04 263.13,314.70 263.66,317.52C264.20,320.33 264.67,323.73 265.26,327.29C265.85,330.84 266.50,335.13 267.21,338.83C267.93,342.53 268.67,346.38 269.52,349.49C270.38,352.60 271.30,355.47 272.37,357.48C273.43,359.49 274.62,360.59 275.92,361.57C277.22,362.54 278.97,363.00 280.18,363.34C281.39,363.69 282.68,363.60 283.18,363.65L292.18,363.65" fill="none" stroke="rgba(250,185,200,0.85)" stroke-width="1.00" stroke-linejoin="round"/>
<path d="M240.77,363.65C241.27,363.60 242.83,363.63 243.77,363.34C244.71,363.05 245.46,363.19 246.43,361.92C247.41,360.65 248.65,358.22 249.63,355.71C250.61,353.19 251.41,350.38 252.29,346.82C253.18,343.27 254.16,338.39 254.96,334.39C255.76,330.39 256.44,326.40 257.09,322.85C257.74,319.29 258.33,315.74 258.87,313.08C259.40,310.41 259.84,308.49 260.29,306.86C260.73,305.23 261.12,303.31 261.53,303.31C261.95,303.31 262.39,305.23 262.77,306.86C263.16,308.49 263.43,310.41 263.84,313.08C264.25,315.74 264.73,319.29 265.26,322.85C265.79,326.40 266.42,330.69 267.04,334.39C267.66,338.09 268.28,341.79 268.99,345.05C269.70,348.30 270.38,351.41 271.30,353.93C272.22,356.45 273.31,358.67 274.50,360.15C275.68,361.63 277.16,362.28 278.40,362.81C279.65,363.34 280.87,363.20 281.96,363.34C283.05,363.48 284.46,363.60 284.96,363.65Z" fill="rgba(176,196,222,0.25)" stroke="none"/>
<path d="M240.77,363.65L240.77,363.65C241.27,363.60 242.83,363.63 243.77,363.34C244.71,363.05 245.46,363.19 246.43,361.92C247.41,360.65 248.65,358.22 249.63,355.71C250.61,353.19 251.41,350.38 252.29,346.82C253.18,343.27 254.16,338.39 254.96,334.39C255.76,330.39 256.44,326.40 257.09,322.85C257.74,319.29 258.33,315.74 258.87,313.08C259.40,310.41 259.84,308.49 260.29,306.86C260.73,305.23 261.12,303.31 261.53,303.31C261.95,303.31 262.39,305.23 262.77,306.86C263.16,308.49 263.43,310.41 263.84,313.08C264.25,315.74 264.73,319.29 265.26,322.85C265.79,326.40 266.42,330.69 267.04,334.39C267.66,338.09 268.28,341.79 268.99,345.05C269.70,348.30 270.38,351.41 271.30,353.93C272.22,356.45 273.31,358.67 274.50,360.15C275.68,361.63 277.16,362.28 278.40,362.81C279.65,363.34 280.87,363.20 281.96,363.34C283.05,363.48 284.46,363.60 284.96,363.65L293.96,363.65" fill="none" stroke="rgba(172,182,208,0.9)" stroke-width="1.00" stroke-linejoin="round"/>
<path d="M238.10,363.65C238.60,363.60 240.37,363.39 241.10,363.34C241.84,363.29 241.87,363.67 242.53,363.34C243.18,363.02 244.12,362.81 245.01,361.39C245.90,359.97 246.97,357.54 247.85,354.82C248.74,352.09 249.54,348.45 250.34,345.05C251.14,341.64 251.88,337.80 252.65,334.39C253.42,330.99 254.22,327.58 254.96,324.62C255.70,321.66 256.38,318.85 257.09,316.63C257.80,314.41 258.57,311.74 259.22,311.30C259.87,310.86 260.41,312.43 261.00,313.96C261.59,315.50 262.18,317.96 262.77,320.54C263.37,323.11 263.90,326.16 264.55,329.42C265.20,332.67 265.94,336.52 266.68,340.07C267.42,343.63 268.13,347.68 268.99,350.73C269.85,353.78 270.77,356.50 271.83,358.37C272.90,360.23 273.99,361.09 275.39,361.92C276.78,362.75 278.88,363.05 280.18,363.34C281.48,363.63 282.68,363.60 283.18,363.65Z" fill="rgba(219,112,147,0.25)" stroke="none"/>
<path d="M238.10,363.65L238.10,363.65C238.60,363.60 240.37,363.39 241.10,363.34C241.84,363.29 241.87,363.67 242.53,363.34C243.18,363.02 244.12,362.81 245.01,361.39C245.90,359.97 246.97,357.54 247.85,354.82C248.74,352.09 249.54,348.45 250.34,345.05C251.14,341.64 251.88,337.80 252.65,334.39C253.42,330.99 254.22,327.58 254.96,324.62C255.70,321.66 256.38,318.85 257.09,316.63C257.80,314.41 258.57,311.74 259.22,311.30C259.87,310.86 260.41,312.43 261.00,313.96C261.59,315.50 262.18,317.96 262.77,320.54C263.37,323.11 263.90,326.16 264.55,329.42C265.20,332.67 265.94,336.52 266.68,340.07C267.42,343.63 268.13,347.68 268.99,350.73C269.85,353.78 270.77,356.50 271.83,358.37C272.90,360.23 273.99,361.09 275.39,361.92C276.78,362.75 278.88,363.05 280.18,363.34C281.48,363.63 282.68,363.60 283.18,363.65L292.18,363.65" fill="none" stroke="rgb(219,112,147)" stroke-width="1.05" stroke-linejoin="round"/>
<path d="M238.99,363.65C239.49,363.60 241.20,363.42 241.99,363.34C242.79,363.26 243.03,363.70 243.77,363.17C244.51,362.63 245.55,361.98 246.43,360.15C247.32,358.31 248.27,355.26 249.10,352.15C249.93,349.04 250.67,345.05 251.41,341.50C252.15,337.94 252.83,334.24 253.54,330.84C254.25,327.43 254.99,323.88 255.67,321.07C256.35,318.26 257.00,315.80 257.62,313.96C258.25,312.13 258.81,310.20 259.40,310.06C259.99,309.91 260.58,311.39 261.18,313.08C261.77,314.76 262.36,317.52 262.95,320.18C263.54,322.85 264.08,325.81 264.73,329.06C265.38,332.32 266.12,336.17 266.86,339.72C267.60,343.27 268.28,347.27 269.17,350.38C270.06,353.48 271.09,356.45 272.19,358.37C273.28,360.29 274.26,361.09 275.74,361.92C277.22,362.75 279.68,363.05 281.07,363.34C282.46,363.63 283.57,363.60 284.07,363.65Z" fill="rgba(65,105,225,0.25)" stroke="none"/>
<path d="M238.99,363.65L238.99,363.65C239.49,363.60 241.20,363.42 241.99,363.34C242.79,363.26 243.03,363.70 243.77,363.17C244.51,362.63 245.55,361.98 246.43,360.15C247.32,358.31 248.27,355.26 249.10,352.15C249.93,349.04 250.67,345.05 251.41,341.50C252.15,337.94 252.83,334.24 253.54,330.84C254.25,327.43 254.99,323.88 255.67,321.07C256.35,318.26 257.00,315.80 257.62,313.96C258.25,312.13 258.81,310.20 259.40,310.06C259.99,309.91 260.58,311.39 261.18,313.08C261.77,314.76 262.36,317.52 262.95,320.18C263.54,322.85 264.08,325.81 264.73,329.06C265.38,332.32 266.12,336.17 266.86,339.72C267.60,343.27 268.28,347.27 269.17,350.38C270.06,353.48 271.09,356.45 272.19,358.37C273.28,360.29 274.26,361.09 275.74,361.92C277.22,362.75 279.68,363.05 281.07,363.34C282.46,363.63 283.57,363.60 284.07,363.65L293.07,363.65" fill="none" stroke="rgb(65,105,225)" stroke-width="1.05" stroke-linejoin="round"/>
</g>
<rect x="236.16" y="252.95" width="95.30" height="110.70" fill="none" stroke="#4a4a4a" stroke-width="1.0"/>
<line x1="232.96" y1="363.65" x2="236.16" y2="363.65" stroke="#4a4a4a" stroke-width="1.0"/>
<line x1="232.96" y1="342.66" x2="236.16" y2="342.66" stroke="#4a4a4a" stroke-width="1.0"/>
<line x1="232.96" y1="321.67" x2="236.16" y2="321.67" stroke="#4a4a4a" stroke-width="1.0"/>
<line x1="232.96" y1="300.68" x2="236.16" y2="300.68" stroke="#4a4a4a" stroke-width="1.0"/>
<line x1="232.96" y1="279.69" x2="236.16" y2="279.69" stroke="#4a4a4a" stroke-width="1.0"/>
<line x1="232.96" y1="258.70" x2="236.16" y2="258.70" stroke="#4a4a4a" stroke-width="1.0"/>
<line x1="240.06" y1="363.65" x2="240.06" y2="366.85" stroke="#4a4a4a" stroke-width="1.0"/>
<line x1="274.91" y1="363.65" x2="274.91" y2="366.85" stroke="#4a4a4a" stroke-width="1.0"/>
<line x1="309.76" y1="363.65" x2="309.76" y2="366.85" stroke="#4a4a4a" stroke-width="1.0"/>
<text x="283.81" y="264.85" font-size="8.6" style="stroke-width:0.1px" text-anchor="middle" textLength="63.13" lengthAdjust="spacingAndGlyphs">#17: Fz, D=1.1</text>
<clipPath id="cp17"><rect x="344.44" y="252.95" width="95.30" height="110.70"/></clipPath>
<g clip-path="url(#cp17)">
<path d="M350.00,363.65C350.50,363.49 351.95,363.70 353.00,362.70C354.05,361.69 355.20,360.68 356.30,357.63C357.40,354.59 358.51,349.56 359.61,344.43C360.71,339.29 361.88,331.96 362.91,326.82C363.93,321.69 364.96,316.74 365.77,313.62C366.57,310.50 367.27,311.05 367.75,308.12C368.23,305.18 368.37,300.60 368.63,296.01C368.89,291.43 369.07,284.83 369.29,280.61C369.51,276.39 369.73,272.36 369.95,270.71C370.17,269.06 370.39,269.06 370.61,270.71C370.83,272.36 371.05,276.39 371.27,280.61C371.49,284.83 371.71,291.17 371.93,296.01C372.15,300.86 372.33,304.89 372.59,309.66C372.85,314.43 373.14,319.56 373.47,324.62C373.80,329.68 374.13,335.26 374.57,340.03C375.01,344.80 375.49,349.75 376.11,353.23C376.73,356.72 377.47,359.36 378.31,360.93C379.16,362.51 380.20,362.24 381.17,362.70C382.15,363.15 383.67,363.49 384.17,363.65Z" fill="rgba(255,192,203,0.25)" stroke="none"/>
<path d="M350.00,363.65L350.00,363.65C350.50,363.49 351.95,363.70 353.00,362.70C354.05,361.69 355.20,360.68 356.30,357.63C357.40,354.59 358.51,349.56 359.61,344.43C360.71,339.29 361.88,331.96 362.91,326.82C363.93,321.69 364.96,316.74 365.77,313.62C366.57,310.50 367.27,311.05 367.75,308.12C368.23,305.18 368.37,300.60 368.63,296.01C368.89,291.43 369.07,284.83 369.29,280.61C369.51,276.39 369.73,272.36 369.95,270.71C370.17,269.06 370.39,269.06 370.61,270.71C370.83,272.36 371.05,276.39 371.27,280.61C371.49,284.83 371.71,291.17 371.93,296.01C372.15,300.86 372.33,304.89 372.59,309.66C372.85,314.43 373.14,319.56 373.47,324.62C373.80,329.68 374.13,335.26 374.57,340.03C375.01,344.80 375.49,349.75 376.11,353.23C376.73,356.72 377.47,359.36 378.31,360.93C379.16,362.51 380.20,362.24 381.17,362.70C382.15,363.15 383.67,363.49 384.17,363.65L393.17,363.65" fill="none" stroke="rgba(250,185,200,0.85)" stroke-width="1.00" stroke-linejoin="round"/>
<path d="M351.10,363.65C351.60,363.49 353.05,363.51 354.10,362.70C355.15,361.88 356.30,361.04 357.40,358.73C358.51,356.42 359.61,353.05 360.71,348.83C361.81,344.61 363.09,338.19 364.01,333.43C364.92,328.66 365.58,324.18 366.21,320.22C366.83,316.26 367.34,314.24 367.75,309.66C368.15,305.07 368.37,298.84 368.63,292.71C368.89,286.59 369.07,278.30 369.29,272.91C369.51,267.51 369.73,262.45 369.95,260.36C370.17,258.27 370.39,258.27 370.61,260.36C370.83,262.45 371.05,267.51 371.27,272.91C371.49,278.30 371.71,286.59 371.93,292.71C372.15,298.84 372.33,304.34 372.59,309.66C372.85,314.98 373.14,319.56 373.47,324.62C373.80,329.68 374.13,335.26 374.57,340.03C375.01,344.80 375.45,349.75 376.11,353.23C376.77,356.72 377.61,359.36 378.53,360.93C379.45,362.51 380.60,362.24 381.61,362.70C382.63,363.15 384.11,363.49 384.61,363.65Z" fill="rgba(176,196,222,0.25)" stroke="none"/>
<path d="M351.10,363.65L351.10,363.65C351.60,363.49 353.05,363.51 354.10,362.70C355.15,361.88 356.30,361.04 357.40,358.73C358.51,356.42 359.61,353.05 360.71,348.83C361.81,344.61 363.09,338.19 364.01,333.43C364.92,328.66 365.58,324.18 366.21,320.22C366.83,316.26 367.34,314.24 367.75,309.66C368.15,305.07 368.37,298.84 368.63,292.71C368.89,286.59 369.07,278.30 369.29,272.91C369.51,267.51 369.73,262.45 369.95,260.36C370.17,258.27 370.39,258.27 370.61,260.36C370.83,262.45 371.05,267.51 371.27,272.91C371.49,278.30 371.71,286.59 371.93,292.71C372.15,298.84 372.33,304.34 372.59,309.66C372.85,314.98 373.14,319.56 373.47,324.62C373.80,329.68 374.13,335.26 374.57,340.03C375.01,344.80 375.45,349.75 376.11,353.23C376.77,356.72 377.61,359.36 378.53,360.93C379.45,362.51 380.60,362.24 381.61,362.70C382.63,363.15 384.11,363.49 384.61,363.65L393.61,363.65" fill="none" stroke="rgba(172,182,208,0.9)" stroke-width="1.00" stroke-linejoin="round"/>
<path d="M347.80,363.65C348.30,363.49 349.94,363.33 350.80,362.70C351.67,362.06 352.27,361.49 353.00,359.83C353.74,358.18 354.54,354.41 355.20,352.79C355.86,351.18 356.30,352.28 356.96,350.15C357.62,348.02 358.36,344.28 359.17,340.03C359.97,335.77 361.00,329.39 361.81,324.62C362.61,319.86 363.35,314.28 364.01,311.42C364.67,308.56 365.11,307.75 365.77,307.46C366.43,307.16 367.31,307.90 367.97,309.66C368.63,311.42 369.14,314.43 369.73,318.02C370.32,321.62 370.94,326.82 371.49,331.23C372.04,335.63 372.48,340.47 373.03,344.43C373.58,348.39 374.09,352.24 374.79,354.99C375.49,357.74 376.26,359.65 377.21,360.93C378.16,362.22 379.46,362.24 380.51,362.70C381.56,363.15 383.01,363.49 383.51,363.65Z" fill="rgba(219,112,147,0.25)" stroke="none"/>
<path d="M347.80,363.65L347.80,363.65C348.30,363.49 349.94,363.33 350.80,362.70C351.67,362.06 352.27,361.49 353.00,359.83C353.74,358.18 354.54,354.41 355.20,352.79C355.86,351.18 356.30,352.28 356.96,350.15C357.62,348.02 358.36,344.28 359.17,340.03C359.97,335.77 361.00,329.39 361.81,324.62C362.61,319.86 363.35,314.28 364.01,311.42C364.67,308.56 365.11,307.75 365.77,307.46C366.43,307.16 367.31,307.90 367.97,309.66C368.63,311.42 369.14,314.43 369.73,318.02C370.32,321.62 370.94,326.82 371.49,331.23C372.04,335.63 372.48,340.47 373.03,344.43C373.58,348.39 374.09,352.24 374.79,354.99C375.49,357.74 376.26,359.65 377.21,360.93C378.16,362.22 379.46,362.24 380.51,362.70C381.56,363.15 383.01,363.49 383.51,363.65L392.51,363.65" fill="none" stroke="rgb(219,112,147)" stroke-width="1.05" stroke-linejoin="round"/>
<path d="M348.90,363.65C349.40,363.49 351.15,363.04 351.90,362.70C352.66,362.35 352.82,362.44 353.44,361.60C354.07,360.75 354.80,359.76 355.64,357.63C356.49,355.51 357.66,352.13 358.51,348.83C359.35,345.53 359.97,341.86 360.71,337.83C361.44,333.79 362.17,328.84 362.91,324.62C363.64,320.41 364.37,315.64 365.11,312.52C365.84,309.40 366.57,307.64 367.31,305.92C368.04,304.19 368.89,301.99 369.51,302.18C370.13,302.36 370.61,304.38 371.05,307.02C371.49,309.66 371.78,313.99 372.15,318.02C372.52,322.06 372.85,326.82 373.25,331.23C373.65,335.63 374.09,340.39 374.57,344.43C375.05,348.46 375.49,352.68 376.11,355.43C376.73,358.18 377.39,359.72 378.31,360.93C379.23,362.15 380.56,362.24 381.61,362.70C382.66,363.15 384.11,363.49 384.61,363.65Z" fill="rgba(65,105,225,0.25)" stroke="none"/>
<path d="M348.90,363.65L348.90,363.65C349.40,363.49 351.15,363.04 351.90,362.70C352.66,362.35 352.82,362.44 353.44,361.60C354.07,360.75 354.80,359.76 355.64,357.63C356.49,355.51 357.66,352.13 358.51,348.83C359.35,345.53 359.97,341.86 360.71,337.83C361.44,333.79 362.17,328.84 362.91,324.62C363.64,320.41 364.37,315.64 365.11,312.52C365.84,309.40 366.57,307.64 367.31,305.92C368.04,304.19 368.89,301.99 369.51,302.18C370.13,302.36 370.61,304.38 371.05,307.02C371.49,309.66 371.78,313.99 372.15,318.02C372.52,322.06 372.85,326.82 373.25,331.23C373.65,335.63 374.09,340.39 374.57,344.43C375.05,348.46 375.49,352.68 376.11,355.43C376.73,358.18 377.39,359.72 378.31,360.93C379.23,362.15 380.56,362.24 381.61,362.70C382.66,363.15 384.11,363.49 384.61,363.65L393.61,363.65" fill="none" stroke="rgb(65,105,225)" stroke-width="1.05" stroke-linejoin="round"/>
</g>
<rect x="344.44" y="252.95" width="95.30" height="110.70" fill="none" stroke="#4a4a4a" stroke-width="1.0"/>
<line x1="341.24" y1="363.65" x2="344.44" y2="363.65" stroke="#4a4a4a" stroke-width="1.0"/>
<line x1="341.24" y1="342.66" x2="344.44" y2="342.66" stroke="#4a4a4a" stroke-width="1.0"/>
<line x1="341.24" y1="321.67" x2="344.44" y2="321.67" stroke="#4a4a4a" stroke-width="1.0"/>
<line x1="341.24" y1="300.68" x2="344.44" y2="300.68" stroke="#4a4a4a" stroke-width="1.0"/>
<line x1="341.24" y1="279.69" x2="344.44" y2="279.69" stroke="#4a4a4a" stroke-width="1.0"/>
<line x1="341.24" y1="258.70" x2="344.44" y2="258.70" stroke="#4a4a4a" stroke-width="1.0"/>
<line x1="348.34" y1="363.65" x2="348.34" y2="366.85" stroke="#4a4a4a" stroke-width="1.0"/>
<line x1="383.19" y1="363.65" x2="383.19" y2="366.85" stroke="#4a4a4a" stroke-width="1.0"/>
<line x1="418.04" y1="363.65" x2="418.04" y2="366.85" stroke="#4a4a4a" stroke-width="1.0"/>
<text x="392.09" y="264.85" font-size="8.6" style="stroke-width:0.1px" text-anchor="middle" textLength="68.15" lengthAdjust="spacingAndGlyphs">#18: F3*, D=2.6</text>
<clipPath id="cp18"><rect x="452.72" y="252.95" width="95.30" height="110.70"/></clipPath>
<g clip-path="url(#cp18)">
<path d="M458.64,363.65C459.14,363.65 460.87,363.80 461.64,363.65C462.42,363.50 462.61,363.38 463.31,362.72C464.00,362.07 464.97,361.34 465.80,359.73C466.63,358.13 467.54,355.86 468.29,353.09C469.04,350.32 469.67,346.72 470.28,343.12C470.89,339.52 471.45,335.65 471.94,331.50C472.44,327.34 472.88,322.64 473.27,318.21C473.66,313.78 473.99,309.07 474.27,304.92C474.55,300.76 474.68,296.28 474.93,293.29C475.18,290.30 475.49,286.98 475.76,286.98C476.04,286.98 476.32,290.30 476.59,293.29C476.87,296.28 477.09,300.49 477.43,304.92C477.76,309.35 478.17,315.16 478.59,319.87C479.00,324.57 479.42,329.00 479.92,333.16C480.42,337.31 480.89,341.18 481.58,344.78C482.27,348.38 483.10,352.07 484.07,354.75C485.04,357.44 486.28,359.51 487.39,360.90C488.50,362.28 489.75,362.60 490.71,363.06C491.68,363.52 492.29,363.55 493.21,363.65C494.12,363.75 495.71,363.65 496.21,363.65Z" fill="rgba(255,192,203,0.25)" stroke="none"/>
<path d="M458.64,363.65L458.64,363.65C459.14,363.65 460.87,363.80 461.64,363.65C462.42,363.50 462.61,363.38 463.31,362.72C464.00,362.07 464.97,361.34 465.80,359.73C466.63,358.13 467.54,355.86 468.29,353.09C469.04,350.32 469.67,346.72 470.28,343.12C470.89,339.52 471.45,335.65 471.94,331.50C472.44,327.34 472.88,322.64 473.27,318.21C473.66,313.78 473.99,309.07 474.27,304.92C474.55,300.76 474.68,296.28 474.93,293.29C475.18,290.30 475.49,286.98 475.76,286.98C476.04,286.98 476.32,290.30 476.59,293.29C476.87,296.28 477.09,300.49 477.43,304.92C477.76,309.35 478.17,315.16 478.59,319.87C479.00,324.57 479.42,329.00 479.92,333.16C480.42,337.31 480.89,341.18 481.58,344.78C482.27,348.38 483.10,352.07 484.07,354.75C485.04,357.44 486.28,359.51 487.39,360.90C488.50,362.28 489.75,362.60 490.71,363.06C491.68,363.52 492.29,363.55 493.21,363.65C494.12,363.75 495.71,363.65 496.21,363.65L505.21,363.65" fill="none" stroke="rgba(250,185,200,0.85)" stroke-width="1.00" stroke-linejoin="round"/>
<path d="M458.31,363.65C458.81,363.65 460.62,363.75 461.31,363.65C462.01,363.55 461.87,363.57 462.48,363.06C463.08,362.54 464.14,361.95 464.97,360.56C465.80,359.18 466.68,357.10 467.46,354.75C468.23,352.40 468.93,349.49 469.62,346.45C470.31,343.40 471.00,339.80 471.61,336.48C472.22,333.16 472.77,329.83 473.27,326.51C473.77,323.19 474.19,319.45 474.60,316.54C475.02,313.64 475.38,310.87 475.76,309.07C476.15,307.27 476.51,305.61 476.93,305.75C477.34,305.89 477.81,307.82 478.26,309.90C478.70,311.98 479.09,314.88 479.58,318.21C480.08,321.53 480.64,325.96 481.25,329.83C481.85,333.71 482.49,337.86 483.24,341.46C483.99,345.06 484.76,348.52 485.73,351.43C486.70,354.34 487.95,357.10 489.05,358.90C490.16,360.70 491.41,361.43 492.38,362.23C493.34,363.02 493.95,363.41 494.87,363.65C495.78,363.89 497.37,363.65 497.87,363.65Z" fill="rgba(176,196,222,0.25)" stroke="none"/>
<path d="M458.31,363.65L458.31,363.65C458.81,363.65 460.62,363.75 461.31,363.65C462.01,363.55 461.87,363.57 462.48,363.06C463.08,362.54 464.14,361.95 464.97,360.56C465.80,359.18 466.68,357.10 467.46,354.75C468.23,352.40 468.93,349.49 469.62,346.45C470.31,343.40 471.00,339.80 471.61,336.48C472.22,333.16 472.77,329.83 473.27,326.51C473.77,323.19 474.19,319.45 474.60,316.54C475.02,313.64 475.38,310.87 475.76,309.07C476.15,307.27 476.51,305.61 476.93,305.75C477.34,305.89 477.81,307.82 478.26,309.90C478.70,311.98 479.09,314.88 479.58,318.21C480.08,321.53 480.64,325.96 481.25,329.83C481.85,333.71 482.49,337.86 483.24,341.46C483.99,345.06 484.76,348.52 485.73,351.43C486.70,354.34 487.95,357.10 489.05,358.90C490.16,360.70 491.41,361.43 492.38,362.23C493.34,363.02 493.95,363.41 494.87,363.65C495.78,363.89 497.37,363.65 497.87,363.65L506.87,363.65" fill="none" stroke="rgba(172,182,208,0.9)" stroke-width="1.00" stroke-linejoin="round"/>
<path d="M456.65,363.65C457.15,363.65 458.96,364.03 459.65,363.65C460.34,363.27 460.34,362.60 460.81,361.40C461.28,360.19 462.00,358.02 462.48,356.41C462.95,354.81 463.17,353.42 463.64,351.76C464.11,350.10 464.75,348.99 465.30,346.45C465.85,343.90 466.46,339.80 466.96,336.48C467.46,333.16 467.85,329.83 468.29,326.51C468.73,323.19 469.20,319.45 469.62,316.54C470.03,313.64 470.37,310.95 470.78,309.07C471.20,307.19 471.64,305.25 472.11,305.25C472.58,305.25 473.13,307.19 473.60,309.07C474.08,310.95 474.44,313.36 474.93,316.54C475.43,319.73 475.99,324.30 476.59,328.17C477.20,332.05 477.90,336.20 478.59,339.80C479.28,343.40 479.97,346.86 480.75,349.77C481.52,352.67 482.27,355.30 483.24,357.24C484.21,359.18 485.59,360.33 486.56,361.40C487.53,362.46 488.14,363.27 489.05,363.65C489.97,364.03 491.55,363.65 492.05,363.65Z" fill="rgba(219,112,147,0.25)" stroke="none"/>
<path d="M456.65,363.65L456.65,363.65C457.15,363.65 458.96,364.03 459.65,363.65C460.34,363.27 460.34,362.60 460.81,361.40C461.28,360.19 462.00,358.02 462.48,356.41C462.95,354.81 463.17,353.42 463.64,351.76C464.11,350.10 464.75,348.99 465.30,346.45C465.85,343.90 466.46,339.80 466.96,336.48C467.46,333.16 467.85,329.83 468.29,326.51C468.73,323.19 469.20,319.45 469.62,316.54C470.03,313.64 470.37,310.95 470.78,309.07C471.20,307.19 471.64,305.25 472.11,305.25C472.58,305.25 473.13,307.19 473.60,309.07C474.08,310.95 474.44,313.36 474.93,316.54C475.43,319.73 475.99,324.30 476.59,328.17C477.20,332.05 477.90,336.20 478.59,339.80C479.28,343.40 479.97,346.86 480.75,349.77C481.52,352.67 482.27,355.30 483.24,357.24C484.21,359.18 485.59,360.33 486.56,361.40C487.53,362.46 488.14,363.27 489.05,363.65C489.97,364.03 491.55,363.65 492.05,363.65L501.05,363.65" fill="none" stroke="rgb(219,112,147)" stroke-width="1.05" stroke-linejoin="round"/>
<path d="M455.65,363.65C456.15,363.65 457.93,363.86 458.65,363.65C459.38,363.44 459.49,363.18 459.98,362.39C460.48,361.60 461.09,360.45 461.64,358.90C462.20,357.35 462.75,355.44 463.31,353.09C463.86,350.74 464.41,348.11 464.97,344.78C465.52,341.46 466.07,336.70 466.63,333.16C467.18,329.61 467.74,325.74 468.29,323.52C468.84,321.31 469.31,320.64 469.95,319.87C470.59,319.09 471.42,318.95 472.11,318.87C472.80,318.79 473.49,318.65 474.10,319.37C474.71,320.09 475.07,320.89 475.76,323.19C476.46,325.49 477.43,329.83 478.26,333.16C479.09,336.48 479.92,340.08 480.75,343.12C481.58,346.17 482.27,348.94 483.24,351.43C484.21,353.92 485.45,356.41 486.56,358.07C487.67,359.73 488.78,360.59 489.88,361.40C490.99,362.20 492.24,362.51 493.21,362.89C494.17,363.27 494.78,363.52 495.70,363.65C496.61,363.78 498.20,363.65 498.70,363.65Z" fill="rgba(65,105,225,0.25)" stroke="none"/>
<path d="M455.65,363.65L455.65,363.65C456.15,363.65 457.93,363.86 458.65,363.65C459.38,363.44 459.49,363.18 459.98,362.39C460.48,361.60 461.09,360.45 461.64,358.90C462.20,357.35 462.75,355.44 463.31,353.09C463.86,350.74 464.41,348.11 464.97,344.78C465.52,341.46 466.07,336.70 466.63,333.16C467.18,329.61 467.74,325.74 468.29,323.52C468.84,321.31 469.31,320.64 469.95,319.87C470.59,319.09 471.42,318.95 472.11,318.87C472.80,318.79 473.49,318.65 474.10,319.37C474.71,320.09 475.07,320.89 475.76,323.19C476.46,325.49 477.43,329.83 478.26,333.16C479.09,336.48 479.92,340.08 480.75,343.12C481.58,346.17 482.27,348.94 483.24,351.43C484.21,353.92 485.45,356.41 486.56,358.07C487.67,359.73 488.78,360.59 489.88,361.40C490.99,362.20 492.24,362.51 493.21,362.89C494.17,363.27 494.78,363.52 495.70,363.65C496.61,363.78 498.20,363.65 498.70,363.65L507.70,363.65" fill="none" stroke="rgb(65,105,225)" stroke-width="1.05" stroke-linejoin="round"/>
</g>
<rect x="452.72" y="252.95" width="95.30" height="110.70" fill="none" stroke="#4a4a4a" stroke-width="1.0"/>
<line x1="449.52" y1="363.65" x2="452.72" y2="363.65" stroke="#4a4a4a" stroke-width="1.0"/>
<line x1="449.52" y1="342.66" x2="452.72" y2="342.66" stroke="#4a4a4a" stroke-width="1.0"/>
<line x1="449.52" y1="321.67" x2="452.72" y2="321.67" stroke="#4a4a4a" stroke-width="1.0"/>
<line x1="449.52" y1="300.68" x2="452.72" y2="300.68" stroke="#4a4a4a" stroke-width="1.0"/>
<line x1="449.52" y1="279.69" x2="452.72" y2="279.69" stroke="#4a4a4a" stroke-width="1.0"/>
<line x1="449.52" y1="258.70" x2="452.72" y2="258.70" stroke="#4a4a4a" stroke-width="1.0"/>
<line x1="456.62" y1="363.65" x2="456.62" y2="366.85" stroke="#4a4a4a" stroke-width="1.0"/>
<line x1="491.47" y1="363.65" x2="491.47" y2="366.85" stroke="#4a4a4a" stroke-width="1.0"/>
<line x1="526.32" y1="363.65" x2="526.32" y2="366.85" stroke="#4a4a4a" stroke-width="1.0"/>
<text x="500.37" y="264.85" font-size="8.6" style="stroke-width:0.1px" text-anchor="middle" textLength="67.46" lengthAdjust="spacingAndGlyphs">#19: Pz*, D=2.8</text>
<clipPath id="cp19"><rect x="561.00" y="252.95" width="95.30" height="110.70"/></clipPath>
<g clip-path="url(#cp19)">
<path d="M567.91,363.65C568.41,363.64 570.12,363.82 570.91,363.58C571.70,363.33 571.88,363.17 572.67,362.17C573.46,361.17 574.75,359.83 575.65,357.60C576.56,355.37 577.41,352.04 578.11,348.81C578.82,345.59 579.34,342.08 579.87,338.27C580.40,334.46 580.87,330.07 581.28,325.97C581.69,321.87 582.04,317.77 582.33,313.66C582.63,309.56 582.80,305.46 583.04,301.36C583.27,297.26 583.50,292.43 583.74,289.06C583.97,285.69 584.21,281.15 584.44,281.15C584.68,281.15 584.91,285.69 585.14,289.06C585.38,292.43 585.58,296.97 585.85,301.36C586.11,305.76 586.37,310.44 586.73,315.42C587.08,320.40 587.52,326.26 587.96,331.24C588.40,336.22 588.78,341.20 589.36,345.30C589.95,349.40 590.59,353.21 591.47,355.84C592.35,358.48 593.52,359.89 594.63,361.12C595.75,362.35 597.12,362.81 598.15,363.22C599.17,363.64 599.85,363.51 600.79,363.58C601.72,363.65 603.29,363.64 603.79,363.65Z" fill="rgba(255,192,203,0.25)" stroke="none"/>
<path d="M567.91,363.65L567.91,363.65C568.41,363.64 570.12,363.82 570.91,363.58C571.70,363.33 571.88,363.17 572.67,362.17C573.46,361.17 574.75,359.83 575.65,357.60C576.56,355.37 577.41,352.04 578.11,348.81C578.82,345.59 579.34,342.08 579.87,338.27C580.40,334.46 580.87,330.07 581.28,325.97C581.69,321.87 582.04,317.77 582.33,313.66C582.63,309.56 582.80,305.46 583.04,301.36C583.27,297.26 583.50,292.43 583.74,289.06C583.97,285.69 584.21,281.15 584.44,281.15C584.68,281.15 584.91,285.69 585.14,289.06C585.38,292.43 585.58,296.97 585.85,301.36C586.11,305.76 586.37,310.44 586.73,315.42C587.08,320.40 587.52,326.26 587.96,331.24C588.40,336.22 588.78,341.20 589.36,345.30C589.95,349.40 590.59,353.21 591.47,355.84C592.35,358.48 593.52,359.89 594.63,361.12C595.75,362.35 597.12,362.81 598.15,363.22C599.17,363.64 599.85,363.51 600.79,363.58C601.72,363.65 603.29,363.64 603.79,363.65L612.79,363.65" fill="none" stroke="rgba(250,185,200,0.85)" stroke-width="1.00" stroke-linejoin="round"/>
<path d="M567.91,363.65C568.41,363.64 570.09,363.79 570.91,363.58C571.73,363.36 572.02,363.28 572.84,362.35C573.66,361.41 574.92,360.06 575.83,357.95C576.74,355.84 577.59,352.83 578.29,349.69C578.99,346.56 579.52,342.81 580.05,339.15C580.57,335.49 581.04,331.68 581.45,327.72C581.86,323.77 582.19,319.82 582.51,315.42C582.83,311.03 583.12,305.32 583.39,301.36C583.65,297.41 583.86,294.10 584.09,291.70C584.32,289.29 584.53,286.80 584.79,286.95C585.06,287.10 585.38,289.59 585.67,292.57C585.96,295.56 586.23,300.19 586.55,304.88C586.87,309.56 587.22,315.42 587.60,320.69C587.99,325.97 588.34,331.82 588.83,336.51C589.33,341.20 589.92,345.45 590.59,348.81C591.27,352.18 591.97,354.61 592.88,356.72C593.79,358.83 594.87,360.33 596.04,361.47C597.21,362.61 598.76,363.21 599.91,363.58C601.05,363.94 602.41,363.64 602.91,363.65Z" fill="rgba(176,196,222,0.25)" stroke="none"/>
<path d="M567.91,363.65L567.91,363.65C568.41,363.64 570.09,363.79 570.91,363.58C571.73,363.36 572.02,363.28 572.84,362.35C573.66,361.41 574.92,360.06 575.83,357.95C576.74,355.84 577.59,352.83 578.29,349.69C578.99,346.56 579.52,342.81 580.05,339.15C580.57,335.49 581.04,331.68 581.45,327.72C581.86,323.77 582.19,319.82 582.51,315.42C582.83,311.03 583.12,305.32 583.39,301.36C583.65,297.41 583.86,294.10 584.09,291.70C584.32,289.29 584.53,286.80 584.79,286.95C585.06,287.10 585.38,289.59 585.67,292.57C585.96,295.56 586.23,300.19 586.55,304.88C586.87,309.56 587.22,315.42 587.60,320.69C587.99,325.97 588.34,331.82 588.83,336.51C589.33,341.20 589.92,345.45 590.59,348.81C591.27,352.18 591.97,354.61 592.88,356.72C593.79,358.83 594.87,360.33 596.04,361.47C597.21,362.61 598.76,363.21 599.91,363.58C601.05,363.94 602.41,363.64 602.91,363.65L611.91,363.65" fill="none" stroke="rgba(172,182,208,0.9)" stroke-width="1.00" stroke-linejoin="round"/>
<path d="M565.62,363.65C566.12,363.64 567.95,363.82 568.62,363.58C569.30,363.33 569.24,363.31 569.68,362.17C570.12,361.03 570.76,358.95 571.26,356.72C571.76,354.50 572.23,351.24 572.67,348.81C573.11,346.38 573.46,344.04 573.90,342.14C574.34,340.23 574.86,339.50 575.30,337.39C575.74,335.28 576.15,332.12 576.53,329.48C576.91,326.85 577.21,323.97 577.59,321.57C577.97,319.17 578.32,316.68 578.82,315.07C579.32,313.46 579.99,312.20 580.57,311.91C581.16,311.61 581.75,311.85 582.33,313.31C582.92,314.78 583.50,317.41 584.09,320.69C584.68,323.97 585.26,328.90 585.85,333.00C586.43,337.10 586.87,341.49 587.60,345.30C588.34,349.11 589.22,353.21 590.24,355.84C591.27,358.48 592.58,359.92 593.76,361.12C594.93,362.32 596.25,362.64 597.27,363.05C598.30,363.46 598.97,363.48 599.91,363.58C600.85,363.68 602.41,363.64 602.91,363.65Z" fill="rgba(219,112,147,0.25)" stroke="none"/>
<path d="M565.62,363.65L565.62,363.65C566.12,363.64 567.95,363.82 568.62,363.58C569.30,363.33 569.24,363.31 569.68,362.17C570.12,361.03 570.76,358.95 571.26,356.72C571.76,354.50 572.23,351.24 572.67,348.81C573.11,346.38 573.46,344.04 573.90,342.14C574.34,340.23 574.86,339.50 575.30,337.39C575.74,335.28 576.15,332.12 576.53,329.48C576.91,326.85 577.21,323.97 577.59,321.57C577.97,319.17 578.32,316.68 578.82,315.07C579.32,313.46 579.99,312.20 580.57,311.91C581.16,311.61 581.75,311.85 582.33,313.31C582.92,314.78 583.50,317.41 584.09,320.69C584.68,323.97 585.26,328.90 585.85,333.00C586.43,337.10 586.87,341.49 587.60,345.30C588.34,349.11 589.22,353.21 590.24,355.84C591.27,358.48 592.58,359.92 593.76,361.12C594.93,362.32 596.25,362.64 597.27,363.05C598.30,363.46 598.97,363.48 599.91,363.58C600.85,363.68 602.41,363.64 602.91,363.65L611.91,363.65" fill="none" stroke="rgb(219,112,147)" stroke-width="1.05" stroke-linejoin="round"/>
<path d="M565.62,363.65C566.12,363.64 567.89,363.82 568.62,363.58C569.36,363.33 569.50,363.17 570.03,362.17C570.56,361.17 571.20,359.68 571.79,357.60C572.37,355.52 572.96,352.62 573.54,349.69C574.13,346.76 574.78,343.10 575.30,340.03C575.83,336.95 576.27,333.79 576.71,331.24C577.15,328.69 577.53,326.35 577.94,324.74C578.35,323.13 578.73,322.83 579.17,321.57C579.61,320.31 580.05,318.64 580.57,317.18C581.10,315.71 581.75,312.64 582.33,312.79C582.92,312.93 583.50,315.57 584.09,318.06C584.68,320.55 585.26,324.36 585.85,327.72C586.43,331.09 586.96,334.75 587.60,338.27C588.25,341.78 588.89,345.74 589.71,348.81C590.53,351.89 591.41,354.67 592.53,356.72C593.64,358.77 595.02,360.09 596.39,361.12C597.77,362.14 599.47,362.46 600.79,362.87C602.10,363.28 603.21,363.45 604.30,363.58C605.39,363.71 606.80,363.64 607.30,363.65Z" fill="rgba(65,105,225,0.25)" stroke="none"/>
<path d="M565.62,363.65L565.62,363.65C566.12,363.64 567.89,363.82 568.62,363.58C569.36,363.33 569.50,363.17 570.03,362.17C570.56,361.17 571.20,359.68 571.79,357.60C572.37,355.52 572.96,352.62 573.54,349.69C574.13,346.76 574.78,343.10 575.30,340.03C575.83,336.95 576.27,333.79 576.71,331.24C577.15,328.69 577.53,326.35 577.94,324.74C578.35,323.13 578.73,322.83 579.17,321.57C579.61,320.31 580.05,318.64 580.57,317.18C581.10,315.71 581.75,312.64 582.33,312.79C582.92,312.93 583.50,315.57 584.09,318.06C584.68,320.55 585.26,324.36 585.85,327.72C586.43,331.09 586.96,334.75 587.60,338.27C588.25,341.78 588.89,345.74 589.71,348.81C590.53,351.89 591.41,354.67 592.53,356.72C593.64,358.77 595.02,360.09 596.39,361.12C597.77,362.14 599.47,362.46 600.79,362.87C602.10,363.28 603.21,363.45 604.30,363.58C605.39,363.71 606.80,363.64 607.30,363.65L616.30,363.65" fill="none" stroke="rgb(65,105,225)" stroke-width="1.05" stroke-linejoin="round"/>
</g>
<rect x="561.00" y="252.95" width="95.30" height="110.70" fill="none" stroke="#4a4a4a" stroke-width="1.0"/>
<line x1="557.80" y1="363.65" x2="561.00" y2="363.65" stroke="#4a4a4a" stroke-width="1.0"/>
<line x1="557.80" y1="342.66" x2="561.00" y2="342.66" stroke="#4a4a4a" stroke-width="1.0"/>
<line x1="557.80" y1="321.67" x2="561.00" y2="321.67" stroke="#4a4a4a" stroke-width="1.0"/>
<line x1="557.80" y1="300.68" x2="561.00" y2="300.68" stroke="#4a4a4a" stroke-width="1.0"/>
<line x1="557.80" y1="279.69" x2="561.00" y2="279.69" stroke="#4a4a4a" stroke-width="1.0"/>
<line x1="557.80" y1="258.70" x2="561.00" y2="258.70" stroke="#4a4a4a" stroke-width="1.0"/>
<line x1="564.90" y1="363.65" x2="564.90" y2="366.85" stroke="#4a4a4a" stroke-width="1.0"/>
<line x1="599.75" y1="363.65" x2="599.75" y2="366.85" stroke="#4a4a4a" stroke-width="1.0"/>
<line x1="634.60" y1="363.65" x2="634.60" y2="366.85" stroke="#4a4a4a" stroke-width="1.0"/>
<text x="608.65" y="264.85" font-size="8.6" style="stroke-width:0.1px" text-anchor="middle" textLength="69.88" lengthAdjust="spacingAndGlyphs">#20: O2*, D=2.7</text>
<clipPath id="cp20"><rect x="669.28" y="252.95" width="95.30" height="110.70"/></clipPath>
<g clip-path="url(#cp20)">
<path d="M673.13,363.65C673.63,363.64 675.39,363.86 676.13,363.61C676.88,363.36 677.09,363.12 677.60,362.14C678.11,361.16 678.65,359.75 679.21,357.74C679.77,355.74 680.38,352.85 680.97,350.12C681.56,347.38 682.14,344.25 682.73,341.32C683.32,338.39 683.90,335.50 684.49,332.52C685.08,329.54 685.66,326.31 686.25,323.43C686.84,320.55 687.45,317.32 688.01,315.22C688.57,313.12 689.11,311.11 689.62,310.82C690.13,310.53 690.57,311.51 691.09,313.46C691.60,315.42 692.19,319.25 692.70,322.55C693.21,325.85 693.65,329.69 694.17,333.26C694.68,336.82 695.19,340.66 695.78,343.96C696.37,347.26 696.93,350.43 697.69,353.05C698.44,355.66 699.40,358.06 700.33,359.65C701.25,361.24 702.28,361.92 703.26,362.58C704.24,363.24 705.20,363.43 706.19,363.61C707.18,363.79 708.69,363.64 709.19,363.65Z" fill="rgba(255,192,203,0.25)" stroke="none"/>
<path d="M673.13,363.65L673.13,363.65C673.63,363.64 675.39,363.86 676.13,363.61C676.88,363.36 677.09,363.12 677.60,362.14C678.11,361.16 678.65,359.75 679.21,357.74C679.77,355.74 680.38,352.85 680.97,350.12C681.56,347.38 682.14,344.25 682.73,341.32C683.32,338.39 683.90,335.50 684.49,332.52C685.08,329.54 685.66,326.31 686.25,323.43C686.84,320.55 687.45,317.32 688.01,315.22C688.57,313.12 689.11,311.11 689.62,310.82C690.13,310.53 690.57,311.51 691.09,313.46C691.60,315.42 692.19,319.25 692.70,322.55C693.21,325.85 693.65,329.69 694.17,333.26C694.68,336.82 695.19,340.66 695.78,343.96C696.37,347.26 696.93,350.43 697.69,353.05C698.44,355.66 699.40,358.06 700.33,359.65C701.25,361.24 702.28,361.92 703.26,362.58C704.24,363.24 705.20,363.43 706.19,363.61C707.18,363.79 708.69,363.64 709.19,363.65L718.19,363.65" fill="none" stroke="rgba(250,185,200,0.85)" stroke-width="1.00" stroke-linejoin="round"/>
<path d="M673.13,363.65C673.63,363.64 675.36,363.83 676.13,363.61C676.90,363.38 677.18,363.24 677.74,362.29C678.31,361.33 678.92,359.87 679.50,357.89C680.09,355.91 680.68,353.12 681.26,350.41C681.85,347.70 682.44,344.55 683.02,341.61C683.61,338.68 684.20,335.80 684.78,332.82C685.37,329.83 685.96,326.58 686.54,323.72C687.13,320.87 687.72,317.66 688.30,315.66C688.89,313.66 689.50,311.87 690.06,311.70C690.62,311.53 691.14,312.68 691.67,314.63C692.21,316.59 692.77,320.21 693.29,323.43C693.80,326.66 694.24,330.52 694.75,333.99C695.27,337.46 695.78,341.03 696.37,344.25C696.95,347.48 697.52,350.75 698.27,353.34C699.03,355.93 699.96,358.23 700.91,359.79C701.87,361.36 702.99,362.09 703.99,362.73C704.99,363.36 705.93,363.45 706.92,363.61C707.91,363.76 709.42,363.64 709.92,363.65Z" fill="rgba(176,196,222,0.25)" stroke="none"/>
<path d="M673.13,363.65L673.13,363.65C673.63,363.64 675.36,363.83 676.13,363.61C676.90,363.38 677.18,363.24 677.74,362.29C678.31,361.33 678.92,359.87 679.50,357.89C680.09,355.91 680.68,353.12 681.26,350.41C681.85,347.70 682.44,344.55 683.02,341.61C683.61,338.68 684.20,335.80 684.78,332.82C685.37,329.83 685.96,326.58 686.54,323.72C687.13,320.87 687.72,317.66 688.30,315.66C688.89,313.66 689.50,311.87 690.06,311.70C690.62,311.53 691.14,312.68 691.67,314.63C692.21,316.59 692.77,320.21 693.29,323.43C693.80,326.66 694.24,330.52 694.75,333.99C695.27,337.46 695.78,341.03 696.37,344.25C696.95,347.48 697.52,350.75 698.27,353.34C699.03,355.93 699.96,358.23 700.91,359.79C701.87,361.36 702.99,362.09 703.99,362.73C704.99,363.36 705.93,363.45 706.92,363.61C707.91,363.76 709.42,363.64 709.92,363.65L718.92,363.65" fill="none" stroke="rgba(172,182,208,0.9)" stroke-width="1.00" stroke-linejoin="round"/>
<path d="M672.40,363.65C672.90,363.64 674.65,363.88 675.40,363.61C676.14,363.33 676.38,363.02 676.87,361.99C677.35,360.97 677.79,359.43 678.33,357.45C678.87,355.47 679.48,352.81 680.09,350.12C680.70,347.43 681.36,344.25 682.00,341.32C682.63,338.39 683.29,335.45 683.90,332.52C684.51,329.59 685.05,326.61 685.66,323.72C686.27,320.84 686.98,317.17 687.57,315.22C688.16,313.26 688.64,312.04 689.18,311.99C689.72,311.95 690.28,312.97 690.79,314.93C691.31,316.88 691.77,320.55 692.26,323.72C692.75,326.90 693.24,330.57 693.73,333.99C694.22,337.41 694.63,341.08 695.19,344.25C695.76,347.43 696.37,350.48 697.10,353.05C697.83,355.62 698.69,358.06 699.59,359.65C700.50,361.24 701.55,361.92 702.52,362.58C703.50,363.24 704.47,363.43 705.46,363.61C706.45,363.79 707.96,363.64 708.46,363.65Z" fill="rgba(219,112,147,0.25)" stroke="none"/>
<path d="M672.40,363.65L672.40,363.65C672.90,363.64 674.65,363.88 675.40,363.61C676.14,363.33 676.38,363.02 676.87,361.99C677.35,360.97 677.79,359.43 678.33,357.45C678.87,355.47 679.48,352.81 680.09,350.12C680.70,347.43 681.36,344.25 682.00,341.32C682.63,338.39 683.29,335.45 683.90,332.52C684.51,329.59 685.05,326.61 685.66,323.72C686.27,320.84 686.98,317.17 687.57,315.22C688.16,313.26 688.64,312.04 689.18,311.99C689.72,311.95 690.28,312.97 690.79,314.93C691.31,316.88 691.77,320.55 692.26,323.72C692.75,326.90 693.24,330.57 693.73,333.99C694.22,337.41 694.63,341.08 695.19,344.25C695.76,347.43 696.37,350.48 697.10,353.05C697.83,355.62 698.69,358.06 699.59,359.65C700.50,361.24 701.55,361.92 702.52,362.58C703.50,363.24 704.47,363.43 705.46,363.61C706.45,363.79 707.96,363.64 708.46,363.65L717.46,363.65" fill="none" stroke="rgb(219,112,147)" stroke-width="1.05" stroke-linejoin="round"/>
<path d="M672.11,363.65C672.61,363.64 674.43,363.69 675.11,363.61C675.78,363.53 675.64,363.46 676.13,363.17C676.62,362.87 677.38,362.92 678.04,361.85C678.70,360.77 679.43,358.91 680.09,356.72C680.75,354.52 681.43,351.46 682.00,348.65C682.56,345.84 682.97,342.79 683.46,339.85C683.95,336.92 684.47,333.99 684.93,331.06C685.39,328.12 685.83,325.19 686.25,322.26C686.66,319.33 687.03,316.15 687.42,313.46C687.81,310.77 688.20,307.96 688.60,306.13C688.99,304.30 689.38,302.46 689.77,302.46C690.16,302.46 690.57,304.30 690.94,306.13C691.31,307.96 691.63,310.77 691.97,313.46C692.31,316.15 692.63,319.08 692.99,322.26C693.36,325.43 693.75,329.10 694.17,332.52C694.58,335.94 695.00,339.61 695.49,342.79C695.98,345.96 696.49,349.02 697.10,351.58C697.71,354.15 698.37,356.52 699.15,358.18C699.93,359.84 700.81,360.75 701.79,361.55C702.77,362.36 704.04,362.68 705.02,363.02C706.00,363.36 706.72,363.50 707.66,363.61C708.60,363.71 710.16,363.64 710.66,363.65Z" fill="rgba(65,105,225,0.25)" stroke="none"/>
<path d="M672.11,363.65L672.11,363.65C672.61,363.64 674.43,363.69 675.11,363.61C675.78,363.53 675.64,363.46 676.13,363.17C676.62,362.87 677.38,362.92 678.04,361.85C678.70,360.77 679.43,358.91 680.09,356.72C680.75,354.52 681.43,351.46 682.00,348.65C682.56,345.84 682.97,342.79 683.46,339.85C683.95,336.92 684.47,333.99 684.93,331.06C685.39,328.12 685.83,325.19 686.25,322.26C686.66,319.33 687.03,316.15 687.42,313.46C687.81,310.77 688.20,307.96 688.60,306.13C688.99,304.30 689.38,302.46 689.77,302.46C690.16,302.46 690.57,304.30 690.94,306.13C691.31,307.96 691.63,310.77 691.97,313.46C692.31,316.15 692.63,319.08 692.99,322.26C693.36,325.43 693.75,329.10 694.17,332.52C694.58,335.94 695.00,339.61 695.49,342.79C695.98,345.96 696.49,349.02 697.10,351.58C697.71,354.15 698.37,356.52 699.15,358.18C699.93,359.84 700.81,360.75 701.79,361.55C702.77,362.36 704.04,362.68 705.02,363.02C706.00,363.36 706.72,363.50 707.66,363.61C708.60,363.71 710.16,363.64 710.66,363.65L719.66,363.65" fill="none" stroke="rgb(65,105,225)" stroke-width="1.05" stroke-linejoin="round"/>
</g>
<rect x="669.28" y="252.95" width="95.30" height="110.70" fill="none" stroke="#4a4a4a" stroke-width="1.0"/>
<line x1="666.08" y1="363.65" x2="669.28" y2="363.65" stroke="#4a4a4a" stroke-width="1.0"/>
<line x1="666.08" y1="342.66" x2="669.28" y2="342.66" stroke="#4a4a4a" stroke-width="1.0"/>
<line x1="666.08" y1="321.67" x2="669.28" y2="321.67" stroke="#4a4a4a" stroke-width="1.0"/>
<line x1="666.08" y1="300.68" x2="669.28" y2="300.68" stroke="#4a4a4a" stroke-width="1.0"/>
<line x1="666.08" y1="279.69" x2="669.28" y2="279.69" stroke="#4a4a4a" stroke-width="1.0"/>
<line x1="666.08" y1="258.70" x2="669.28" y2="258.70" stroke="#4a4a4a" stroke-width="1.0"/>
<line x1="673.18" y1="363.65" x2="673.18" y2="366.85" stroke="#4a4a4a" stroke-width="1.0"/>
<line x1="708.03" y1="363.65" x2="708.03" y2="366.85" stroke="#4a4a4a" stroke-width="1.0"/>
<line x1="742.88" y1="363.65" x2="742.88" y2="366.85" stroke="#4a4a4a" stroke-width="1.0"/>
<text x="716.93" y="264.85" font-size="8.6" style="stroke-width:0.1px" text-anchor="middle" textLength="64.05" lengthAdjust="spacingAndGlyphs">#21: F8, D=1.4</text>
<clipPath id="cp21"><rect x="19.60" y="376.80" width="95.30" height="110.70"/></clipPath>
<g clip-path="url(#cp21)">
<path d="M23.95,487.50C24.45,487.48 26.01,487.93 26.95,487.39C27.88,486.85 28.69,486.08 29.56,484.26C30.42,482.44 31.38,479.77 32.16,476.44C32.94,473.11 33.61,468.62 34.25,464.28C34.88,459.94 35.46,455.02 35.98,450.38C36.50,445.75 36.94,440.83 37.37,436.48C37.81,432.14 38.21,427.65 38.59,424.32C38.97,420.99 39.26,418.68 39.63,416.50C40.01,414.33 40.44,411.29 40.85,411.29C41.25,411.29 41.66,413.75 42.06,416.50C42.47,419.26 42.85,423.31 43.28,427.80C43.71,432.29 44.15,438.22 44.67,443.43C45.19,448.64 45.74,454.15 46.41,459.07C47.07,463.99 47.80,469.20 48.67,472.97C49.53,476.73 50.46,479.48 51.62,481.65C52.78,483.83 54.37,485.04 55.62,486.00C56.86,486.95 58.01,487.14 59.09,487.39C60.17,487.64 61.59,487.48 62.09,487.50Z" fill="rgba(255,192,203,0.25)" stroke="none"/>
<path d="M23.95,487.50L23.95,487.50C24.45,487.48 26.01,487.93 26.95,487.39C27.88,486.85 28.69,486.08 29.56,484.26C30.42,482.44 31.38,479.77 32.16,476.44C32.94,473.11 33.61,468.62 34.25,464.28C34.88,459.94 35.46,455.02 35.98,450.38C36.50,445.75 36.94,440.83 37.37,436.48C37.81,432.14 38.21,427.65 38.59,424.32C38.97,420.99 39.26,418.68 39.63,416.50C40.01,414.33 40.44,411.29 40.85,411.29C41.25,411.29 41.66,413.75 42.06,416.50C42.47,419.26 42.85,423.31 43.28,427.80C43.71,432.29 44.15,438.22 44.67,443.43C45.19,448.64 45.74,454.15 46.41,459.07C47.07,463.99 47.80,469.20 48.67,472.97C49.53,476.73 50.46,479.48 51.62,481.65C52.78,483.83 54.37,485.04 55.62,486.00C56.86,486.95 58.01,487.14 59.09,487.39C60.17,487.64 61.59,487.48 62.09,487.50L71.09,487.50" fill="none" stroke="rgba(250,185,200,0.85)" stroke-width="1.00" stroke-linejoin="round"/>
<path d="M23.60,487.50C24.10,487.48 25.70,487.84 26.60,487.39C27.51,486.93 28.22,486.46 29.03,484.78C29.84,483.10 30.71,480.58 31.47,477.31C32.22,474.04 32.91,469.64 33.55,465.15C34.19,460.66 34.77,455.30 35.29,450.38C35.81,445.46 36.24,439.96 36.68,435.62C37.11,431.27 37.55,427.36 37.89,424.32C38.24,421.28 38.47,418.97 38.76,417.37C39.05,415.78 39.28,414.62 39.63,414.77C39.98,414.91 40.41,415.78 40.85,418.24C41.28,420.70 41.75,425.05 42.24,429.53C42.73,434.02 43.22,439.96 43.80,445.17C44.38,450.38 44.99,456.03 45.71,460.81C46.44,465.58 47.22,470.30 48.14,473.84C49.07,477.37 50.03,479.95 51.27,482.00C52.52,484.06 54.17,485.27 55.62,486.17C57.06,487.07 58.73,487.17 59.96,487.39C61.18,487.61 62.46,487.48 62.96,487.50Z" fill="rgba(176,196,222,0.25)" stroke="none"/>
<path d="M23.60,487.50L23.60,487.50C24.10,487.48 25.70,487.84 26.60,487.39C27.51,486.93 28.22,486.46 29.03,484.78C29.84,483.10 30.71,480.58 31.47,477.31C32.22,474.04 32.91,469.64 33.55,465.15C34.19,460.66 34.77,455.30 35.29,450.38C35.81,445.46 36.24,439.96 36.68,435.62C37.11,431.27 37.55,427.36 37.89,424.32C38.24,421.28 38.47,418.97 38.76,417.37C39.05,415.78 39.28,414.62 39.63,414.77C39.98,414.91 40.41,415.78 40.85,418.24C41.28,420.70 41.75,425.05 42.24,429.53C42.73,434.02 43.22,439.96 43.80,445.17C44.38,450.38 44.99,456.03 45.71,460.81C46.44,465.58 47.22,470.30 48.14,473.84C49.07,477.37 50.03,479.95 51.27,482.00C52.52,484.06 54.17,485.27 55.62,486.17C57.06,487.07 58.73,487.17 59.96,487.39C61.18,487.61 62.46,487.48 62.96,487.50L71.96,487.50" fill="none" stroke="rgba(172,182,208,0.9)" stroke-width="1.00" stroke-linejoin="round"/>
<path d="M22.21,487.50C22.71,487.48 24.42,487.72 25.21,487.39C26.00,487.05 26.23,487.01 26.95,485.48C27.67,483.94 28.77,481.42 29.56,478.18C30.34,474.94 30.97,470.65 31.64,466.02C32.31,461.39 32.97,455.59 33.55,450.38C34.13,445.17 34.65,439.09 35.11,434.75C35.58,430.40 35.95,426.87 36.33,424.32C36.71,421.77 36.97,419.46 37.37,419.46C37.78,419.46 38.30,421.48 38.76,424.32C39.23,427.16 39.63,431.85 40.15,436.48C40.67,441.12 41.25,447.20 41.89,452.12C42.53,457.04 43.22,461.96 43.97,466.02C44.73,470.07 45.48,473.55 46.41,476.44C47.33,479.34 48.29,481.71 49.53,483.39C50.78,485.07 52.57,485.85 53.88,486.52C55.18,487.18 56.27,487.22 57.35,487.39C58.43,487.55 59.85,487.48 60.35,487.50Z" fill="rgba(219,112,147,0.25)" stroke="none"/>
<path d="M22.21,487.50L22.21,487.50C22.71,487.48 24.42,487.72 25.21,487.39C26.00,487.05 26.23,487.01 26.95,485.48C27.67,483.94 28.77,481.42 29.56,478.18C30.34,474.94 30.97,470.65 31.64,466.02C32.31,461.39 32.97,455.59 33.55,450.38C34.13,445.17 34.65,439.09 35.11,434.75C35.58,430.40 35.95,426.87 36.33,424.32C36.71,421.77 36.97,419.46 37.37,419.46C37.78,419.46 38.30,421.48 38.76,424.32C39.23,427.16 39.63,431.85 40.15,436.48C40.67,441.12 41.25,447.20 41.89,452.12C42.53,457.04 43.22,461.96 43.97,466.02C44.73,470.07 45.48,473.55 46.41,476.44C47.33,479.34 48.29,481.71 49.53,483.39C50.78,485.07 52.57,485.85 53.88,486.52C55.18,487.18 56.27,487.22 57.35,487.39C58.43,487.55 59.85,487.48 60.35,487.50L69.35,487.50" fill="none" stroke="rgb(219,112,147)" stroke-width="1.05" stroke-linejoin="round"/>
<path d="M22.21,487.50C22.71,487.48 24.36,487.72 25.21,487.39C26.06,487.05 26.49,487.01 27.30,485.48C28.11,483.94 29.27,481.42 30.08,478.18C30.89,474.94 31.52,470.65 32.16,466.02C32.80,461.39 33.38,455.59 33.90,450.38C34.42,445.17 34.85,439.38 35.29,434.75C35.72,430.11 36.07,425.77 36.50,422.59C36.94,419.40 37.40,415.64 37.89,415.64C38.39,415.64 38.97,419.40 39.46,422.59C39.95,425.77 40.33,430.11 40.85,434.75C41.37,439.38 41.95,445.46 42.59,450.38C43.22,455.30 43.86,460.23 44.67,464.28C45.48,468.33 46.35,471.66 47.45,474.70C48.55,477.74 49.91,480.64 51.27,482.52C52.63,484.40 54.17,485.19 55.62,486.00C57.06,486.81 58.73,487.14 59.96,487.39C61.18,487.64 62.46,487.48 62.96,487.50Z" fill="rgba(65,105,225,0.25)" stroke="none"/>
<path d="M22.21,487.50L22.21,487.50C22.71,487.48 24.36,487.72 25.21,487.39C26.06,487.05 26.49,487.01 27.30,485.48C28.11,483.94 29.27,481.42 30.08,478.18C30.89,474.94 31.52,470.65 32.16,466.02C32.80,461.39 33.38,455.59 33.90,450.38C34.42,445.17 34.85,439.38 35.29,434.75C35.72,430.11 36.07,425.77 36.50,422.59C36.94,419.40 37.40,415.64 37.89,415.64C38.39,415.64 38.97,419.40 39.46,422.59C39.95,425.77 40.33,430.11 40.85,434.75C41.37,439.38 41.95,445.46 42.59,450.38C43.22,455.30 43.86,460.23 44.67,464.28C45.48,468.33 46.35,471.66 47.45,474.70C48.55,477.74 49.91,480.64 51.27,482.52C52.63,484.40 54.17,485.19 55.62,486.00C57.06,486.81 58.73,487.14 59.96,487.39C61.18,487.64 62.46,487.48 62.96,487.50L71.96,487.50" fill="none" stroke="rgb(65,105,225)" stroke-width="1.05" stroke-linejoin="round"/>
</g>
<rect x="19.60" y="376.80" width="95.30" height="110.70" fill="none" stroke="#4a4a4a" stroke-width="1.0"/>
<line x1="16.40" y1="487.50" x2="19.60" y2="487.50" stroke="#4a4a4a" stroke-width="1.0"/>
<line x1="16.40" y1="466.51" x2="19.60" y2="466.51" stroke="#4a4a4a" stroke-width="1.0"/>
<line x1="16.40" y1="445.52" x2="19.60" y2="445.52" stroke="#4a4a4a" stroke-width="1.0"/>
<line x1="16.40" y1="424.53" x2="19.60" y2="424.53" stroke="#4a4a4a" stroke-width="1.0"/>
<line x1="16.40" y1="403.54" x2="19.60" y2="403.54" stroke="#4a4a4a" stroke-width="1.0"/>
<line x1="16.40" y1="382.55" x2="19.60" y2="382.55" stroke="#4a4a4a" stroke-width="1.0"/>
<line x1="23.50" y1="487.50" x2="23.50" y2="490.70" stroke="#4a4a4a" stroke-width="1.0"/>
<line x1="58.35" y1="487.50" x2="58.35" y2="490.70" stroke="#4a4a4a" stroke-width="1.0"/>
<line x1="93.20" y1="487.50" x2="93.20" y2="490.70" stroke="#4a4a4a" stroke-width="1.0"/>
<text x="67.25" y="388.70" font-size="8.6" style="stroke-width:0.1px" text-anchor="middle" textLength="68.15" lengthAdjust="spacingAndGlyphs">#22: F4*, D=2.2</text>
<clipPath id="cp22"><rect x="127.88" y="376.80" width="95.30" height="110.70"/></clipPath>
<g clip-path="url(#cp22)">
<path d="M131.08,487.50C131.58,487.48 133.38,487.64 134.08,487.39C134.78,487.14 134.72,487.10 135.30,486.00C135.88,484.90 136.80,483.25 137.56,480.79C138.31,478.32 139.09,475.14 139.81,471.23C140.54,467.32 141.26,462.25 141.90,457.33C142.54,452.41 143.11,446.91 143.64,441.70C144.16,436.48 144.62,430.55 145.03,426.06C145.43,421.57 145.72,417.52 146.07,414.77C146.42,412.02 146.73,409.41 147.11,409.56C147.49,409.70 147.89,412.60 148.33,415.64C148.76,418.68 149.20,423.16 149.72,427.80C150.24,432.43 150.79,438.22 151.45,443.43C152.12,448.64 152.84,454.15 153.71,459.07C154.58,463.99 155.59,469.20 156.67,472.97C157.74,476.73 158.98,479.48 160.14,481.65C161.30,483.83 162.46,485.04 163.62,486.00C164.77,486.95 166.01,487.14 167.09,487.39C168.17,487.64 169.59,487.48 170.09,487.50Z" fill="rgba(255,192,203,0.25)" stroke="none"/>
<path d="M131.08,487.50L131.08,487.50C131.58,487.48 133.38,487.64 134.08,487.39C134.78,487.14 134.72,487.10 135.30,486.00C135.88,484.90 136.80,483.25 137.56,480.79C138.31,478.32 139.09,475.14 139.81,471.23C140.54,467.32 141.26,462.25 141.90,457.33C142.54,452.41 143.11,446.91 143.64,441.70C144.16,436.48 144.62,430.55 145.03,426.06C145.43,421.57 145.72,417.52 146.07,414.77C146.42,412.02 146.73,409.41 147.11,409.56C147.49,409.70 147.89,412.60 148.33,415.64C148.76,418.68 149.20,423.16 149.72,427.80C150.24,432.43 150.79,438.22 151.45,443.43C152.12,448.64 152.84,454.15 153.71,459.07C154.58,463.99 155.59,469.20 156.67,472.97C157.74,476.73 158.98,479.48 160.14,481.65C161.30,483.83 162.46,485.04 163.62,486.00C164.77,486.95 166.01,487.14 167.09,487.39C168.17,487.64 169.59,487.48 170.09,487.50L179.09,487.50" fill="none" stroke="rgba(250,185,200,0.85)" stroke-width="1.00" stroke-linejoin="round"/>
<path d="M131.08,487.50C131.58,487.48 133.32,487.64 134.08,487.39C134.84,487.14 135.01,487.10 135.64,486.00C136.28,484.90 137.15,483.25 137.90,480.79C138.66,478.32 139.47,474.99 140.16,471.23C140.86,467.47 141.49,462.69 142.07,458.20C142.65,453.71 143.17,448.79 143.64,444.30C144.10,439.81 144.48,434.95 144.85,431.27C145.23,427.59 145.55,424.26 145.89,422.24C146.24,420.21 146.53,418.91 146.94,419.11C147.34,419.31 147.83,420.85 148.33,423.45C148.82,426.06 149.31,430.40 149.89,434.75C150.47,439.09 151.11,444.74 151.80,449.51C152.50,454.29 153.19,459.16 154.06,463.41C154.93,467.67 155.91,471.81 157.01,475.05C158.11,478.30 159.42,480.99 160.66,482.87C161.91,484.75 163.12,485.59 164.48,486.34C165.84,487.10 167.60,487.19 168.83,487.39C170.05,487.58 171.33,487.48 171.83,487.50Z" fill="rgba(176,196,222,0.25)" stroke="none"/>
<path d="M131.08,487.50L131.08,487.50C131.58,487.48 133.32,487.64 134.08,487.39C134.84,487.14 135.01,487.10 135.64,486.00C136.28,484.90 137.15,483.25 137.90,480.79C138.66,478.32 139.47,474.99 140.16,471.23C140.86,467.47 141.49,462.69 142.07,458.20C142.65,453.71 143.17,448.79 143.64,444.30C144.10,439.81 144.48,434.95 144.85,431.27C145.23,427.59 145.55,424.26 145.89,422.24C146.24,420.21 146.53,418.91 146.94,419.11C147.34,419.31 147.83,420.85 148.33,423.45C148.82,426.06 149.31,430.40 149.89,434.75C150.47,439.09 151.11,444.74 151.80,449.51C152.50,454.29 153.19,459.16 154.06,463.41C154.93,467.67 155.91,471.81 157.01,475.05C158.11,478.30 159.42,480.99 160.66,482.87C161.91,484.75 163.12,485.59 164.48,486.34C165.84,487.10 167.60,487.19 168.83,487.39C170.05,487.58 171.33,487.48 171.83,487.50L180.83,487.50" fill="none" stroke="rgba(172,182,208,0.9)" stroke-width="1.00" stroke-linejoin="round"/>
<path d="M130.21,487.50C130.71,487.48 132.48,487.64 133.21,487.39C133.94,487.14 134.08,486.95 134.60,486.00C135.12,485.04 135.76,483.83 136.34,481.65C136.92,479.48 137.50,476.44 138.08,472.97C138.66,469.49 139.32,465.15 139.81,460.81C140.31,456.46 140.62,451.54 141.03,446.91C141.44,442.27 141.87,437.35 142.25,433.01C142.62,428.67 142.91,423.80 143.29,420.85C143.66,417.89 144.07,415.29 144.50,415.29C144.94,415.29 145.46,417.89 145.89,420.85C146.33,423.80 146.62,428.38 147.11,433.01C147.60,437.64 148.21,443.72 148.85,448.64C149.48,453.57 150.12,458.20 150.93,462.54C151.74,466.89 152.76,471.52 153.71,474.70C154.67,477.89 155.59,479.83 156.67,481.65C157.74,483.48 158.98,484.69 160.14,485.65C161.30,486.61 162.54,487.08 163.62,487.39C164.69,487.70 166.12,487.48 166.62,487.50Z" fill="rgba(219,112,147,0.25)" stroke="none"/>
<path d="M130.21,487.50L130.21,487.50C130.71,487.48 132.48,487.64 133.21,487.39C133.94,487.14 134.08,486.95 134.60,486.00C135.12,485.04 135.76,483.83 136.34,481.65C136.92,479.48 137.50,476.44 138.08,472.97C138.66,469.49 139.32,465.15 139.81,460.81C140.31,456.46 140.62,451.54 141.03,446.91C141.44,442.27 141.87,437.35 142.25,433.01C142.62,428.67 142.91,423.80 143.29,420.85C143.66,417.89 144.07,415.29 144.50,415.29C144.94,415.29 145.46,417.89 145.89,420.85C146.33,423.80 146.62,428.38 147.11,433.01C147.60,437.64 148.21,443.72 148.85,448.64C149.48,453.57 150.12,458.20 150.93,462.54C151.74,466.89 152.76,471.52 153.71,474.70C154.67,477.89 155.59,479.83 156.67,481.65C157.74,483.48 158.98,484.69 160.14,485.65C161.30,486.61 162.54,487.08 163.62,487.39C164.69,487.70 166.12,487.48 166.62,487.50L175.62,487.50" fill="none" stroke="rgb(219,112,147)" stroke-width="1.05" stroke-linejoin="round"/>
<path d="M129.34,487.50C129.84,487.48 131.55,487.55 132.34,487.39C133.13,487.22 133.41,487.18 134.08,486.52C134.75,485.85 135.62,485.07 136.34,483.39C137.06,481.71 137.79,479.34 138.42,476.44C139.06,473.55 139.64,469.78 140.16,466.02C140.68,462.25 141.12,457.91 141.55,453.86C141.99,449.80 142.36,445.46 142.77,441.70C143.17,437.93 143.55,433.88 143.98,431.27C144.42,428.67 144.85,425.77 145.37,426.06C145.89,426.35 146.53,429.82 147.11,433.01C147.69,436.19 148.21,441.12 148.85,445.17C149.48,449.22 150.21,453.57 150.93,457.33C151.66,461.10 152.32,464.57 153.19,467.76C154.06,470.94 154.99,473.89 156.14,476.44C157.30,478.99 158.75,481.39 160.14,483.04C161.53,484.69 163.04,485.62 164.48,486.34C165.93,487.07 167.60,487.19 168.83,487.39C170.05,487.58 171.33,487.48 171.83,487.50Z" fill="rgba(65,105,225,0.25)" stroke="none"/>
<path d="M129.34,487.50L129.34,487.50C129.84,487.48 131.55,487.55 132.34,487.39C133.13,487.22 133.41,487.18 134.08,486.52C134.75,485.85 135.62,485.07 136.34,483.39C137.06,481.71 137.79,479.34 138.42,476.44C139.06,473.55 139.64,469.78 140.16,466.02C140.68,462.25 141.12,457.91 141.55,453.86C141.99,449.80 142.36,445.46 142.77,441.70C143.17,437.93 143.55,433.88 143.98,431.27C144.42,428.67 144.85,425.77 145.37,426.06C145.89,426.35 146.53,429.82 147.11,433.01C147.69,436.19 148.21,441.12 148.85,445.17C149.48,449.22 150.21,453.57 150.93,457.33C151.66,461.10 152.32,464.57 153.19,467.76C154.06,470.94 154.99,473.89 156.14,476.44C157.30,478.99 158.75,481.39 160.14,483.04C161.53,484.69 163.04,485.62 164.48,486.34C165.93,487.07 167.60,487.19 168.83,487.39C170.05,487.58 171.33,487.48 171.83,487.50L180.83,487.50" fill="none" stroke="rgb(65,105,225)" stroke-width="1.05" stroke-linejoin="round"/>
</g>
<rect x="127.88" y="376.80" width="95.30" height="110.70" fill="none" stroke="#4a4a4a" stroke-width="1.0"/>
<line x1="124.68" y1="487.50" x2="127.88" y2="487.50" stroke="#4a4a4a" stroke-width="1.0"/>
<line x1="124.68" y1="466.51" x2="127.88" y2="466.51" stroke="#4a4a4a" stroke-width="1.0"/>
<line x1="124.68" y1="445.52" x2="127.88" y2="445.52" stroke="#4a4a4a" stroke-width="1.0"/>
<line x1="124.68" y1="424.53" x2="127.88" y2="424.53" stroke="#4a4a4a" stroke-width="1.0"/>
<line x1="124.68" y1="403.54" x2="127.88" y2="403.54" stroke="#4a4a4a" stroke-width="1.0"/>
<line x1="124.68" y1="382.55" x2="127.88" y2="382.55" stroke="#4a4a4a" stroke-width="1.0"/>
<line x1="131.78" y1="487.50" x2="131.78" y2="490.70" stroke="#4a4a4a" stroke-width="1.0"/>
<line x1="166.63" y1="487.50" x2="166.63" y2="490.70" stroke="#4a4a4a" stroke-width="1.0"/>
<line x1="201.48" y1="487.50" x2="201.48" y2="490.70" stroke="#4a4a4a" stroke-width="1.0"/>
<text x="175.53" y="388.70" font-size="8.6" style="stroke-width:0.1px" text-anchor="middle" textLength="64.27" lengthAdjust="spacingAndGlyphs">#23: P3, D=1.5</text>
<clipPath id="cp23"><rect x="236.16" y="376.80" width="95.30" height="110.70"/></clipPath>
<g clip-path="url(#cp23)">
<path d="M239.60,487.50C240.10,487.48 241.81,487.70 242.60,487.39C243.39,487.08 243.70,487.04 244.34,485.65C244.98,484.26 245.73,482.03 246.42,479.05C247.12,476.07 247.87,471.95 248.51,467.76C249.15,463.56 249.67,458.49 250.25,453.86C250.83,449.22 251.43,444.01 251.98,439.96C252.53,435.90 253.03,431.91 253.55,429.53C254.07,427.16 254.59,425.86 255.11,425.71C255.63,425.57 256.15,426.73 256.67,428.67C257.20,430.61 257.69,433.73 258.24,437.35C258.79,440.97 259.34,445.89 259.97,450.38C260.61,454.87 261.31,460.08 262.06,464.28C262.81,468.48 263.57,472.45 264.49,475.57C265.42,478.70 266.43,481.22 267.62,483.04C268.81,484.87 270.37,485.79 271.62,486.52C272.86,487.24 274.01,487.22 275.09,487.39C276.17,487.55 277.59,487.48 278.09,487.50Z" fill="rgba(255,192,203,0.25)" stroke="none"/>
<path d="M239.60,487.50L239.60,487.50C240.10,487.48 241.81,487.70 242.60,487.39C243.39,487.08 243.70,487.04 244.34,485.65C244.98,484.26 245.73,482.03 246.42,479.05C247.12,476.07 247.87,471.95 248.51,467.76C249.15,463.56 249.67,458.49 250.25,453.86C250.83,449.22 251.43,444.01 251.98,439.96C252.53,435.90 253.03,431.91 253.55,429.53C254.07,427.16 254.59,425.86 255.11,425.71C255.63,425.57 256.15,426.73 256.67,428.67C257.20,430.61 257.69,433.73 258.24,437.35C258.79,440.97 259.34,445.89 259.97,450.38C260.61,454.87 261.31,460.08 262.06,464.28C262.81,468.48 263.57,472.45 264.49,475.57C265.42,478.70 266.43,481.22 267.62,483.04C268.81,484.87 270.37,485.79 271.62,486.52C272.86,487.24 274.01,487.22 275.09,487.39C276.17,487.55 277.59,487.48 278.09,487.50L287.09,487.50" fill="none" stroke="rgba(250,185,200,0.85)" stroke-width="1.00" stroke-linejoin="round"/>
<path d="M239.95,487.50C240.45,487.48 242.16,487.67 242.95,487.39C243.74,487.11 244.05,487.13 244.69,485.82C245.32,484.52 246.08,482.44 246.77,479.57C247.47,476.70 248.19,472.91 248.86,468.62C249.52,464.34 250.16,458.78 250.77,453.86C251.38,448.93 251.95,443.72 252.50,439.09C253.05,434.46 253.60,429.24 254.07,426.06C254.53,422.87 254.88,421.20 255.28,419.98C255.69,418.76 256.01,417.75 256.50,418.76C256.99,419.78 257.66,422.82 258.24,426.06C258.82,429.30 259.40,433.88 259.97,438.22C260.55,442.56 261.08,447.49 261.71,452.12C262.35,456.75 263.02,461.96 263.80,466.02C264.58,470.07 265.39,473.55 266.40,476.44C267.42,479.34 268.72,481.74 269.88,483.39C271.04,485.04 272.19,485.68 273.35,486.34C274.51,487.01 275.75,487.19 276.83,487.39C277.91,487.58 279.33,487.48 279.83,487.50Z" fill="rgba(176,196,222,0.25)" stroke="none"/>
<path d="M239.95,487.50L239.95,487.50C240.45,487.48 242.16,487.67 242.95,487.39C243.74,487.11 244.05,487.13 244.69,485.82C245.32,484.52 246.08,482.44 246.77,479.57C247.47,476.70 248.19,472.91 248.86,468.62C249.52,464.34 250.16,458.78 250.77,453.86C251.38,448.93 251.95,443.72 252.50,439.09C253.05,434.46 253.60,429.24 254.07,426.06C254.53,422.87 254.88,421.20 255.28,419.98C255.69,418.76 256.01,417.75 256.50,418.76C256.99,419.78 257.66,422.82 258.24,426.06C258.82,429.30 259.40,433.88 259.97,438.22C260.55,442.56 261.08,447.49 261.71,452.12C262.35,456.75 263.02,461.96 263.80,466.02C264.58,470.07 265.39,473.55 266.40,476.44C267.42,479.34 268.72,481.74 269.88,483.39C271.04,485.04 272.19,485.68 273.35,486.34C274.51,487.01 275.75,487.19 276.83,487.39C277.91,487.58 279.33,487.48 279.83,487.50L288.83,487.50" fill="none" stroke="rgba(172,182,208,0.9)" stroke-width="1.00" stroke-linejoin="round"/>
<path d="M238.56,487.50C239.06,487.48 240.77,487.64 241.56,487.39C242.35,487.14 242.78,487.10 243.30,486.00C243.82,484.90 244.17,483.25 244.69,480.79C245.21,478.32 245.84,474.85 246.42,471.23C247.00,467.61 247.58,463.41 248.16,459.07C248.74,454.73 249.32,449.51 249.90,445.17C250.48,440.83 251.11,435.76 251.64,433.01C252.16,430.26 252.50,428.67 253.03,428.67C253.55,428.67 254.27,430.84 254.76,433.01C255.26,435.18 255.49,437.93 255.98,441.70C256.47,445.46 257.08,450.96 257.72,455.59C258.35,460.23 259.08,465.58 259.80,469.49C260.53,473.40 261.10,476.50 262.06,479.05C263.02,481.60 264.38,483.39 265.53,484.78C266.69,486.17 267.93,486.93 269.01,487.39C270.09,487.84 271.51,487.48 272.01,487.50Z" fill="rgba(219,112,147,0.25)" stroke="none"/>
<path d="M238.56,487.50L238.56,487.50C239.06,487.48 240.77,487.64 241.56,487.39C242.35,487.14 242.78,487.10 243.30,486.00C243.82,484.90 244.17,483.25 244.69,480.79C245.21,478.32 245.84,474.85 246.42,471.23C247.00,467.61 247.58,463.41 248.16,459.07C248.74,454.73 249.32,449.51 249.90,445.17C250.48,440.83 251.11,435.76 251.64,433.01C252.16,430.26 252.50,428.67 253.03,428.67C253.55,428.67 254.27,430.84 254.76,433.01C255.26,435.18 255.49,437.93 255.98,441.70C256.47,445.46 257.08,450.96 257.72,455.59C258.35,460.23 259.08,465.58 259.80,469.49C260.53,473.40 261.10,476.50 262.06,479.05C263.02,481.60 264.38,483.39 265.53,484.78C266.69,486.17 267.93,486.93 269.01,487.39C270.09,487.84 271.51,487.48 272.01,487.50L281.01,487.50" fill="none" stroke="rgb(219,112,147)" stroke-width="1.05" stroke-linejoin="round"/>
<path d="M239.08,487.50C239.58,487.48 241.29,487.64 242.08,487.39C242.87,487.14 243.15,487.24 243.82,486.00C244.48,484.75 245.41,482.67 246.08,479.92C246.74,477.17 247.23,473.55 247.81,469.49C248.39,465.44 249.06,459.94 249.55,455.59C250.04,451.25 250.36,447.20 250.77,443.43C251.17,439.67 251.55,436.19 251.98,433.01C252.42,429.82 252.91,426.41 253.37,424.32C253.84,422.24 254.33,420.21 254.76,420.50C255.20,420.79 255.57,423.40 255.98,426.06C256.38,428.72 256.76,432.43 257.20,436.48C257.63,440.54 258.06,445.75 258.59,450.38C259.11,455.02 259.69,460.23 260.32,464.28C260.96,468.33 261.60,471.66 262.41,474.70C263.22,477.74 264.09,480.64 265.19,482.52C266.29,484.40 267.65,485.19 269.01,486.00C270.37,486.81 272.13,487.14 273.35,487.39C274.58,487.64 275.85,487.48 276.35,487.50Z" fill="rgba(65,105,225,0.25)" stroke="none"/>
<path d="M239.08,487.50L239.08,487.50C239.58,487.48 241.29,487.64 242.08,487.39C242.87,487.14 243.15,487.24 243.82,486.00C244.48,484.75 245.41,482.67 246.08,479.92C246.74,477.17 247.23,473.55 247.81,469.49C248.39,465.44 249.06,459.94 249.55,455.59C250.04,451.25 250.36,447.20 250.77,443.43C251.17,439.67 251.55,436.19 251.98,433.01C252.42,429.82 252.91,426.41 253.37,424.32C253.84,422.24 254.33,420.21 254.76,420.50C255.20,420.79 255.57,423.40 255.98,426.06C256.38,428.72 256.76,432.43 257.20,436.48C257.63,440.54 258.06,445.75 258.59,450.38C259.11,455.02 259.69,460.23 260.32,464.28C260.96,468.33 261.60,471.66 262.41,474.70C263.22,477.74 264.09,480.64 265.19,482.52C266.29,484.40 267.65,485.19 269.01,486.00C270.37,486.81 272.13,487.14 273.35,487.39C274.58,487.64 275.85,487.48 276.35,487.50L285.35,487.50" fill="none" stroke="rgb(65,105,225)" stroke-width="1.05" stroke-linejoin="round"/>
</g>
<rect x="236.16" y="376.80" width="95.30" height="110.70" fill="none" stroke="#4a4a4a" stroke-width="1.0"/>
<line x1="232.96" y1="487.50" x2="236.16" y2="487.50" stroke="#4a4a4a" stroke-width="1.0"/>
<line x1="232.96" y1="466.51" x2="236.16" y2="466.51" stroke="#4a4a4a" stroke-width="1.0"/>
<line x1="232.96" y1="445.52" x2="236.16" y2="445.52" stroke="#4a4a4a" stroke-width="1.0"/>
<line x1="232.96" y1="424.53" x2="236.16" y2="424.53" stroke="#4a4a4a" stroke-width="1.0"/>
<line x1="232.96" y1="403.54" x2="236.16" y2="403.54" stroke="#4a4a4a" stroke-width="1.0"/>
<line x1="232.96" y1="382.55" x2="236.16" y2="382.55" stroke="#4a4a4a" stroke-width="1.0"/>
<line x1="240.06" y1="487.50" x2="240.06" y2="490.70" stroke="#4a4a4a" stroke-width="1.0"/>
<line x1="274.91" y1="487.50" x2="274.91" y2="490.70" stroke="#4a4a4a" stroke-width="1.0"/>
<line x1="309.76" y1="487.50" x2="309.76" y2="490.70" stroke="#4a4a4a" stroke-width="1.0"/>
<text x="283.81" y="388.70" font-size="8.6" style="stroke-width:0.1px" text-anchor="middle" textLength="73.35" lengthAdjust="spacingAndGlyphs">#24: Fp2*, D=2.8</text>
<clipPath id="cp24"><rect x="344.44" y="376.80" width="95.30" height="110.70"/></clipPath>
<g clip-path="url(#cp24)">
<path d="M346.04,487.50C346.54,487.37 348.25,487.01 349.04,486.70C349.84,486.38 350.22,487.17 350.80,485.60C351.39,484.02 352.01,481.19 352.56,477.23C353.11,473.27 353.59,467.70 354.10,461.83C354.62,455.96 355.13,448.99 355.64,442.02C356.16,435.05 356.71,426.25 357.18,420.01C357.66,413.78 358.10,408.72 358.51,404.61C358.91,400.50 359.24,397.38 359.61,395.37C359.97,393.35 360.34,392.51 360.71,392.51C361.07,392.51 361.44,393.35 361.81,395.37C362.17,397.38 362.54,400.50 362.91,404.61C363.27,408.72 363.60,414.15 364.01,420.01C364.41,425.88 364.89,433.59 365.33,439.82C365.77,446.06 366.13,451.92 366.65,457.43C367.16,462.93 367.75,468.61 368.41,472.83C369.07,477.05 369.69,480.53 370.61,482.73C371.53,484.93 372.99,485.38 373.91,486.04C374.83,486.70 375.24,486.45 376.11,486.70C376.98,486.94 378.61,487.37 379.11,487.50Z" fill="rgba(255,192,203,0.25)" stroke="none"/>
<path d="M346.04,487.50L346.04,487.50C346.54,487.37 348.25,487.01 349.04,486.70C349.84,486.38 350.22,487.17 350.80,485.60C351.39,484.02 352.01,481.19 352.56,477.23C353.11,473.27 353.59,467.70 354.10,461.83C354.62,455.96 355.13,448.99 355.64,442.02C356.16,435.05 356.71,426.25 357.18,420.01C357.66,413.78 358.10,408.72 358.51,404.61C358.91,400.50 359.24,397.38 359.61,395.37C359.97,393.35 360.34,392.51 360.71,392.51C361.07,392.51 361.44,393.35 361.81,395.37C362.17,397.38 362.54,400.50 362.91,404.61C363.27,408.72 363.60,414.15 364.01,420.01C364.41,425.88 364.89,433.59 365.33,439.82C365.77,446.06 366.13,451.92 366.65,457.43C367.16,462.93 367.75,468.61 368.41,472.83C369.07,477.05 369.69,480.53 370.61,482.73C371.53,484.93 372.99,485.38 373.91,486.04C374.83,486.70 375.24,486.45 376.11,486.70C376.98,486.94 378.61,487.37 379.11,487.50L388.11,487.50" fill="none" stroke="rgba(250,185,200,0.85)" stroke-width="1.00" stroke-linejoin="round"/>
<path d="M345.60,487.50C346.10,487.37 347.92,486.87 348.60,486.70C349.29,486.52 349.23,486.95 349.70,486.48C350.18,486.00 350.84,486.11 351.46,483.83C352.09,481.56 352.82,477.23 353.44,472.83C354.07,468.43 354.62,462.93 355.20,457.43C355.79,451.92 356.41,446.06 356.96,439.82C357.51,433.59 358.07,425.88 358.51,420.01C358.95,414.15 359.28,408.83 359.61,404.61C359.94,400.39 360.16,397.27 360.49,394.71C360.82,392.14 361.26,389.20 361.59,389.20C361.92,389.20 362.17,392.14 362.47,394.71C362.76,397.27 363.05,400.39 363.35,404.61C363.64,408.83 363.90,414.15 364.23,420.01C364.56,425.88 364.92,433.59 365.33,439.82C365.73,446.06 366.13,451.92 366.65,457.43C367.16,462.93 367.75,468.61 368.41,472.83C369.07,477.05 369.69,480.53 370.61,482.73C371.53,484.93 372.81,485.38 373.91,486.04C375.01,486.70 376.16,486.45 377.21,486.70C378.26,486.94 379.71,487.37 380.21,487.50Z" fill="rgba(176,196,222,0.25)" stroke="none"/>
<path d="M345.60,487.50L345.60,487.50C346.10,487.37 347.92,486.87 348.60,486.70C349.29,486.52 349.23,486.95 349.70,486.48C350.18,486.00 350.84,486.11 351.46,483.83C352.09,481.56 352.82,477.23 353.44,472.83C354.07,468.43 354.62,462.93 355.20,457.43C355.79,451.92 356.41,446.06 356.96,439.82C357.51,433.59 358.07,425.88 358.51,420.01C358.95,414.15 359.28,408.83 359.61,404.61C359.94,400.39 360.16,397.27 360.49,394.71C360.82,392.14 361.26,389.20 361.59,389.20C361.92,389.20 362.17,392.14 362.47,394.71C362.76,397.27 363.05,400.39 363.35,404.61C363.64,408.83 363.90,414.15 364.23,420.01C364.56,425.88 364.92,433.59 365.33,439.82C365.73,446.06 366.13,451.92 366.65,457.43C367.16,462.93 367.75,468.61 368.41,472.83C369.07,477.05 369.69,480.53 370.61,482.73C371.53,484.93 372.81,485.38 373.91,486.04C375.01,486.70 376.16,486.45 377.21,486.70C378.26,486.94 379.71,487.37 380.21,487.50L389.21,487.50" fill="none" stroke="rgba(172,182,208,0.9)" stroke-width="1.00" stroke-linejoin="round"/>
<path d="M345.16,487.50C345.66,487.37 347.48,486.87 348.16,486.70C348.85,486.52 348.82,486.95 349.26,486.48C349.70,486.00 350.33,486.11 350.80,483.83C351.28,481.56 351.65,477.23 352.12,472.83C352.60,468.43 353.19,462.56 353.66,457.43C354.14,452.29 354.54,447.16 354.98,442.02C355.42,436.89 355.90,431.38 356.30,426.62C356.71,421.85 357.07,417.08 357.40,413.41C357.74,409.74 357.99,406.81 358.29,404.61C358.58,402.41 358.84,400.21 359.17,400.21C359.50,400.21 359.94,402.41 360.27,404.61C360.60,406.81 360.82,409.74 361.15,413.41C361.48,417.08 361.84,421.85 362.25,426.62C362.65,431.38 363.13,436.89 363.57,442.02C364.01,447.16 364.37,452.29 364.89,457.43C365.40,462.56 365.99,468.61 366.65,472.83C367.31,477.05 368.00,480.53 368.85,482.73C369.69,484.93 370.87,485.38 371.71,486.04C372.55,486.70 373.04,486.45 373.91,486.70C374.78,486.94 376.41,487.37 376.91,487.50Z" fill="rgba(219,112,147,0.25)" stroke="none"/>
<path d="M345.16,487.50L345.16,487.50C345.66,487.37 347.48,486.87 348.16,486.70C348.85,486.52 348.82,486.95 349.26,486.48C349.70,486.00 350.33,486.11 350.80,483.83C351.28,481.56 351.65,477.23 352.12,472.83C352.60,468.43 353.19,462.56 353.66,457.43C354.14,452.29 354.54,447.16 354.98,442.02C355.42,436.89 355.90,431.38 356.30,426.62C356.71,421.85 357.07,417.08 357.40,413.41C357.74,409.74 357.99,406.81 358.29,404.61C358.58,402.41 358.84,400.21 359.17,400.21C359.50,400.21 359.94,402.41 360.27,404.61C360.60,406.81 360.82,409.74 361.15,413.41C361.48,417.08 361.84,421.85 362.25,426.62C362.65,431.38 363.13,436.89 363.57,442.02C364.01,447.16 364.37,452.29 364.89,457.43C365.40,462.56 365.99,468.61 366.65,472.83C367.31,477.05 368.00,480.53 368.85,482.73C369.69,484.93 370.87,485.38 371.71,486.04C372.55,486.70 373.04,486.45 373.91,486.70C374.78,486.94 376.41,487.37 376.91,487.50L385.91,487.50" fill="none" stroke="rgb(219,112,147)" stroke-width="1.05" stroke-linejoin="round"/>
<path d="M345.60,487.50C346.10,487.37 347.85,486.94 348.60,486.70C349.36,486.45 349.59,487.25 350.14,486.04C350.69,484.82 351.35,482.73 351.90,479.43C352.45,476.13 352.97,471.00 353.44,466.23C353.92,461.46 354.32,455.96 354.76,450.82C355.20,445.69 355.64,440.55 356.08,435.42C356.52,430.28 357.00,424.42 357.40,420.01C357.81,415.61 358.14,411.50 358.51,409.01C358.87,406.52 359.24,405.05 359.61,405.05C359.97,405.05 360.34,406.52 360.71,409.01C361.07,411.50 361.40,415.61 361.81,420.01C362.21,424.42 362.69,430.28 363.13,435.42C363.57,440.55 363.97,445.69 364.45,450.82C364.92,455.96 365.40,461.64 365.99,466.23C366.57,470.81 367.20,475.33 367.97,478.33C368.74,481.34 369.44,482.92 370.61,484.27C371.78,485.63 373.54,486.07 375.01,486.48C376.48,486.88 378.18,486.52 379.41,486.70C380.65,486.87 381.91,487.37 382.41,487.50Z" fill="rgba(65,105,225,0.25)" stroke="none"/>
<path d="M345.60,487.50L345.60,487.50C346.10,487.37 347.85,486.94 348.60,486.70C349.36,486.45 349.59,487.25 350.14,486.04C350.69,484.82 351.35,482.73 351.90,479.43C352.45,476.13 352.97,471.00 353.44,466.23C353.92,461.46 354.32,455.96 354.76,450.82C355.20,445.69 355.64,440.55 356.08,435.42C356.52,430.28 357.00,424.42 357.40,420.01C357.81,415.61 358.14,411.50 358.51,409.01C358.87,406.52 359.24,405.05 359.61,405.05C359.97,405.05 360.34,406.52 360.71,409.01C361.07,411.50 361.40,415.61 361.81,420.01C362.21,424.42 362.69,430.28 363.13,435.42C363.57,440.55 363.97,445.69 364.45,450.82C364.92,455.96 365.40,461.64 365.99,466.23C366.57,470.81 367.20,475.33 367.97,478.33C368.74,481.34 369.44,482.92 370.61,484.27C371.78,485.63 373.54,486.07 375.01,486.48C376.48,486.88 378.18,486.52 379.41,486.70C380.65,486.87 381.91,487.37 382.41,487.50L391.41,487.50" fill="none" stroke="rgb(65,105,225)" stroke-width="1.05" stroke-linejoin="round"/>
</g>
<rect x="344.44" y="376.80" width="95.30" height="110.70" fill="none" stroke="#4a4a4a" stroke-width="1.0"/>
<line x1="341.24" y1="487.50" x2="344.44" y2="487.50" stroke="#4a4a4a" stroke-width="1.0"/>
<line x1="341.24" y1="466.51" x2="344.44" y2="466.51" stroke="#4a4a4a" stroke-width="1.0"/>
<line x1="341.24" y1="445.52" x2="344.44" y2="445.52" stroke="#4a4a4a" stroke-width="1.0"/>
<line x1="341.24" y1="424.53" x2="344.44" y2="424.53" stroke="#4a4a4a" stroke-width="1.0"/>
<line x1="341.24" y1="403.54" x2="344.44" y2="403.54" stroke="#4a4a4a" stroke-width="1.0"/>
<line x1="341.24" y1="382.55" x2="344.44" y2="382.55" stroke="#4a4a4a" stroke-width="1.0"/>
<line x1="348.34" y1="487.50" x2="348.34" y2="490.70" stroke="#4a4a4a" stroke-width="1.0"/>
<line x1="383.19" y1="487.50" x2="383.19" y2="490.70" stroke="#4a4a4a" stroke-width="1.0"/>
<line x1="418.04" y1="487.50" x2="418.04" y2="490.70" stroke="#4a4a4a" stroke-width="1.0"/>
<text x="392.09" y="388.70" font-size="8.6" style="stroke-width:0.1px" text-anchor="middle" textLength="64.05" lengthAdjust="spacingAndGlyphs">#25: F7, D=1.8</text>
<clipPath id="cp25"><rect x="452.72" y="376.80" width="95.30" height="110.70"/></clipPath>
<g clip-path="url(#cp25)">
<path d="M454.96,487.50C455.46,487.49 457.24,487.99 457.96,487.45C458.67,486.91 458.81,486.56 459.23,484.26C459.66,481.95 460.05,478.23 460.51,473.62C460.97,469.01 461.50,462.62 462.00,456.60C462.50,450.57 463.03,443.48 463.49,437.45C463.95,431.42 464.34,425.57 464.77,420.43C465.19,415.28 465.62,410.21 466.04,406.60C466.47,402.98 466.89,398.90 467.32,398.72C467.74,398.55 468.10,401.56 468.60,405.53C469.09,409.50 469.70,416.52 470.30,422.55C470.90,428.58 471.57,435.67 472.21,441.70C472.85,447.73 473.42,453.76 474.13,458.72C474.84,463.69 475.62,468.01 476.47,471.49C477.32,474.96 478.28,477.45 479.23,479.57C480.19,481.70 481.26,483.09 482.21,484.26C483.17,485.43 484.06,486.06 484.98,486.60C485.90,487.13 486.78,487.30 487.74,487.45C488.71,487.60 490.24,487.49 490.74,487.50Z" fill="rgba(255,192,203,0.25)" stroke="none"/>
<path d="M454.96,487.50L454.96,487.50C455.46,487.49 457.24,487.99 457.96,487.45C458.67,486.91 458.81,486.56 459.23,484.26C459.66,481.95 460.05,478.23 460.51,473.62C460.97,469.01 461.50,462.62 462.00,456.60C462.50,450.57 463.03,443.48 463.49,437.45C463.95,431.42 464.34,425.57 464.77,420.43C465.19,415.28 465.62,410.21 466.04,406.60C466.47,402.98 466.89,398.90 467.32,398.72C467.74,398.55 468.10,401.56 468.60,405.53C469.09,409.50 469.70,416.52 470.30,422.55C470.90,428.58 471.57,435.67 472.21,441.70C472.85,447.73 473.42,453.76 474.13,458.72C474.84,463.69 475.62,468.01 476.47,471.49C477.32,474.96 478.28,477.45 479.23,479.57C480.19,481.70 481.26,483.09 482.21,484.26C483.17,485.43 484.06,486.06 484.98,486.60C485.90,487.13 486.78,487.30 487.74,487.45C488.71,487.60 490.24,487.49 490.74,487.50L499.74,487.50" fill="none" stroke="rgba(250,185,200,0.85)" stroke-width="1.00" stroke-linejoin="round"/>
<path d="M454.53,487.50C455.03,487.49 456.82,487.63 457.53,487.45C458.24,487.26 458.38,487.27 458.81,486.38C459.23,485.50 459.62,484.96 460.09,482.13C460.55,479.29 461.08,474.33 461.57,469.36C462.07,464.40 462.60,458.01 463.06,452.34C463.52,446.67 463.91,440.99 464.34,435.32C464.77,429.65 465.19,423.26 465.62,418.30C466.04,413.33 466.50,408.55 466.89,405.53C467.28,402.52 467.53,399.50 467.96,400.21C468.38,400.92 468.91,405.35 469.45,409.79C469.98,414.22 470.58,421.13 471.15,426.81C471.72,432.48 472.25,438.16 472.85,443.83C473.45,449.50 474.06,455.89 474.77,460.85C475.48,465.82 476.36,470.57 477.11,473.62C477.85,476.67 478.60,477.94 479.23,479.15C479.87,480.35 480.33,480.00 480.94,480.85C481.54,481.70 482.07,483.16 482.85,484.26C483.63,485.35 484.66,486.91 485.62,487.45C486.58,487.99 488.12,487.49 488.62,487.50Z" fill="rgba(176,196,222,0.25)" stroke="none"/>
<path d="M454.53,487.50L454.53,487.50C455.03,487.49 456.82,487.63 457.53,487.45C458.24,487.26 458.38,487.27 458.81,486.38C459.23,485.50 459.62,484.96 460.09,482.13C460.55,479.29 461.08,474.33 461.57,469.36C462.07,464.40 462.60,458.01 463.06,452.34C463.52,446.67 463.91,440.99 464.34,435.32C464.77,429.65 465.19,423.26 465.62,418.30C466.04,413.33 466.50,408.55 466.89,405.53C467.28,402.52 467.53,399.50 467.96,400.21C468.38,400.92 468.91,405.35 469.45,409.79C469.98,414.22 470.58,421.13 471.15,426.81C471.72,432.48 472.25,438.16 472.85,443.83C473.45,449.50 474.06,455.89 474.77,460.85C475.48,465.82 476.36,470.57 477.11,473.62C477.85,476.67 478.60,477.94 479.23,479.15C479.87,480.35 480.33,480.00 480.94,480.85C481.54,481.70 482.07,483.16 482.85,484.26C483.63,485.35 484.66,486.91 485.62,487.45C486.58,487.99 488.12,487.49 488.62,487.50L497.62,487.50" fill="none" stroke="rgba(172,182,208,0.9)" stroke-width="1.00" stroke-linejoin="round"/>
<path d="M454.53,487.50C455.03,487.49 456.82,488.09 457.53,487.45C458.24,486.80 458.38,486.28 458.81,483.62C459.23,480.96 459.66,475.99 460.09,471.49C460.51,466.99 460.94,461.91 461.36,456.60C461.79,451.28 462.21,445.25 462.64,439.57C463.06,433.90 463.49,427.87 463.91,422.55C464.34,417.23 464.77,411.21 465.19,407.66C465.62,404.11 466.01,401.28 466.47,401.28C466.93,401.28 467.46,404.11 467.96,407.66C468.45,411.21 468.91,417.23 469.45,422.55C469.98,427.87 470.58,433.90 471.15,439.57C471.72,445.25 472.25,451.63 472.85,456.60C473.45,461.56 474.06,465.64 474.77,469.36C475.48,473.09 476.22,476.45 477.11,478.94C477.99,481.42 479.13,482.98 480.09,484.26C481.04,485.53 481.86,486.06 482.85,486.60C483.84,487.13 485.01,487.30 486.04,487.45C487.07,487.60 488.54,487.49 489.04,487.50Z" fill="rgba(219,112,147,0.25)" stroke="none"/>
<path d="M454.53,487.50L454.53,487.50C455.03,487.49 456.82,488.09 457.53,487.45C458.24,486.80 458.38,486.28 458.81,483.62C459.23,480.96 459.66,475.99 460.09,471.49C460.51,466.99 460.94,461.91 461.36,456.60C461.79,451.28 462.21,445.25 462.64,439.57C463.06,433.90 463.49,427.87 463.91,422.55C464.34,417.23 464.77,411.21 465.19,407.66C465.62,404.11 466.01,401.28 466.47,401.28C466.93,401.28 467.46,404.11 467.96,407.66C468.45,411.21 468.91,417.23 469.45,422.55C469.98,427.87 470.58,433.90 471.15,439.57C471.72,445.25 472.25,451.63 472.85,456.60C473.45,461.56 474.06,465.64 474.77,469.36C475.48,473.09 476.22,476.45 477.11,478.94C477.99,481.42 479.13,482.98 480.09,484.26C481.04,485.53 481.86,486.06 482.85,486.60C483.84,487.13 485.01,487.30 486.04,487.45C487.07,487.60 488.54,487.49 489.04,487.50L498.04,487.50" fill="none" stroke="rgb(219,112,147)" stroke-width="1.05" stroke-linejoin="round"/>
<path d="M454.11,487.50C454.61,487.49 456.39,487.74 457.11,487.45C457.82,487.15 457.99,487.34 458.38,485.74C458.77,484.15 459.09,481.31 459.45,477.87C459.80,474.43 460.16,469.72 460.51,465.11C460.87,460.50 461.22,455.53 461.57,450.21C461.93,444.89 462.28,438.87 462.64,433.19C462.99,427.52 463.35,421.49 463.70,416.17C464.06,410.85 464.41,405.00 464.77,401.28C465.12,397.55 465.40,393.48 465.83,393.83C466.26,394.18 466.79,398.97 467.32,403.40C467.85,407.84 468.45,414.75 469.02,420.43C469.59,426.10 470.19,432.13 470.72,437.45C471.26,442.77 471.68,447.38 472.21,452.34C472.74,457.30 473.28,462.98 473.91,467.23C474.55,471.49 475.26,475.04 476.04,477.87C476.82,480.71 477.64,482.80 478.60,484.26C479.55,485.71 480.72,486.06 481.79,486.60C482.85,487.13 483.95,487.30 484.98,487.45C486.01,487.60 487.48,487.49 487.98,487.50Z" fill="rgba(65,105,225,0.25)" stroke="none"/>
<path d="M454.11,487.50L454.11,487.50C454.61,487.49 456.39,487.74 457.11,487.45C457.82,487.15 457.99,487.34 458.38,485.74C458.77,484.15 459.09,481.31 459.45,477.87C459.80,474.43 460.16,469.72 460.51,465.11C460.87,460.50 461.22,455.53 461.57,450.21C461.93,444.89 462.28,438.87 462.64,433.19C462.99,427.52 463.35,421.49 463.70,416.17C464.06,410.85 464.41,405.00 464.77,401.28C465.12,397.55 465.40,393.48 465.83,393.83C466.26,394.18 466.79,398.97 467.32,403.40C467.85,407.84 468.45,414.75 469.02,420.43C469.59,426.10 470.19,432.13 470.72,437.45C471.26,442.77 471.68,447.38 472.21,452.34C472.74,457.30 473.28,462.98 473.91,467.23C474.55,471.49 475.26,475.04 476.04,477.87C476.82,480.71 477.64,482.80 478.60,484.26C479.55,485.71 480.72,486.06 481.79,486.60C482.85,487.13 483.95,487.30 484.98,487.45C486.01,487.60 487.48,487.49 487.98,487.50L496.98,487.50" fill="none" stroke="rgb(65,105,225)" stroke-width="1.05" stroke-linejoin="round"/>
</g>
<rect x="452.72" y="376.80" width="95.30" height="110.70" fill="none" stroke="#4a4a4a" stroke-width="1.0"/>
<line x1="449.52" y1="487.50" x2="452.72" y2="487.50" stroke="#4a4a4a" stroke-width="1.0"/>
<line x1="449.52" y1="466.51" x2="452.72" y2="466.51" stroke="#4a4a4a" stroke-width="1.0"/>
<line x1="449.52" y1="445.52" x2="452.72" y2="445.52" stroke="#4a4a4a" stroke-width="1.0"/>
<line x1="449.52" y1="424.53" x2="452.72" y2="424.53" stroke="#4a4a4a" stroke-width="1.0"/>
<line x1="449.52" y1="403.54" x2="452.72" y2="403.54" stroke="#4a4a4a" stroke-width="1.0"/>
<line x1="449.52" y1="382.55" x2="452.72" y2="382.55" stroke="#4a4a4a" stroke-width="1.0"/>
<line x1="456.62" y1="487.50" x2="456.62" y2="490.70" stroke="#4a4a4a" stroke-width="1.0"/>
<line x1="491.47" y1="487.50" x2="491.47" y2="490.70" stroke="#4a4a4a" stroke-width="1.0"/>
<line x1="526.32" y1="487.50" x2="526.32" y2="490.70" stroke="#4a4a4a" stroke-width="1.0"/>
<text x="500.37" y="388.70" font-size="8.6" style="stroke-width:0.1px" text-anchor="middle" textLength="73.35" lengthAdjust="spacingAndGlyphs">#26: Fp1*, D=3.5</text>
<rect x="632.6" y="425.80" width="18.0" height="6.4" fill="rgba(255,192,203,0.25)" stroke="rgba(250,185,200,0.85)" stroke-width="0.85"/>
<text x="658.10" y="431.80" font-size="9.5" textLength="85.34" lengthAdjust="spacingAndGlyphs">Female, Eyes open</text>
<rect x="632.6" y="439.68" width="18.0" height="6.4" fill="rgba(176,196,222,0.25)" stroke="rgba(172,182,208,0.9)" stroke-width="0.85"/>
<text x="658.10" y="445.68" font-size="9.5" textLength="73.93" lengthAdjust="spacingAndGlyphs">Male, Eyes open</text>
<rect x="632.6" y="453.56" width="18.0" height="6.4" fill="rgba(219,112,147,0.25)" stroke="rgb(219,112,147)" stroke-width="0.85"/>
<text x="658.10" y="459.56" font-size="9.5" textLength="91.88" lengthAdjust="spacingAndGlyphs">Female, Eyes closed</text>
<rect x="632.6" y="467.44" width="18.0" height="6.4" fill="rgba(65,105,225,0.25)" stroke="rgb(65,105,225)" stroke-width="0.85"/>
<text x="658.10" y="473.44" font-size="9.5" textLength="80.47" lengthAdjust="spacingAndGlyphs">Male, Eyes closed</text>
<text x="264.90" y="512.9" font-size="11.5" textLength="229.76" lengthAdjust="spacingAndGlyphs">Feature importance value by EEG channel</text>
<text transform="translate(10.0,279.4) rotate(-90)" x="0" y="0" font-size="11.5" textLength="40.70" lengthAdjust="spacingAndGlyphs">Density</text>
</svg></body></html>
